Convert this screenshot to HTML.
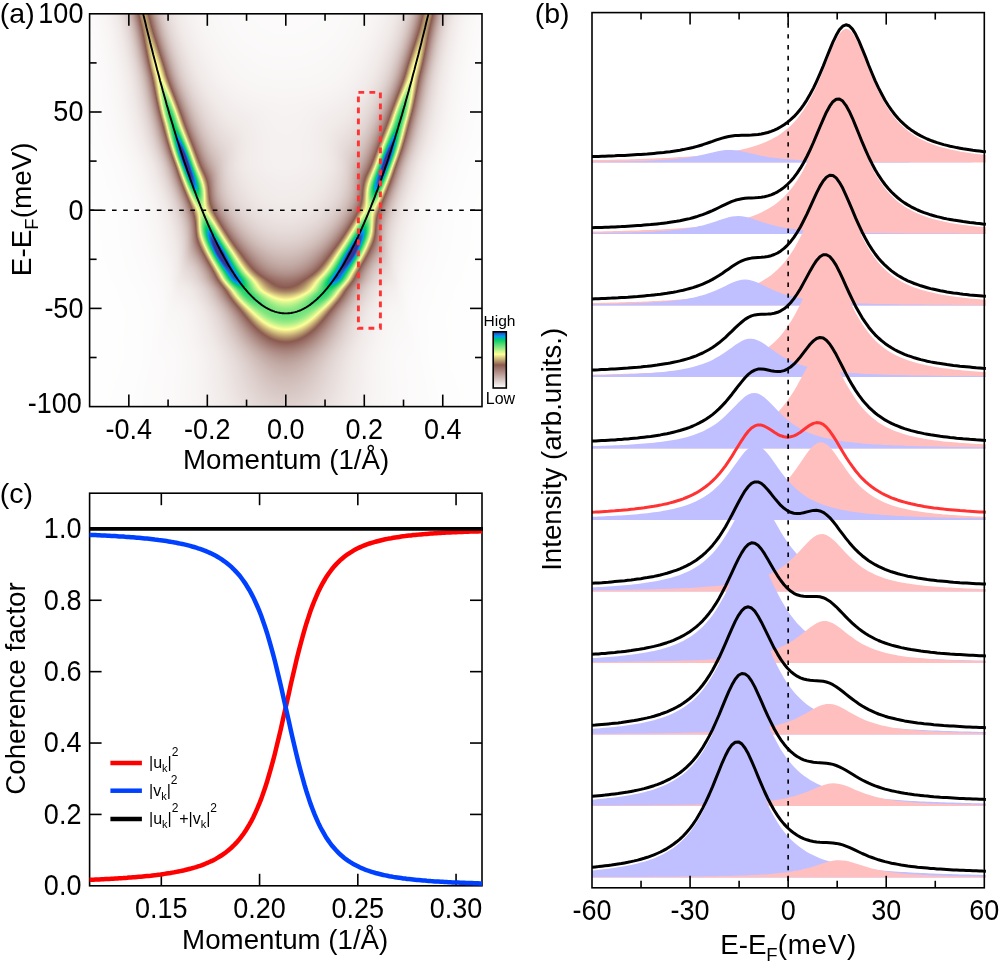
<!DOCTYPE html>
<html><head><meta charset="utf-8"><style>
html,body{margin:0;padding:0;background:#fff;width:1000px;height:966px;overflow:hidden}
#hs{position:absolute;left:90.5px;top:14px;width:195.30px;height:393px;-webkit-box-reflect:right}
#hs i{display:block;height:1px;background:linear-gradient(90deg,var(--g))}
#hm{position:absolute;left:90px;top:14px;width:392px;height:393px}
svg{position:absolute;left:0;top:0}
text{font-family:'Liberation Sans',sans-serif;fill:#000}
</style></head><body>
<div id="hs"><i style="--g:#fbfaf9,#f2edec 23px,#e4d9d7 33px,#d0bdb9 39px,#b89c95 43px,#8d5e55 48px,#966b58 49px,#b4966b 51px,#bda270 52px,#c1a772 53px,#bea471 54px,#b7996c 55px,#9b725b 57px,#8a5a50 58px,#b99c96 64px,#d1beba 69px,#e3d8d5 76px,#f1ebea 89px,#faf8f7 124px,#fcfbfa 195.3px"></i><i style="--g:#fbfaf9,#f3eeec 23px,#e5dad8 33px,#d1beba 39px,#ba9e98 43px,#8f6158 48px,#926555 49px,#b29269 51px,#bca06f 52px,#c0a772 53px,#bfa571 54px,#b99c6d 55px,#9f785d 57px,#8e6053 58px,#90635a 59px,#b79a93 64px,#d0bdb9 69px,#e3d7d5 76px,#f1ebea 89px,#faf7f7 123px,#fcfbfa 195.3px"></i><i style="--g:#fbfafa,#f2edeb 24px,#e3d7d5 34px,#cdb9b5 40px,#b4968f 44px,#91645b 48px,#8e5f52 49px,#af8e67 51px,#ba9d6e 52px,#c0a672 53px,#c0a672 54px,#bb9f6f 55px,#a37d60 57px,#936655 58px,#8e6056 59px,#b59791 64px,#cfbbb7 69px,#e2d6d4 76px,#f1ebe9 89px,#f9f7f7 122px,#fcfbfa 195.3px"></i><i style="--g:#fbfafa,#f2edec 24px,#e3d8d6 34px,#cfbbb7 40px,#b69892 44px,#8a5b51 49px,#ab8965 51px,#b79a6c 52px,#bfa471 53px,#c1a772 54px,#bda170 55px,#a78362 57px,#976c58 58px,#8c5d53 59px,#ba9e98 65px,#d2bfbb 70px,#e5dbd8 78px,#f3edec 93px,#fbf9f8 136px,#fcfbfa 195.3px"></i><i style="--g:#fbfafa,#f2edec 24px,#e4d9d7 34px,#d0bcb8 40px,#b89b95 44px,#8d5e54 49px,#976d58 50px,#b5976b 52px,#bda370 53px,#c1a772 54px,#bea371 55px,#b6996c 56px,#9b725b 58px,#8a5a50 59px,#b99c96 65px,#d1beba 70px,#e3d8d5 77px,#f1ebea 90px,#faf7f7 125px,#fcfbfa 195.3px"></i><i style="--g:#fbfafa,#f3edec 24px,#e4dad7 34px,#d1beba 40px,#ba9d97 44px,#8f6157 49px,#936756 50px,#b29369 52px,#bca06f 53px,#c0a772 54px,#bfa571 55px,#b99c6d 56px,#9f785d 58px,#8e6053 59px,#90635a 60px,#b79993 65px,#d0bdb9 70px,#e3d7d4 77px,#f1ebea 90px,#faf7f7 124px,#fcfafa 195.3px"></i><i style="--g:#fbfafa,#f3eeed 24px,#e5dad8 34px,#d2bfbb 40px,#b4958f 45px,#91645a 49px,#8e6053 50px,#af8e67 52px,#ba9e6e 53px,#c0a672 54px,#c0a672 55px,#bb9f6e 56px,#a37d5f 58px,#926655 59px,#8e6057 60px,#b59791 65px,#cfbbb7 70px,#e2d6d4 77px,#f0eae9 90px,#f9f7f7 123px,#fcfafa 195.3px"></i><i style="--g:#fbfafa,#f3eeed 24px,#e6dbd9 34px,#d3c1bd 40px,#b69891 45px,#8a5a50 50px,#ac8a65 52px,#b89b6d 53px,#bfa571 54px,#c0a772 55px,#bca16f 56px,#a68262 58px,#976c58 59px,#8c5d54 60px,#ba9e98 66px,#d2bfbb 71px,#e5dad8 79px,#f3edec 94px,#faf9f8 137px,#fcfafa 195.3px"></i><i style="--g:#fcfafa,#f3eeed 24px,#e6dcda 34px,#d4c2bf 40px,#b79a94 45px,#8c5d53 50px,#986e59 51px,#b5976b 53px,#bea370 54px,#c1a772 55px,#bea370 56px,#b6986c 57px,#9b715a 59px,#8a5a50 60px,#b99c96 66px,#d1beba 71px,#e3d7d5 78px,#f1ebea 91px,#f9f7f7 125px,#fcfafa 195.3px"></i><i style="--g:#fcfafa,#f2edec 25px,#e4d9d7 35px,#d1beba 41px,#b99d97 45px,#8e6057 50px,#946756 51px,#b39369 53px,#bca16f 54px,#c0a772 55px,#bfa571 56px,#b89b6d 57px,#9f775d 59px,#8e5f52 60px,#91635a 61px,#b79993 66px,#d0bdb8 71px,#e2d7d4 78px,#f1ebe9 91px,#f9f7f7 125px,#fcfafa 195.3px"></i><i style="--g:#fcfafa,#f3eeed 25px,#e5dad8 35px,#d2bfbb 41px,#b4958e 46px,#91635a 50px,#8f6153 51px,#b08f67 53px,#ba9e6e 54px,#c0a672 55px,#c0a672 56px,#bb9e6e 57px,#a27c5f 59px,#926555 60px,#8f6057 61px,#b59791 66px,#cfbbb7 71px,#e2d6d4 78px,#f0eae9 91px,#f9f7f7 124px,#fcfafa 195.3px"></i><i style="--g:#fcfafa,#f3eeed 25px,#e5dbd9 35px,#d3c1bd 41px,#b59791 46px,#8b5b50 51px,#ad8b66 53px,#b89b6d 54px,#bfa571 55px,#c1a772 56px,#bda170 57px,#a68262 59px,#966b58 60px,#8c5d54 61px,#ba9e98 67px,#d2bfbb 72px,#e5dad8 80px,#f2edec 95px,#faf9f8 138px,#fcfafa 195.3px"></i><i style="--g:#fcfafa,#f3eeed 25px,#e6dcd9 35px,#d4c2be 41px,#b79a94 46px,#8c5c53 51px,#b6986c 54px,#bea471 55px,#c1a872 56px,#bea471 57px,#b7996c 58px,#9b725b 60px,#8a5a50 61px,#b89c96 67px,#d1beba 72px,#e5dad7 80px,#f2eceb 94px,#faf8f8 133px,#fcfafa 195.3px"></i><i style="--g:#fcfafa,#f3eeed 25px,#e6dcda 35px,#d5c3c0 41px,#b99c96 46px,#8e5f56 51px,#956957 52px,#b4956a 54px,#bea370 55px,#c2a973 56px,#c0a672 57px,#b99d6e 58px,#9f785d 60px,#8e6053 61px,#90635a 62px,#b79993 67px,#d0bcb8 72px,#e2d7d4 79px,#f0ebe9 92px,#f9f7f7 126px,#fcfafa 195.3px"></i><i style="--g:#fcfafa,#f3efee 25px,#e5dad8 36px,#d1bfbb 42px,#b3948d 47px,#906259 51px,#916454 52px,#b29269 54px,#bca16f 55px,#c2a973 56px,#c2a973 57px,#bca16f 58px,#a47e60 60px,#936756 61px,#8e6056 62px,#b59790 67px,#cfbbb7 72px,#e2d6d3 79px,#f0eae9 92px,#f9f7f6 125px,#fcfafa 195.3px"></i><i style="--g:#fcfafa,#f3eeed 26px,#e5dbd8 36px,#d2c0bc 42px,#b59690 47px,#92655c 51px,#8d5e52 52px,#af8e67 54px,#bb9f6f 55px,#c2a973 56px,#c3ab74 57px,#bfa571 58px,#a88563 60px,#8c5c52 62px,#b3948e 67px,#ceb9b5 72px,#e1d5d3 79px,#efe9e8 91px,#f9f6f6 121px,#fcfafa 195.3px"></i><i style="--g:#fcfafa,#f3eeed 26px,#e6dbd9 36px,#d3c1be 42px,#b69992 47px,#8a5b51 52px,#ac8b66 54px,#b99d6e 55px,#c2a973 56px,#c4ac74 57px,#c2a873 58px,#b99d6e 59px,#9d755c 61px,#8c5c51 62px,#b89b95 68px,#d0bdb9 73px,#e3d7d5 80px,#f1ebe9 93px,#f9f7f7 127px,#fcfafa 195.3px"></i><i style="--g:#fcfafa,#f3eeed 26px,#e6dcda 36px,#d4c3bf 42px,#b89b95 47px,#8c5d54 52px,#986e59 53px,#b89a6d 55px,#c1a872 56px,#c5ae75 57px,#c4ac74 58px,#bda270 59px,#a27c5f 61px,#916454 62px,#8f6158 63px,#b69892 68px,#cfbcb8 73px,#e2d6d4 80px,#f0eae9 93px,#f9f7f7 127px,#fcfafa 195.3px"></i><i style="--g:#fcfbfa,#f3eeed 26px,#e7dddb 36px,#d5c4c0 42px,#ba9d97 47px,#8e6056 52px,#956957 53px,#b6986b 55px,#c1a772 56px,#c6af76 57px,#c6af75 58px,#c0a772 59px,#a78362 61px,#966c58 62px,#8d5e54 63px,#b4968f 68px,#cebab6 73px,#e2d5d3 80px,#f0eae9 93px,#f9f7f6 126px,#fcfafa 195.3px"></i><i style="--g:#fcfbfa,#f3efee 26px,#e5dad8 37px,#d2bfbb 43px,#bb9f99 47px,#906359 52px,#916454 53px,#b4956a 55px,#c0a672 56px,#c7b076 57px,#c8b177 58px,#c4ab74 59px,#ac8b65 61px,#8a5a50 63px,#b2938c 68px,#cdb9b4 73px,#e1d5d2 80px,#efe9e7 92px,#f9f6f6 122px,#fcfafa 195.3px"></i><i style="--g:#fcfbfa,#f4efee 26px,#e5dbd9 37px,#d3c1bd 43px,#b59791 48px,#92655c 52px,#8d5e52 53px,#b19269 55px,#bfa471 56px,#c7b076 57px,#cab478 58px,#c7b076 59px,#bea471 60px,#a27b5f 62px,#906253 63px,#906359 64px,#b79993 69px,#d0bcb8 74px,#e2d6d4 81px,#f0eae9 94px,#f9f7f6 128px,#fcfafa 195.3px"></i><i style="--g:#fcfbfa,#f4efee 26px,#e6dcd9 37px,#d4c2be 43px,#b79993 48px,#8a5a51 53px,#af8e67 55px,#bda270 56px,#c7b076 57px,#cbb679 58px,#cab478 59px,#c2a973 60px,#a78362 62px,#956a57 63px,#8d5f55 64px,#b59790 69px,#cfbbb7 74px,#e2d6d3 81px,#f0eae9 94px,#f9f7f6 127px,#fbfafa 195.3px"></i><i style="--g:#fcfbfa,#f3eeed 27px,#e6dcda 37px,#d5c3bf 43px,#b89c95 48px,#8c5d53 53px,#9a705a 54px,#bca06f 56px,#c7b076 57px,#ccb879 58px,#ccb779 59px,#c6af76 60px,#ad8b66 62px,#8b5b51 64px,#b3948d 69px,#cdb9b5 74px,#e1d5d2 81px,#f0eae8 94px,#f9f6f6 126px,#fbfafa 195.3px"></i><i style="--g:#fcfbfa,#f3eeed 27px,#e5dad7 38px,#d1beba 44px,#ba9e98 48px,#8e6056 53px,#966b58 54px,#ba9d6e 56px,#c6af75 57px,#cdb97a 58px,#cfbb7b 59px,#cab478 60px,#b29369 62px,#8f6153 64px,#91635a 65px,#b89a94 70px,#d0bdb9 75px,#e2d7d4 82px,#f0eae9 95px,#f9f7f6 129px,#fbfafa 195.3px"></i><i style="--g:#fcfbfa,#f3efee 27px,#e5dad8 38px,#d2c0bc 44px,#bba09a 48px,#906259 53px,#926655 54px,#b89a6c 56px,#c5ad75 57px,#ceba7a 58px,#d1be7c 59px,#cdb97a 60px,#c5ad75 61px,#a78362 63px,#956957 64px,#8e6056 65px,#b69891 70px,#cfbbb7 75px,#e2d6d3 82px,#f0eae9 95px,#f9f7f6 128px,#fbfafa 195.3px"></i><i style="--g:#fcfbfa,#f4efee 27px,#e5dbd9 38px,#d3c1bd 44px,#bda29c 48px,#92655c 53px,#8f6053 54px,#b5976b 56px,#c4ac74 57px,#ceba7a 58px,#d2c07d 59px,#d1be7c 60px,#c9b378 61px,#ad8c66 63px,#8b5b52 65px,#b4958e 70px,#cebab5 75px,#e1d5d2 82px,#f0eae8 95px,#f9f7f6 128px,#fbfafa 195.3px"></i><i style="--g:#fcfbfb,#f4efee 27px,#e6dcd9 38px,#d4c2be 44px,#bea49e 48px,#9d756d 52px,#8b5b50 54px,#b39369 56px,#c3aa73 57px,#ceba7a 58px,#d4c27e 59px,#d4c27e 60px,#ceb97a 61px,#b3946a 63px,#8e6053 65px,#91645b 66px,#b89b95 71px,#d0bdb9 76px,#e4d9d7 84px,#f1eceb 98px,#faf8f7 137px,#fbfaf9 195.3px"></i><i style="--g:#fcfbfb,#f4efee 27px,#e6dcda 38px,#d5c3c0 44px,#b99c96 49px,#8c5c52 54px,#c1a772 57px,#ceb97a 58px,#d5c47f 59px,#d6c680 60px,#d2bf7d 61px,#c8b176 62px,#a88463 64px,#956957 65px,#8e6056 66px,#b69892 71px,#cfbcb7 76px,#e2d6d3 83px,#f0eae9 96px,#f9f7f6 129px,#fbfaf9 195.3px"></i><i style="--g:#fcfbfb,#f4efef 27px,#e7dddb 38px,#d5c4c1 44px,#ba9e98 49px,#8d5f55 54px,#986e59 55px,#bfa471 57px,#cdb87a 58px,#d6c57f 59px,#d9c981 60px,#d5c47f 61px,#cdb87a 62px,#ae8d66 64px,#8b5c52 66px,#b4958f 71px,#cebab6 76px,#e1d5d2 83px,#f0eae8 96px,#f9f6f6 129px,#fbfaf9 195.3px"></i><i style="--g:#fcfbfb,#f3efee 28px,#e5dad8 39px,#d2c0bc 45px,#bca09a 49px,#997067 53px,#8f6258 54px,#946956 55px,#bca16f 57px,#ccb779 58px,#d6c57f 59px,#dbcc82 60px,#d9c981 61px,#d1bf7d 62px,#b4966a 64px,#8e5f52 66px,#91655b 67px,#b99c96 72px,#d1bdba 77px,#e4d9d7 85px,#f2eceb 100px,#faf8f7 141px,#fbfaf9 195.3px"></i><i style="--g:#fcfbfb,#f4efee 28px,#e5dbd9 39px,#d3c1bd 45px,#bda29c 49px,#9b726a 53px,#91645b 54px,#906354 55px,#ba9d6e 57px,#cab578 58px,#d6c57f 59px,#dcce83 60px,#dcce83 61px,#d6c57f 62px,#bb9f6e 64px,#946957 66px,#8e6057 67px,#b79993 72px,#cfbcb8 77px,#e2d6d3 84px,#f0eae8 97px,#f9f7f6 131px,#fbfaf9 195.3px"></i><i style="--g:#fcfbfb,#f4efee 28px,#e6dcd9 39px,#d4c2bf 45px,#bea49e 49px,#9d756d 53px,#8c5d51 55px,#b7996c 57px,#c8b277 58px,#d6c57f 59px,#ddd084 60px,#dfd285 61px,#dacb82 62px,#d0bc7c 63px,#af8e67 65px,#8b5c52 67px,#b59690 72px,#cebab6 77px,#e1d5d2 84px,#f0e9e8 97px,#f9f6f6 130px,#fbfaf9 195.3px"></i><i style="--g:#fcfbfb,#f4efee 28px,#e6dcda 39px,#d5c3c0 45px,#c0a6a0 49px,#9f7870 53px,#8b5b51 55px,#c6af76 58px,#d5c47f 59px,#ded185 60px,#e1d587 61px,#ded185 62px,#d5c47f 63px,#b6976b 65px,#8e5f52 67px,#92655c 68px,#b99c96 73px,#d1beba 78px,#e4d9d7 86px,#f2eceb 101px,#faf8f7 142px,#fbf9f9 195.3px"></i><i style="--g:#fcfbfb,#f4efee 28px,#e7dddb 39px,#d6c5c1 45px,#ba9e98 50px,#976d64 54px,#8d5e54 55px,#9a715a 56px,#c4ac74 58px,#d4c27e 59px,#dfd185 60px,#e3d888 61px,#e2d687 62px,#dacb82 63px,#bca16f 65px,#946956 67px,#8f6157 68px,#b79993 73px,#d0bcb8 78px,#e2d6d3 85px,#f0eae8 98px,#f9f6f6 132px,#fbf9f9 195.3px"></i><i style="--g:#fcfbfb,#f4f0ef 28px,#e7dddb 39px,#d6c6c2 45px,#bca09a 50px,#996f67 54px,#8f6157 55px,#966b58 56px,#c1a872 58px,#d2c07d 59px,#dfd185 60px,#e5da89 61px,#e5da89 62px,#dfd185 63px,#d3c17d 64px,#b08f68 66px,#9b725b 67px,#8c5c52 68px,#b59690 73px,#cebab6 78px,#e1d5d2 85px,#f0e9e8 98px,#f9f6f6 131px,#fbf9f9 195.3px"></i><i style="--g:#fcfbfb,#f4f0ef 28px,#e8dedc 39px,#d7c7c3 45px,#bda29d 50px,#9b726a 54px,#91645a 55px,#926555 56px,#bea370 58px,#d0bd7c 59px,#ded184 60px,#e6dc8a 61px,#e8de8b 62px,#e3d888 63px,#d8c981 64px,#b7996c 66px,#8d5f52 68px,#92655c 69px,#b3938d 73px,#cdb9b4 78px,#e1d4d1 85px,#efe9e8 98px,#f9f6f5 130px,#fbf9f9 195.3px"></i><i style="--g:#fcfbfb,#f4efee 29px,#e6dcd9 40px,#d4c2bf 46px,#bfa49f 50px,#9d756d 54px,#93675d 55px,#8e5f52 56px,#ceba7a 59px,#ddcf84 60px,#e7dd8a 61px,#eae28c 62px,#e7dd8a 63px,#ded084 64px,#bda370 66px,#946856 68px,#8f6157 69px,#b1908a 73px,#ccb7b2 78px,#e0d3d0 85px,#eee8e6 97px,#f8f5f5 127px,#fbf9f9 195.3px"></i><i style="--g:#fcfbfb,#f4efee 29px,#e6dcda 40px,#d5c4c0 46px,#c0a6a1 50px,#9f7870 54px,#8a5b51 56px,#cbb679 59px,#dccd83 60px,#e7dd8a 61px,#ece58d 62px,#ebe28c 63px,#e3d787 64px,#c4ac74 66px,#9b725b 68px,#8c5d53 69px,#ae8d86 73px,#cab5b0 78px,#dfd2cf 85px,#eee7e6 97px,#f8f5f4 126px,#fbf9f9 195.3px"></i><i style="--g:#fcfbfb,#f4efee 29px,#e7dddb 40px,#d6c5c1 46px,#bb9e99 51px,#976c64 55px,#8d5e54 56px,#9c735b 57px,#c8b277 59px,#dacb82 60px,#e7dd8a 61px,#eee78e 62px,#eee78e 63px,#e8de8a 64px,#dbcd83 65px,#b79a6c 67px,#8d5e52 69px,#9c736a 71px,#b99d97 75px,#d1beba 80px,#e4d9d7 88px,#f2eceb 103px,#faf7f7 144px,#fbf9f9 195.3px"></i><i style="--g:#fcfbfb,#f4f0ef 29px,#e7dddb 40px,#d7c6c2 46px,#bca19b 51px,#996f67 55px,#8f6157 56px,#976d58 57px,#c5ad75 59px,#d8c880 60px,#e6dc89 61px,#efe88f 62px,#f1eb90 63px,#ece48d 64px,#e1d586 65px,#bea471 67px,#946856 69px,#8f6158 70px,#b1918a 74px,#ccb7b3 79px,#e0d3d0 86px,#eee7e6 98px,#f8f5f5 128px,#fbf9f9 195.3px"></i><i style="--g:#fcfbfb,#f4f0ef 29px,#e8dedc 40px,#d7c7c4 46px,#bda39d 51px,#9b726a 55px,#91645a 56px,#936655 57px,#d5c47f 60px,#e5da89 61px,#efe98f 62px,#f3ee91 63px,#f0ea90 64px,#e6dc8a 65px,#c5ae75 67px,#9b725b 69px,#8c5d53 70px,#af8e87 74px,#cbb5b1 79px,#dfd2cf 86px,#eee7e6 98px,#f8f5f4 127px,#fbf9f9 195.3px"></i><i style="--g:#fcfbfb,#f4f0ef 29px,#e8dedc 40px,#d4c3bf 47px,#bfa59f 51px,#9d756d 55px,#93675e 56px,#8e6053 57px,#d2c07d 60px,#e3d888 61px,#efe98f 62px,#f5f093 63px,#f3ef92 64px,#ebe38d 65px,#ccb779 67px,#8c5d51 70px,#b3948e 75px,#cdb9b5 80px,#e0d4d1 87px,#efe9e7 100px,#f8f6f5 132px,#fbf9f9 195.3px"></i><i style="--g:#fcfbfb,#f4f0ef 29px,#e6dcda 41px,#d5c4c0 47px,#c0a7a1 51px,#a07870 55px,#8a5b51 57px,#cfbb7b 60px,#e1d586 61px,#efe88f 62px,#f6f293 63px,#f6f394 64px,#f0ea90 65px,#e4d888 66px,#bfa571 68px,#936756 70px,#906258 71px,#b1918b 75px,#ccb7b3 80px,#e0d3d0 87px,#eee7e6 99px,#f8f5f4 129px,#fbf9f9 195.3px"></i><i style="--g:#fcfbfb,#f4efee 30px,#e7dddb 41px,#d6c5c2 47px,#bb9f99 52px,#976d64 56px,#8d5e54 57px,#9c745b 58px,#cbb678 60px,#dfd185 61px,#eee68e 62px,#f7f394 63px,#f9f695 64px,#f4f092 65px,#e9e08b 66px,#c6ae75 68px,#9a715a 70px,#8c5d54 71px,#af8e87 75px,#cbb5b1 80px,#dfd2cf 87px,#eee7e5 99px,#f8f5f4 128px,#fbf9f8 195.3px"></i><i style="--g:#fcfbfb,#f4efef 30px,#e7dddb 41px,#d7c6c3 47px,#bda19c 52px,#9a7067 56px,#8f6157 57px,#976d58 58px,#dbcd83 61px,#ece48d 62px,#f7f394 63px,#fbf996 64px,#f8f595 65px,#eee88f 66px,#cdb87a 68px,#8c5c51 71px,#b4958e 76px,#cdb9b5 81px,#e0d4d1 88px,#efe9e7 101px,#f8f5f5 133px,#fbf9f8 195.3px"></i><i style="--g:#fcfbfb,#f4f0ef 30px,#e8dedc 41px,#d4c2be 48px,#bea39e 52px,#9c736b 56px,#91645b 57px,#926655 58px,#d8c881 61px,#eae18c 62px,#f6f394 63px,#fcfb97 64px,#fbf997 65px,#f3ee92 66px,#e6db89 67px,#bfa571 69px,#926655 71px,#906359 72px,#b2928b 76px,#ccb7b3 81px,#e0d3d0 88px,#efe8e7 101px,#f8f5f5 133px,#fbf9f8 195.3px"></i><i style="--g:#fcfbfb,#f4f0ef 30px,#e8dfdd 41px,#d5c3bf 48px,#bfa5a0 52px,#9e766e 56px,#8d5e52 58px,#d4c37e 61px,#e7dd8a 62px,#f5f193 63px,#fdfc98 64px,#fefd98 65px,#f8f494 66px,#ebe38d 67px,#c6ae75 69px,#9a705a 71px,#8d5e54 72px,#af8f88 76px,#cbb5b1 81px,#dfd2cf 88px,#eee7e5 100px,#f8f5f4 129px,#faf9f8 195.3px"></i><i style="--g:#fcfbfb,#f4f0ef 30px,#e6dcda 42px,#d5c4c1 48px,#c1a7a2 52px,#a07a71 56px,#8b5b52 58px,#e4d988 62px,#f4ef92 63px,#fdfd98 64px,#feff99 65px,#fbfa97 66px,#f1eb90 67px,#cdb87a 69px,#8a5a50 72px,#ad8b84 76px,#c9b3af 81px,#ded1ce 88px,#eee6e5 100px,#f7f4f4 128px,#faf9f8 195.3px"></i><i style="--g:#fcfbfb,#f5f0ef 30px,#e7dddb 42px,#d6c6c2 48px,#bca09a 53px,#986e66 57px,#8e5f55 58px,#9b725b 59px,#e1d486 62px,#f2ec91 63px,#fdfc98 64px,#ff9 66px,#f5f193 67px,#d4c27e 69px,#916455 72px,#91635a 73px,#b2928c 77px,#ccb7b3 82px,#e0d3d0 89px,#efe8e7 102px,#f8f5f5 134px,#faf8f8 195.3px"></i><i style="--g:#fcfbfb,#f4efef 31px,#e7dedc 42px,#d7c7c3 48px,#bda29d 53px,#9b7269 57px,#906259 58px,#956a57 59px,#ddcf84 62px,#efe88f 63px,#fcfb97 64px,#fbfe98 66px,#faf896 67px,#ece58d 68px,#c5ad75 70px,#986e59 72px,#8e5f55 73px,#b08f89 77px,#cbb6b1 82px,#dfd2cf 89px,#eee7e5 101px,#f7f4f4 130px,#faf8f8 195.3px"></i><i style="--g:#fcfbfb,#f4f0ef 31px,#e8dedc 42px,#d4c2bf 49px,#bfa49f 53px,#9d756d 57px,#92665d 58px,#906254 59px,#d8c881 62px,#ece48d 63px,#faf896 64px,#f8fe98 66px,#fefd98 67px,#f2ec91 68px,#ccb779 70px,#8b5b51 73px,#ae8c85 77px,#cab4af 82px,#ded1ce 89px,#ede6e5 101px,#f7f4f4 130px,#faf8f8 195.3px"></i><i style="--g:#fcfbfb,#f4f0ef 31px,#e6dcda 43px,#d5c4c0 49px,#c0a7a1 53px,#9f7870 57px,#8a5a50 59px,#d4c27e 62px,#e8df8b 63px,#f8f595 64px,#fafe98 65px,#f5fd97 66px,#fcfe98 67px,#f6f394 68px,#d3c17d 70px,#906253 73px,#91645b 74px,#b2938c 78px,#ccb8b3 83px,#e0d3d0 90px,#efe8e6 103px,#f8f5f4 135px,#faf8f8 195.3px"></i><i style="--g:#fcfbfb,#f4f0ef 31px,#e7dddb 43px,#d6c5c1 49px,#bb9f99 54px,#976d64 58px,#8c5e54 59px,#9d755c 60px,#e4d988 63px,#f6f293 64px,#fbfe98 65px,#f4fd97 66px,#fbf996 68px,#d9ca81 70px,#966b58 73px,#8e6057 74px,#b09089 78px,#cbb6b1 83px,#dfd2cf 90px,#eee6e5 102px,#f7f4f4 131px,#faf8f8 195.3px"></i><i style="--g:#fcfbfb,#f5f0ef 31px,#e7dddb 43px,#d7c6c3 49px,#bda19c 54px,#9a7068 58px,#8f6158 59px,#986d58 60px,#e0d385 63px,#f2ed91 64px,#feff99 65px,#f3fd97 66px,#f4fd97 67px,#ff9 68px,#f1ec91 69px,#cab578 71px,#9d755c 73px,#8b5c52 74px,#ae8d86 78px,#cab4af 83px,#ded1ce 90px,#ede6e5 102px,#f7f4f3 131px,#faf8f8 195.3px"></i><i style="--g:#fcfbfb,#f5f0f0 31px,#e7dedc 43px,#d4c2be 50px,#bea49e 54px,#9c746b 58px,#92655c 59px,#926555 60px,#dbcc82 63px,#efe88f 64px,#fdfd98 65px,#f4fd97 66px,#f1fc96 67px,#fafe98 68px,#f6f394 69px,#d1be7c 71px,#8d5f52 74px,#92665c 75px,#b3948d 79px,#cdb8b4 84px,#e0d3d0 91px,#eee8e6 104px,#f8f5f4 136px,#faf8f8 195.3px"></i><i style="--g:#fcfbfb,#f5f1f0 31px,#e8dedc 43px,#d5c3c0 50px,#c0a6a0 54px,#9f776f 58px,#8c5c51 60px,#d5c47f 63px,#eae28c 64px,#fbf996 65px,#f0fc96 67px,#fbf996 69px,#d7c780 71px,#946856 74px,#8f6258 75px,#b1918a 79px,#cbb6b2 84px,#dfd2cf 91px,#eee7e6 104px,#f8f5f4 135px,#faf8f8 195.3px"></i><i style="--g:#fcfbfb,#f4f0ef 32px,#e6dcda 44px,#d5c4c1 50px,#bb9f99 55px,#976c63 59px,#8c5d53 60px,#9f775d 61px,#e6db89 64px,#f7f494 65px,#f8fe98 66px,#effc96 67px,#f2fc96 68px,#fefe99 69px,#f0ea90 70px,#c8b177 72px,#9b715a 74px,#8d5e54 75px,#af8e87 79px,#cab4b0 84px,#ded1ce 91px,#ede6e4 103px,#f7f4f3 132px,#faf8f7 195.3px"></i><i style="--g:#fdfbfb,#f4f0ef 32px,#e7dddb 44px,#d6c6c2 50px,#bca19b 55px,#9a7067 59px,#8f6157 60px,#986e59 61px,#e0d486 64px,#f3ef92 65px,#fcfe98 66px,#f0fc96 67px,#f0fc96 68px,#fbfe98 69px,#f5f093 70px,#ceba7b 72px,#8b5b51 75px,#b4958e 80px,#cdb8b4 85px,#e0d3d0 92px,#eee7e6 105px,#f8f5f4 137px,#faf8f7 195.3px"></i><i style="--g:#fdfcfb,#f5f0ef 32px,#e7dedb 44px,#d3c1be 51px,#bea39e 55px,#9c746b 59px,#92655b 60px,#926555 61px,#dbcc83 64px,#efe88f 65px,#fefe98 66px,#f2fc96 67px,#effc96 68px,#f7fd97 69px,#f9f695 70px,#d4c37e 72px,#916454 75px,#91635a 76px,#b2928b 80px,#ccb6b2 85px,#dfd2cf 92px,#eee7e6 105px,#f7f4f4 136px,#faf8f7 195.3px"></i><i style="--g:#fdfcfb,#f5f0f0 32px,#e8dedc 44px,#d4c3bf 51px,#c0a6a0 55px,#9f776f 59px,#8c5c51 61px,#d5c47f 64px,#eae28c 65px,#fbf996 66px,#eefc96 68px,#fdfc98 70px,#dacb82 72px,#986d58 75px,#8e5f56 76px,#af8f88 80px,#cab5b0 85px,#ded1ce 92px,#ede6e4 104px,#f7f4f3 133px,#faf8f7 195.3px"></i><i style="--g:#fdfcfb,#f5f1f0 32px,#e8dfdd 44px,#d5c4c0 51px,#ba9e98 56px,#976c63 60px,#8c5d53 61px,#9e775d 62px,#e5db89 65px,#f7f494 66px,#f7fd97 67px,#eefc96 68px,#f0fc96 69px,#fdff99 70px,#f2ed91 71px,#cbb679 73px,#9e765d 75px,#8b5b51 76px,#ad8c85 80px,#c9b3ae 85px,#ded0cd 92px,#ede5e4 104px,#f7f3f3 132px,#faf8f7 195.3px"></i><i style="--g:#fdfcfb,#f5f1f0 32px,#e8dfdd 44px,#d6c5c2 51px,#bca09b 56px,#997067 60px,#8f6057 61px,#996f59 62px,#e1d486 65px,#f4ef92 66px,#fbfe98 67px,#eefc96 68px,#edfb95 69px,#f7fd97 70px,#f8f494 71px,#d2c07d 73px,#8f6153 76px,#92655b 77px,#b2928c 81px,#ccb7b2 86px,#dfd2cf 93px,#eee7e5 106px,#f7f4f4 137px,#faf7f7 195.3px"></i><i style="--g:#fdfcfb,#f4f0ef 33px,#e7dddb 45px,#d3c1bd 52px,#bda39d 56px,#9c736b 60px,#91645b 61px,#936656 62px,#dcce83 65px,#f0ea90 66px,#feff99 67px,#effc96 68px,#ebfb95 69px,#fdfc97 71px,#d9c981 73px,#966b57 76px,#8f6057 77px,#b08f89 81px,#cab5b0 86px,#ded1ce 93px,#ede5e4 105px,#f7f3f3 134px,#faf7f7 195.3px"></i><i style="--g:#fdfcfb,#f5f0ef 33px,#e7dedc 45px,#d4c2be 52px,#bfa59f 56px,#9e766e 60px,#8d5f52 62px,#d7c780 65px,#ece58d 66px,#fdfd98 67px,#effc96 68px,#e8fa94 69px,#ecfb95 70px,#fbfe98 71px,#f3ee91 72px,#b4956a 75px,#9d755c 76px,#8b5c52 77px,#ad8c85 81px,#c9b3ae 86px,#ddd0cd 93px,#ede5e3 105px,#f7f3f2 133px,#faf7f7 195.3px"></i><i style="--g:#fdfcfb,#f5f0ef 33px,#e8dedc 45px,#d5c3c0 52px,#ba9d97 57px,#966b62 61px,#8b5b51 62px,#e9e08b 66px,#fbf997 67px,#e6fa94 69px,#e7fa94 70px,#f3fd97 71px,#f9f695 72px,#d2c07d 74px,#8e6053 77px,#92655c 78px,#b2928c 82px,#cbb6b2 87px,#dfd1cf 94px,#eee7e5 107px,#f7f4f3 138px,#f9f7f7 195.3px"></i><i style="--g:#fdfcfb,#f5f0f0 33px,#e8dfdd 45px,#d5c4c1 52px,#bb9f99 57px,#986e65 61px,#8d5f55 62px,#9c735b 63px,#e5da89 66px,#f8f695 67px,#f2fc96 68px,#e5fa94 69px,#e3f993 70px,#ecfb95 71px,#ff9 72px,#daca82 74px,#966b57 77px,#8f6057 78px,#b08f88 82px,#cab4b0 87px,#ded0cd 94px,#ede5e3 106px,#f7f3f2 135px,#f9f7f7 195.3px"></i><i style="--g:#fdfcfb,#f5f1f0 33px,#e8dfdd 45px,#d6c6c2 52px,#bda19c 57px,#9a7169 61px,#906258 62px,#966b58 63px,#e1d486 66px,#f6f293 67px,#f4fd97 68px,#e4fa94 69px,#dff993 70px,#e5fa94 71px,#f5fd97 72px,#f5f193 73px,#b5966b 76px,#9e765c 77px,#8b5c52 78px,#ad8c85 82px,#c9b2ae 87px,#ddcfcc 94px,#ece5e3 106px,#f6f3f2 134px,#f9f7f6 195.3px"></i><i style="--g:#fdfcfb,#f5f1f0 33px,#e9e0de 45px,#d7c7c3 52px,#bea39e 57px,#9d746c 61px,#92655c 62px,#916455 63px,#ddcf84 66px,#f3ee91 67px,#f6fd97 68px,#e3f993 69px,#dbf892 70px,#def892 71px,#fcfb97 73px,#d4c27e 75px,#8f6253 78px,#91645b 79px,#b2928b 83px,#cbb6b1 88px,#ded1ce 95px,#ede6e5 108px,#f7f4f3 139px,#f9f7f6 195.3px"></i><i style="--g:#fdfcfb,#f5f1f0 33px,#e7dedb 46px,#d4c2bf 53px,#b89b95 58px,#8c5d51 63px,#f0e98f 67px,#f9fe98 68px,#e3f993 69px,#d7f791 70px,#d7f791 71px,#e3f993 72px,#f8fe98 73px,#f2ec91 74px,#976d58 78px,#8e6056 79px,#af8e88 83px,#cab4af 88px,#ddd0cd 95px,#ece5e3 107px,#f6f3f2 135px,#f9f7f6 195.3px"></i><i style="--g:#fdfcfb,#f4f0ef 34px,#e8dedc 46px,#d5c3c0 53px,#ba9d98 58px,#966b62 62px,#8b5c52 63px,#a17a5e 64px,#ece58d 67px,#fcfe98 68px,#e3f993 69px,#d5f791 70px,#d1f690 71px,#daf892 72px,#ecfb95 73px,#faf896 74px,#8a5a50 79px,#ad8b84 83px,#c8b1ad 88px,#ddcecc 95px,#ece4e2 107px,#f6f2f2 135px,#f9f7f6 195.3px"></i><i style="--g:#fdfcfb,#f5f0ef 34px,#e8dedc 46px,#d5c4c1 53px,#bb9f9a 58px,#986e66 62px,#8d5f55 63px,#9c735b 64px,#e9e08b 67px,#fffe99 68px,#e4fa94 69px,#d3f690 70px,#ccf58f 71px,#d1f690 72px,#e1f993 73px,#fafe98 74px,#eee78e 75px,#916555 79px,#91635a 80px,#b1918a 84px,#cab5b0 89px,#ded0cd 96px,#ede6e4 109px,#f7f3f2 139px,#f9f6f6 195.3px"></i><i style="--g:#fdfcfb,#f5f0f0 34px,#e8dfdd 46px,#d6c5c2 53px,#bda19c 58px,#9a7169 62px,#906258 63px,#976c58 64px,#e5da89 67px,#fcfb97 68px,#d1f690 70px,#c7f48e 71px,#c9f48e 72px,#d7f791 73px,#eefc96 74px,#f7f494 75px,#9a705a 79px,#8d5e54 80px,#ae8d86 84px,#c9b3ae 89px,#ddcfcc 96px,#ece4e2 108px,#f6f2f1 136px,#f9f6f6 195.3px"></i><i style="--g:#fdfcfb,#f5f1f0 34px,#e9dfdd 46px,#d7c6c3 53px,#bea39e 58px,#9c746c 62px,#92655c 63px,#926555 64px,#f9f795 68px,#e8fa94 69px,#d0f690 70px,#c3f38d 71px,#c2f38d 72px,#ccf58f 73px,#e1f993 74px,#feff99 75px,#ba9e6e 78px,#8c5d51 80px,#b2938d 85px,#cbb6b2 90px,#e0d3d0 98px,#eee7e6 112px,#f7f4f3 147px,#f9f6f6 195.3px"></i><i style="--g:#fdfcfb,#f5f1f0 34px,#e7dddb 47px,#d4c2be 54px,#b89b95 59px,#8d5e52 64px,#f6f293 68px,#ebfb95 69px,#d0f690 70px,#c0f28c 71px,#bbf18b 72px,#c2f38d 73px,#d5f791 74px,#f0fc96 75px,#f4ef92 76px,#956957 80px,#8f6158 81px,#b09089 85px,#cab4af 90px,#ddcfcc 97px,#ede5e3 110px,#f6f3f2 140px,#f9f6f5 195.3px"></i><i style="--g:#fdfcfc,#f5f1f0 34px,#e7dedc 47px,#d4c3bf 54px,#ba9d97 59px,#966b62 63px,#8b5b51 64px,#bda270 66px,#f2ed91 68px,#eefc96 69px,#d1f690 70px,#bdf28c 71px,#b5f08a 72px,#b9f18b 73px,#c9f48e 74px,#fdfc98 76px,#9d755c 80px,#8b5c52 81px,#ad8c85 85px,#c8b2ad 90px,#dccecb 97px,#ebe3e2 109px,#f6f2f1 137px,#f9f6f5 195.3px"></i><i style="--g:#fdfcfc,#f5f1f0 34px,#e8dedc 47px,#d5c4c0 54px,#bb9f99 59px,#986e65 63px,#8d5e54 64px,#9d755c 65px,#efe88f 68px,#f2fc96 69px,#d2f690 70px,#bbf18b 71px,#b0ef89 72px,#b0ef89 73px,#bdf28c 74px,#d4f690 75px,#f3fd97 76px,#f0ea90 77px,#8f6253 81px,#92655b 82px,#b1928b 86px,#cab5b0 91px,#dfd2cf 99px,#eee7e5 113px,#f7f3f3 147px,#f8f6f5 195.3px"></i><i style="--g:#fdfcfc,#f5f1f0 34px,#e8dfdd 47px,#d6c5c2 54px,#bca19b 59px,#9a7168 63px,#8f6158 64px,#986e59 65px,#ebe28c 68px,#f7fd97 69px,#d4f690 70px,#baf18b 71px,#abee88 72px,#a8ee88 73px,#b2f08a 74px,#c6f48e 75px,#e3f993 76px,#faf896 77px,#986e59 81px,#8e5f56 82px,#af8e87 86px,#c9b3ae 91px,#ddcecb 98px,#ece4e3 111px,#f6f2f1 141px,#f8f6f5 195.3px"></i><i style="--g:#fdfcfc,#f5f0ef 35px,#e8dfdd 47px,#d7c6c3 54px,#bea39d 59px,#9c746b 63px,#91645b 64px,#946756 65px,#e6dc8a 68px,#fcfe98 69px,#d7f791 70px,#baf18b 71px,#a7ed87 72px,#a1ec86 73px,#a7ed87 74px,#b9f18b 75px,#d4f690 76px,#f7fd97 77px,#ece48d 78px,#8a5a50 82px,#ac8a83 86px,#c7b0ac 91px,#dccdca 98px,#ebe3e1 110px,#f5f1f0 137px,#f8f5f5 195.3px"></i><i style="--g:#fdfcfc,#f5f0f0 35px,#e7dddb 48px,#d3c2be 55px,#b89b95 60px,#94675e 64px,#8f6053 65px,#fdfd98 69px,#bbf18b 71px,#a5ed87 72px,#9beb85 73px,#9eec86 74px,#acee88 75px,#c6f48e 76px,#e7fa94 77px,#f7f394 78px,#936756 82px,#906259 83px,#b09089 87px,#cab4af 92px,#ddcfcc 99px,#ece4e3 112px,#f6f2f1 142px,#f8f5f5 195.3px"></i><i style="--g:#fdfcfc,#f5f1f0 35px,#e7dddb 48px,#d4c3bf 55px,#ba9d97 60px,#966a61 64px,#8a5a50 65px,#f9f795 69px,#dff993 70px,#bcf28c 71px,#a3ed87 72px,#95ea84 73px,#95ea84 74px,#a0ec86 75px,#b7f18b 76px,#fcfe98 78px,#e8de8a 79px,#9c745b 82px,#8c5d53 83px,#ae8c85 87px,#c8b1ad 92px,#dccdca 99px,#ebe3e1 111px,#f5f1f0 139px,#f8f5f5 195.3px"></i><i style="--g:#fdfcfc,#f5f1f0 35px,#e7dedc 48px,#d5c4c0 55px,#bb9f99 60px,#986d65 64px,#8c5e54 65px,#9f785d 66px,#f5f193 69px,#e4fa94 70px,#bff28c 71px,#a2ec86 72px,#91e983 73px,#8de882 74px,#95ea84 75px,#a9ee88 76px,#c7f48e 77px,#ebfb95 78px,#f2ed91 79px,#8e6053 83px,#92655c 84px,#b2928b 88px,#cab5b0 93px,#dfd1cf 101px,#ede6e4 115px,#f6f3f2 149px,#f8f5f4 195.3px"></i><i style="--g:#fdfcfc,#f5f1f0 35px,#e8dedc 48px,#d6c5c1 55px,#bca19b 60px,#9a7068 64px,#8f6157 65px,#9a705a 66px,#f0ea90 69px,#eafb95 70px,#c2f38d 71px,#a3ed87 72px,#8ee882 73px,#86e781 74px,#8ae882 75px,#9beb85 76px,#b7f18b 77px,#fdfd98 79px,#976c58 83px,#8e6056 84px,#af8e87 88px,#c9b2ae 93px,#dccecb 100px,#ece4e2 113px,#f5f1f0 142px,#f8f5f4 195.3px"></i><i style="--g:#fdfcfc,#f5f1f0 35px,#e8dfdd 48px,#d6c6c2 55px,#bea39d 60px,#9c736b 64px,#91645b 65px,#956957 66px,#ebe38d 69px,#f1fc96 70px,#c7f48e 71px,#a4ed87 72px,#8ce882 73px,#80e680 74px,#81e680 75px,#8fe983 76px,#a8ee88 77px,#f0fc96 79px,#eee78e 80px,#a0795e 83px,#8a5b51 84px,#ac8b84 88px,#c7b0ab 93px,#dbccc9 100px,#eae2e0 112px,#f5f0ef 139px,#f8f5f4 195.3px"></i><i style="--g:#fdfcfc,#f5f1f0 35px,#e8dfdd 48px,#d7c7c3 55px,#bfa59f 60px,#9e766e 64px,#93675e 65px,#8f6153 66px,#e6dc89 69px,#f8fe98 70px,#ccf58f 71px,#a7ed87 72px,#8be882 73px,#7be57f 74px,#78e47e 75px,#83e680 76px,#99eb85 77px,#b9f18b 78px,#dff993 79px,#f9f695 80px,#aa8764 83px,#926555 84px,#90635a 85px,#b0908a 89px,#c9b3af 94px,#ded1ce 102px,#ede5e4 116px,#f6f2f1 149px,#f8f5f4 195.3px"></i><i style="--g:#fdfcfc,#f5f1f0 35px,#e9e0de 48px,#d8c8c4 55px,#c0a7a1 60px,#a07971 64px,#8a5a50 66px,#ff9 70px,#ae8 72px,#8be882 73px,#77e47e 74px,#70e27c 75px,#77e47e 76px,#8be882 77px,#a8ee88 78px,#f7fd97 80px,#e9e08b 81px,#9b725b 84px,#8d5e54 85px,#ae8d86 89px,#c8b1ac 94px,#dbcdca 101px,#ebe3e1 114px,#f5f1f0 143px,#f7f4f4 195.3px"></i><i style="--g:#fdfcfc,#f5f0f0 36px,#e7dedc 49px,#d5c4c0 56px,#bb9f99 61px,#a27c74 64px,#8c5d54 66px,#a0785d 67px,#f9f795 70px,#d9f791 71px,#afef89 72px,#8ce882 73px,#75e37d 74px,#6ae17b 75px,#6de27c 76px,#7de57f 77px,#99eb85 78px,#e5fa94 80px,#f4ef92 81px,#a47f60 84px,#8d5e52 85px,#b2928c 90px,#cab4b0 95px,#ded1ce 103px,#ede5e4 117px,#f5f2f1 150px,#f7f4f4 195.3px"></i><i style="--g:#fdfcfc,#f5f1f0 36px,#e8dedc 49px,#d6c5c1 56px,#bca19c 61px,#9a7168 65px,#8f6157 66px,#9a705a 67px,#f4ef92 70px,#e1f993 71px,#b4f08a 72px,#8fe983 73px,#73e37d 74px,#65e07a 75px,#64e07a 76px,#71e37d 77px,#89e781 78px,#abee88 79px,#ff9 81px,#ae8d66 84px,#966a57 85px,#8f6157 86px,#af8f88 90px,#c8b2ad 95px,#ddd0cd 103px,#ece5e3 117px,#f5f1f0 150px,#f7f4f3 195.3px"></i><i style="--g:#fdfcfc,#f5f1f0 36px,#e8dedd 49px,#d6c6c2 56px,#bea39e 61px,#9c746c 65px,#91645b 66px,#946856 67px,#eee78e 70px,#e9fb95 71px,#bbf18b 72px,#92e983 73px,#74e37d 74px,#61df79 75px,#5cde78 76px,#65e07a 77px,#7be57f 78px,#9beb85 79px,#edfb95 81px,#eee78f 82px,#9f775d 85px,#8b5b52 86px,#ad8b84 90px,#c7b0ab 95px,#dbccc9 102px,#ebe2e1 115px,#f4f0ef 144px,#f7f4f3 195.3px"></i><i style="--g:#fdfcfc,#f5f1f0 36px,#e8dfdd 49px,#d7c7c3 56px,#bfa5a0 61px,#9f776f 65px,#94685f 66px,#8e6053 67px,#e8de8a 70px,#f2fc96 71px,#97ea84 73px,#75e37d 74px,#5edf79 75px,#5d7 76px,#5bde78 77px,#6de27c 78px,#8ae882 79px,#dbf892 81px,#faf796 82px,#a88563 85px,#906354 86px,#91645b 87px,#b1918a 91px,#c9b3ae 96px,#ded0cd 104px,#ece5e3 118px,#f5f1f0 151px,#f7f4f3 195.3px"></i><i style="--g:#fdfcfc,#f5f1f0 36px,#e9dfdd 49px,#d8c8c4 56px,#c1a7a2 61px,#a17a72 65px,#8b5b51 67px,#c2a973 69px,#fcfe98 71px,#9deb85 73px,#78e47e 74px,#5ddf79 75px,#50dc76 76px,#51dc76 77px,#60df79 78px,#7be57f 79px,#c9f48e 81px,#f6fd97 82px,#e8df8b 83px,#996f59 86px,#8d5f55 87px,#ae8d86 91px,#c7b1ac 96px,#ddcfcc 104px,#ece4e2 118px,#f5f1f0 150px,#f7f4f3 195.3px"></i><i style="--g:#fdfcfc,#f5f1f0 36px,#e9e0de 49px,#d9c9c6 56px,#c2a9a4 61px,#a37d75 65px,#8d5f55 67px,#9e765d 68px,#fbf996 71px,#d3f690 72px,#a4ed87 73px,#7ce57f 74px,#5edf79 75px,#4cdb75 76px,#49db75 77px,#54dd77 78px,#6ce27c 79px,#8ee882 80px,#e4fa94 82px,#f3ef92 83px,#a27c5f 86px,#8b5b51 87px,#ac8982 91px,#c6aeaa 96px,#dacbc8 103px,#e9e0df 115px,#f4efee 142px,#f7f4f3 195.3px"></i><i style="--g:#fdfcfc,#f5f1f0 36px,#e9e0de 49px,#d9cac7 56px,#c3aba6 61px,#a58079 65px,#906259 67px,#986e59 68px,#f4f092 71px,#ddf892 72px,#81e680 74px,#60df79 75px,#4adb75 76px,#43d973 77px,#4adb75 78px,#5edf79 79px,#7ee57f 80px,#d2f690 82px,#fffe99 83px,#ac8a65 86px,#946756 87px,#906259 88px,#b08f88 92px,#c8b2ad 97px,#ddcfcc 105px,#ece4e2 119px,#f5f0ef 152px,#f7f3f3 195.3px"></i><i style="--g:#fdfcfc,#f5f1f0 37px,#e8dedc 50px,#d7c6c3 57px,#bea49e 62px,#9d756d 66px,#92665d 67px,#926555 68px,#ede68e 71px,#e7fa94 72px,#88e781 74px,#63e07a 75px,#49db75 76px,#3dd872 77px,#40d973 78px,#51dc76 79px,#6ee27c 80px,#c0f28c 82px,#eefc96 83px,#ede58e 84px,#9c745b 87px,#8c5d53 88px,#ad8c85 92px,#c7b0ab 97px,#dacbc8 104px,#eae1e0 117px,#f4efee 145px,#f7f3f3 195.3px"></i><i style="--g:#fdfcfc,#f5f1f0 37px,#e8dfdd 50px,#d7c7c4 57px,#c0a6a1 62px,#a07971 66px,#8c5c51 68px,#e6dc89 71px,#f2fc96 72px,#90e983 74px,#67e17b 75px,#4adb75 76px,#3ad872 77px,#39d771 78px,#46da74 79px,#60df79 80px,#83e680 81px,#dcf892 83px,#f8f594 84px,#a58161 87px,#8e5f52 88px,#92665c 89px,#b1918a 93px,#c9b3ae 98px,#ddcfcc 106px,#ece4e2 120px,#f4f0ef 153px,#f7f3f2 195.3px"></i><i style="--g:#fdfcfc,#f5f1f0 37px,#e9dfde 50px,#d8c8c5 57px,#c1a8a3 62px,#a27c74 66px,#8c5d53 68px,#a17a5e 69px,#feff99 72px,#98ea84 74px,#6de27c 75px,#4cdb75 76px,#38d771 77px,#32d670 78px,#3bd872 79px,#52dc76 80px,#73e37d 81px,#caf48e 83px,#f9fe98 84px,#e5db89 85px,#966b58 88px,#8f6057 89px,#af8e87 93px,#c7b1ac 98px,#dccecb 106px,#ebe3e2 120px,#f4f0ef 152px,#f7f3f2 195.3px"></i><i style="--g:#fdfcfc,#f5f1f0 37px,#e9e0de 50px,#d9c9c6 57px,#c3aaa5 62px,#a47f77 66px,#8f6157 68px,#9a715a 69px,#f8f695 72px,#d5f791 73px,#75e37d 75px,#50dc76 76px,#38d771 77px,#2dd56f 78px,#32d670 79px,#45da74 80px,#64e07a 81px,#b8f18b 83px,#e7fa94 84px,#f0ea90 85px,#9f785d 88px,#8b5b51 89px,#ac8a83 93px,#c6aeaa 98px,#dacac7 105px,#eae1df 118px,#f3eeed 146px,#f6f3f2 195.3px"></i><i style="--g:#fdfcfc,#f5f1f0 37px,#e8dedc 51px,#d6c5c2 58px,#bea39e 63px,#9d746c 67px,#92655c 68px,#946856 69px,#f1eb90 72px,#e1f993 73px,#7de57f 75px,#5d7 76px,#39d771 77px,#2ad46e 78px,#2bd56f 79px,#3ad872 80px,#5d7 81px,#7be57f 82px,#d5f791 84px,#fbfa97 85px,#a88463 88px,#906354 89px,#91645b 90px,#b09089 94px,#c8b2ad 99px,#dccecb 107px,#ebe3e1 121px,#f4efee 154px,#f6f3f2 195.3px"></i><i style="--g:#fdfcfc,#f5f1f1 37px,#e8dfdd 51px,#d7c7c3 58px,#bfa5a0 63px,#9f7870 67px,#8d5e52 69px,#c8b277 71px,#e9e08b 72px,#edfb95 73px,#87e781 75px,#5cde78 76px,#3cd872 77px,#29d46e 78px,#25d36d 79px,#30d670 80px,#48da74 81px,#6be17b 82px,#c4f38d 84px,#f4fd97 85px,#e8df8b 86px,#996f59 89px,#8e5f55 90px,#ae8c85 94px,#c7afab 99px,#dccdca 107px,#ebe2e1 121px,#f4efee 153px,#f6f3f2 195.3px"></i><i style="--g:#fdfcfc,#f5f1f0 38px,#e8dfdd 51px,#d8c8c4 58px,#c1a7a2 63px,#a27b73 67px,#8c5c52 69px,#a27c5f 70px,#e1d486 72px,#fafe98 73px,#91e983 75px,#64e07a 76px,#41d973 77px,#29d46e 78px,#21d36d 79px,#27d46e 80px,#3cd872 81px,#5cde78 82px,#b2f08a 84px,#e2f993 85px,#f3ee91 86px,#a17b5f 89px,#8a5a50 90px,#ab8982 94px,#c5ada8 99px,#d9c9c6 106px,#e8dfdd 118px,#f2edec 144px,#f6f3f2 195.3px"></i><i style="--g:#fdfcfc,#f5f1f0 38px,#e9e0de 51px,#d9c9c6 58px,#c2aaa4 63px,#a47f77 67px,#8f6157 69px,#9b725b 70px,#faf896 73px,#d1f690 74px,#6ee27c 76px,#47da74 77px,#2bd56f 78px,#1ed26c 79px,#20d26c 80px,#31d670 81px,#4edc76 82px,#75e37d 83px,#fefd98 86px,#aa8764 89px,#926655 90px,#906359 91px,#af8f88 95px,#c7b1ac 100px,#dccdca 108px,#ebe2e1 122px,#f4efee 155px,#f6f3f2 195.3px"></i><i style="--g:#fdfcfc,#f5f1f0 38px,#e7dedc 52px,#d6c5c2 59px,#bea39d 64px,#9d746c 68px,#92655b 69px,#946856 70px,#d0bd7c 72px,#f1ec90 73px,#dff993 74px,#78e47e 76px,#4edc76 77px,#2fd56f 78px,#1ed26c 79px,#1bd16b 80px,#28d46e 81px,#41d973 82px,#65e07a 83px,#c0f28c 85px,#f0fc96 86px,#eae28c 87px,#9b715a 90px,#8d5e54 91px,#ad8b84 95px,#c6aeaa 100px,#dbccc9 108px,#eae2e0 122px,#f3efee 155px,#f6f3f2 195.3px"></i><i style="--g:#fdfcfc,#f5f1f0 38px,#e8dedc 52px,#d7c6c3 59px,#bfa5a0 64px,#9f7870 68px,#8d5e52 70px,#c8b177 72px,#e9df8b 73px,#edfb95 74px,#84e680 76px,#58de78 77px,#35d771 78px,#1fd26c 79px,#18d16b 80px,#20d26c 81px,#36d771 82px,#57dd77 83px,#afef89 85px,#dff993 86px,#f5f093 87px,#a37d60 90px,#8c5d51 91px,#b1918a 96px,#c8b2ad 101px,#dccecb 109px,#ebe2e0 123px,#f4efee 158px,#f6f3f2 195.3px"></i><i style="--g:#fdfcfc,#f5f1f1 38px,#e8dfdd 52px,#d8c8c4 59px,#c1a7a2 64px,#a27b74 68px,#8c5d53 70px,#a27b5f 71px,#fbfe98 74px,#91e983 76px,#62e07a 77px,#3cd872 78px,#22d36d 79px,#17d16b 80px,#1ad16b 81px,#2cd56f 82px,#4adb75 83px,#9fec86 85px,#ff9 87px,#ac8965 90px,#946856 91px,#8f6258 92px,#af8e87 96px,#c7b0ab 101px,#dbcdca 109px,#eae2e0 123px,#f3eeed 157px,#f6f2f2 195.3px"></i><i style="--g:#fdfcfc,#f5f1f1 38px,#e9dfdd 52px,#d8c9c5 59px,#c2a9a4 64px,#a47f77 68px,#8f6158 70px,#9a715a 71px,#f8f695 74px,#d3f690 75px,#6ee27c 77px,#45da74 78px,#27d46e 79px,#17d16b 80px,#16d06a 81px,#24d36d 82px,#3fd973 83px,#63e07a 84px,#effc96 87px,#ebe38d 88px,#9c735b 91px,#8c5d53 92px,#ac8a83 96px,#c5aea9 101px,#dacbc8 109px,#eae1df 123px,#f3eeed 157px,#f6f2f2 195.3px"></i><i style="--g:#fdfcfc,#f5f1f0 39px,#e7dedc 53px,#d6c5c2 60px,#bea39d 65px,#9d756c 69px,#92655c 70px,#926655 71px,#ceba7b 73px,#efe98f 74px,#e2f993 75px,#7be57f 77px,#4fdc76 78px,#2ed56f 79px,#19d16b 80px,#14d06a 81px,#1dd26c 82px,#34d670 83px,#56dd77 84px,#afef89 86px,#dff993 87px,#f5f193 88px,#a47f60 91px,#8d5e52 92px,#b09089 97px,#c7b1ac 102px,#dbcdca 110px,#eae1e0 124px,#f4efee 161px,#f6f2f2 195.3px"></i><i style="--g:#fdfcfc,#f5f1f0 39px,#e8dedc 53px,#d7c6c3 60px,#bfa5a0 65px,#a07970 69px,#8b5c51 71px,#c5ae75 73px,#e6db89 74px,#f2fc96 75px,#88e781 77px,#5bde78 78px,#36d771 79px,#1ed26c 80px,#14d06a 81px,#19d16b 82px,#2cd56f 83px,#4adb75 84px,#9fec86 86px,#ff9 88px,#ac8a65 91px,#956957 92px,#8f6158 93px,#ae8d86 97px,#c6afaa 102px,#dbccc9 110px,#eae1df 124px,#f3eeed 160px,#f6f2f2 195.3px"></i><i style="--g:#fdfcfc,#f5f1f0 39px,#e8dfdd 53px,#d8c7c4 60px,#c1a8a2 65px,#a27c74 69px,#8d5e54 71px,#9f785d 72px,#fefd98 75px,#67e17b 78px,#40d973 79px,#24d36d 80px,#15d06a 81px,#15d06a 82px,#24d36d 83px,#40d973 84px,#65e07a 85px,#f0fc96 88px,#ebe38d 89px,#9c745b 92px,#8c5c53 93px,#ac8982 97px,#c5ada8 102px,#dacbc7 110px,#e9e0de 124px,#f3eeed 160px,#f6f2f1 195.3px"></i><i style="--g:#fdfcfc,#f5f1f1 39px,#e9dfdd 53px,#d5c4c0 61px,#bca19b 66px,#9b726a 70px,#906359 71px,#976d58 72px,#f4f092 75px,#daf892 76px,#74e37d 78px,#4adb75 79px,#2ad46e 80px,#17d16b 81px,#13d06a 82px,#1ed26c 83px,#35d771 84px,#58de78 85px,#b0ef89 87px,#e0f993 88px,#f5f193 89px,#a57f61 92px,#8e5f52 93px,#92655c 94px,#b08f88 98px,#c7b0ab 103px,#dbccc9 111px,#e9e1df 125px,#f4efee 165px,#f6f2f1 195.3px"></i><i style="--g:#fdfcfc,#f5f2f1 39px,#e9e0de 53px,#d6c5c2 61px,#bea49e 66px,#9e766e 70px,#93675e 71px,#906254 72px,#cbb578 74px,#ebe38d 75px,#e9fb95 76px,#81e680 78px,#54dd77 79px,#31d670 80px,#1ad16b 81px,#11cf69 82px,#18d16b 83px,#2bd56f 84px,#4bdb75 85px,#a0ec86 87px,#ff9 89px,#ad8b66 92px,#966a57 93px,#8f6057 94px,#ad8c85 98px,#c5aea9 103px,#dacbc8 111px,#e9e0de 125px,#f4efee 165px,#f6f2f1 195.3px"></i><i style="--g:#fdfcfc,#f6f2f1 39px,#e9e0de 53px,#d7c6c3 61px,#c0a6a0 66px,#a07a72 70px,#8b5b51 72px,#a47f60 73px,#e2d687 75px,#f8fe98 76px,#8ee882 78px,#5fdf79 79px,#39d771 80px,#1ed26c 81px,#10cf69 82px,#12d06a 83px,#22d36d 84px,#3ed872 85px,#64e07a 86px,#eefc96 89px,#ece48d 90px,#9e765c 93px,#8b5c52 94px,#ab8881 98px,#c4aca7 103px,#d9cac6 111px,#e8dfdd 124px,#f3eeed 159px,#f6f2f1 195.3px"></i><i style="--g:#fdfcfc,#f5f1f0 40px,#e8dfdd 54px,#d8c8c4 61px,#c1a8a3 66px,#a37d75 70px,#8e5f56 72px,#9d745c 73px,#fbf996 76px,#d0f690 77px,#6ae17b 79px,#41d973 80px,#22d36d 81px,#10cf69 82px,#0dcf69 83px,#19d16b 84px,#32d670 85px,#5d7 86px,#adef89 88px,#ddf892 89px,#f6f394 90px,#a68262 93px,#8f6253 94px,#91645b 95px,#af8e87 99px,#c6afaa 104px,#dacbc8 112px,#e9e0de 126px,#f4f0ef 170px,#f6f2f1 195.3px"></i><i style="--g:#fdfcfc,#f5f1f0 40px,#e8dfdd 54px,#d5c4c0 62px,#bda29c 67px,#9c736b 71px,#91645a 72px,#956a57 73px,#d1be7c 75px,#f2ec91 76px,#def892 77px,#76e47e 79px,#49db75 80px,#27d46e 81px,#11cf69 82px,#09ce68 83px,#11cf69 84px,#26d46e 85px,#46da74 86px,#9ceb85 88px,#fbfe98 90px,#af8e67 93px,#986d58 94px,#8e5f55 95px,#ac8b84 99px,#c5ada8 104px,#d9cac7 112px,#e8dfdd 126px,#f4f0ef 169px,#f6f2f1 195.3px"></i><i style="--g:#fdfcfc,#f5f1f1 40px,#e9e0de 54px,#d6c5c2 62px,#bea49e 67px,#9e776f 71px,#94685f 72px,#8e6053 73px,#c9b277 75px,#e9e08b 76px,#ecfb95 77px,#81e680 79px,#53dd77 80px,#2dd56f 81px,#12d06a 82px,#06cd67 83px,#09ce68 84px,#1ad16b 85px,#37d771 86px,#5edf79 87px,#eafb95 90px,#efe88f 91px,#a0795e 94px,#8a5a50 95px,#aa8780 99px,#c3aaa5 104px,#d9c9c5 112px,#e7dedc 125px,#f3eeed 164px,#f6f2f1 195.3px"></i><i style="--g:#fdfcfc,#f6f2f1 40px,#e9e0de 54px,#d7c6c3 62px,#c0a6a1 67px,#a17a72 71px,#8b5c52 73px,#a37d5f 74px,#e1d486 76px,#fafe98 77px,#8ee882 79px,#5ddf79 80px,#33d670 81px,#15d06a 82px,#04cd67 83px,#02cc66 84px,#0fcf69 85px,#29d46e 86px,#4ddb75 87px,#a7ed87 89px,#d7f791 90px,#faf896 91px,#a98663 94px,#926555 95px,#906259 96px,#ae8c86 100px,#c5aea9 105px,#d9cac7 113px,#e8dfdd 127px,#f5f0ef 173px,#f6f2f1 195.3px"></i><i style="--g:#fdfcfc,#f6f2f1 40px,#eae1df 54px,#d8c8c4 62px,#c2a8a3 67px,#a47e76 71px,#8e6057 73px,#9b725b 74px,#d8c881 76px,#faf896 77px,#d0f690 78px,#67e17b 80px,#3bd872 81px,#18d16b 82px,#03cd67 83px,#00c96f 84px,#05cd67 85px,#1bd16b 86px,#3cd872 87px,#94ea84 89px,#f5fd97 91px,#e8de8a 92px,#9b715a 95px,#8c5d53 96px,#ab8982 100px,#c4aba6 105px,#d9c9c6 113px,#e8dedc 127px,#f4f0ef 173px,#f6f2f1 195.3px"></i><i style="--g:#fdfcfc,#f6f2f1 40px,#e8dfdd 55px,#d5c4c0 63px,#bda29c 68px,#9c746b 72px,#91645b 73px,#946856 74px,#d0bc7c 76px,#f1eb90 77px,#def892 78px,#72e37d 80px,#43d973 81px,#1dd26c 82px,#03cd67 83px,#00c57b 84px,#00c872 85px,#0dcf69 86px,#2cd56f 87px,#81e680 89px,#e2f993 91px,#f3ee91 92px,#a37e60 95px,#8d5e52 96px,#af8e87 101px,#c9b3ae 107px,#ddcfcc 116px,#eae1e0 132px,#f5f1f0 182px,#f6f2f1 195.3px"></i><i style="--g:#fdfcfc,#f5f1f1 41px,#e9e0de 55px,#d6c5c2 63px,#bfa49f 68px,#9f786f 72px,#8d5e52 74px,#c8b176 76px,#e8df8b 77px,#ecfb95 78px,#7ee57f 80px,#4cdb75 81px,#22d36d 82px,#04cd67 83px,#00c285 84px,#00c187 85px,#01cc66 86px,#1cd26c 87px,#41d973 88px,#cff58f 91px,#fffe99 92px,#ad8b66 95px,#956a57 96px,#8e6057 97px,#ad8b84 101px,#c4aca7 106px,#d9c9c6 114px,#e8dedc 128px,#f5f0ef 175px,#f6f2f1 195.3px"></i><i style="--g:#fdfcfc,#f6f2f1 41px,#e9e0de 55px,#d7c7c3 63px,#c0a7a1 68px,#a27b73 72px,#8c5d53 74px,#a17b5f 75px,#e0d386 77px,#fafe98 78px,#56dd77 81px,#29d46e 82px,#06cd67 83px,#00c08b 84px,#00bb9a 85px,#00c382 86px,#0cce68 87px,#2fd56f 88px,#8ae882 90px,#edfb95 92px,#ede58d 93px,#b6986c 95px,#9e765d 96px,#8b5b51 97px,#aa8780 101px,#c3aaa5 106px,#d8c8c4 114px,#e7dddb 128px,#f4f0ef 174px,#f6f2f1 195.3px"></i><i style="--g:#fdfcfc,#f6f2f1 41px,#eae1df 55px,#d8c8c5 63px,#c2a9a4 68px,#a47f77 72px,#8f6157 74px,#9a705a 75px,#d7c780 77px,#faf796 78px,#cff58f 79px,#60df79 81px,#30d670 82px,#0ace68 83px,#00bf8e 84px,#00b6a9 85px,#00ba9d 86px,#00ca6c 87px,#1dd26c 88px,#75e37d 90px,#d9f791 92px,#f8f595 93px,#c0a672 95px,#916354 97px,#90635a 98px,#ae8d86 102px,#c8b2ad 108px,#dccdca 117px,#e9e0df 133px,#f5f1f0 179px,#f6f2f1 195.3px"></i><i style="--g:#fdfcfc,#f6f2f1 41px,#e9dfdd 56px,#d5c4c1 64px,#bda39d 69px,#9d756c 73px,#92655c 74px,#936655 75px,#cfbb7b 77px,#f1eb90 78px,#ddf892 79px,#6ce27c 81px,#39d771 82px,#0fcf69 83px,#00bf8e 84px,#00b1b6 85px,#00b1b6 86px,#00be90 87px,#0cce68 88px,#33d670 89px,#c5f38d 92px,#f7fd97 93px,#e6dc8a 94px,#b19168 96px,#99705a 97px,#8d5e54 98px,#ab8982 102px,#c3aba6 107px,#d8c8c4 115px,#e7dddb 129px,#f4f0ef 173px,#f5f2f1 195.3px"></i><i style="--g:#fdfcfc,#f6f2f1 41px,#e9e0de 56px,#d6c6c2 64px,#bfa5a0 69px,#a07970 73px,#8b5c51 75px,#c6af76 77px,#e8de8b 78px,#ebfb95 79px,#43d973 82px,#15d06a 83px,#00c08a 84px,#00afbe 85px,#0ac 86px,#00b3b1 87px,#00c873 88px,#1fd26c 89px,#7de57f 91px,#e3f993 93px,#f2ed91 94px,#bb9f6e 96px,#8c5d51 98px,#af8e87 103px,#c9b2ae 109px,#dccdca 118px,#e9e0de 134px,#f5f0f0 177px,#f5f2f1 195.3px"></i><i style="--g:#fdfcfc,#f6f2f1 42px,#e9e1df 56px,#d7c7c4 64px,#c1a7a2 69px,#a27c74 73px,#8d5e54 75px,#a0795e 76px,#dfd285 78px,#fafe98 79px,#4edc76 82px,#1cd26c 83px,#00c382 84px,#00adc3 85px,#00a4de 86px,#00a9cf 87px,#00ba9b 88px,#0cce68 89px,#68e17b 91px,#fefe98 94px,#c5ad75 96px,#956957 98px,#8f6157 99px,#ad8b84 103px,#c4aca6 108px,#d8c8c5 116px,#e6dcda 130px,#f4f0ef 172px,#f5f1f1 195.3px"></i><i style="--g:#fdfcfc,#f6f2f1 42px,#e8dfdd 57px,#d5c4c0 65px,#bca19b 70px,#9b7269 74px,#906259 75px,#986e59 76px,#d6c57f 78px,#f9f795 79px,#cef58f 80px,#5ade78 82px,#25d36d 83px,#00c776 84px,#00adc4 85px,#009fec 86px,#00a0eb 87px,#00aec1 88px,#00c776 89px,#22d36d 90px,#ecfb95 94px,#ece48d 95px,#b5976b 97px,#9d755c 98px,#8b5b52 99px,#aa8780 103px,#c2a9a4 108px,#d7c7c3 116px,#e6dcda 130px,#f4efee 171px,#f5f1f1 195.3px"></i><i style="--g:#fdfcfc,#f6f2f1 42px,#e9e0de 57px,#d6c5c1 65px,#bea49e 70px,#9e766e 74px,#93675e 75px,#906354 76px,#cdb97a 78px,#f0e98f 79px,#ddf892 80px,#2fd56f 83px,#0c6 84px,#00aec1 85px,#009cf6 86px,#0197fd 87px,#00a2e5 88px,#00b8a3 89px,#0ecf69 90px,#6fe27c 92px,#d8f791 94px,#f8f595 95px,#bfa571 97px,#906254 99px,#91635a 100px,#ae8c85 104px,#c8b1ac 110px,#dbccc9 119px,#e9e0de 136px,#f4f0ef 175px,#f5f1f1 195.3px"></i><i style="--g:#fdfcfc,#f6f2f1 42px,#e9e0de 57px,#d7c6c3 65px,#c0a6a1 70px,#a17a72 74px,#8b5b51 76px,#a58061 77px,#e6dc8a 79px,#edfb95 80px,#3bd872 83px,#08ce68 84px,#00b0b9 85px,#009afc 86px,#068df3 87px,#0296fc 88px,#00a9ce 89px,#00c775 90px,#26d46e 91px,#f6fd97 95px,#e6dc89 96px,#b09068 98px,#996f59 99px,#8d5e55 100px,#ab8982 104px,#c3aaa5 109px,#d7c7c3 117px,#e6dbd9 131px,#f4efee 170px,#f5f1f1 195.3px"></i><i style="--g:#fdfcfc,#f6f2f1 43px,#eae1df 57px,#d8c8c4 65px,#c2a9a3 70px,#a47e76 74px,#8e6056 76px,#9d755c 77px,#fcfe98 80px,#47da74 83px,#11cf69 84px,#00b5ac 85px,#009afc 86px,#0a85eb 87px,#0986ec 88px,#009cf6 89px,#00b7a6 90px,#11cf69 91px,#e2f993 95px,#f2ed91 96px,#ba9e6e 98px,#8c5c51 100px,#af8e87 105px,#c8b2ad 111px,#dbccc9 120px,#e9e0de 138px,#f4f0ef 174px,#f5f1f1 195.3px"></i><i style="--g:#fdfcfc,#f6f2f1 43px,#e9dfdd 58px,#d5c4c1 66px,#bda39d 71px,#a6827a 74px,#91645b 76px,#956957 77px,#d3c17e 79px,#f7f494 80px,#d0f690 81px,#1cd26c 84px,#00ba9b 85px,#009bf8 86px,#0d80e6 87px,#1079df 88px,#078af0 89px,#00a7d5 90px,#00c871 91px,#2cd56f 92px,#cdf58f 95px,#fefe99 96px,#c4ac74 98px,#946856 100px,#8f6157 101px,#ac8b84 105px,#c3aba6 110px,#d7c7c3 118px,#e5dbd9 132px,#f3efee 168px,#f5f1f0 195.3px"></i><i style="--g:#fdfcfc,#f6f2f1 43px,#e9e0de 58px,#d7c6c3 66px,#bfa5a0 71px,#9f7870 75px,#8d5e52 77px,#cab478 79px,#ede58e 80px,#e0f993 81px,#28d46e 84px,#00c186 85px,#009ef0 86px,#0e7de3 87px,#156fd5 88px,#1078de 89px,#0198fe 90px,#00b7a5 91px,#15d06a 92px,#ecfb95 96px,#ece48d 97px,#b5966b 99px,#9d745c 100px,#8b5c52 101px,#aa8780 105px,#c2a9a4 110px,#d6c5c2 118px,#e5dad8 132px,#f3eeed 167px,#f5f1f0 195.3px"></i><i style="--g:#fdfdfc,#f6f2f2 43px,#eae1df 58px,#d8c7c4 66px,#c1a8a3 71px,#a27c74 75px,#8c5d54 77px,#a17b5e 78px,#e3d787 80px,#f1fc96 81px,#36d771 84px,#00ca6c 85px,#00a3e1 86px,#0e7de3 87px,#1967cd 88px,#1869cf 89px,#0c82e8 90px,#00a6d8 91px,#00cb68 92px,#69e17b 94px,#d7f791 96px,#f8f595 97px,#bfa471 99px,#8f6153 101px,#91645a 102px,#ae8c85 106px,#c7b0ab 112px,#dacbc8 121px,#e9e0de 140px,#f4efee 172px,#f5f1f0 195.3px"></i><i style="--g:#fdfdfc,#f6f3f2 43px,#eae1e0 58px,#d9c9c6 66px,#c3aaa5 71px,#a58179 75px,#906259 77px,#986e59 78px,#d9c981 80px,#fdfd98 81px,#c4f38d 82px,#09ce68 85px,#00a9ce 86px,#0d80e6 87px,#1c62c8 88px,#1f5cc2 89px,#166ed4 90px,#0294fa 91px,#00b99f 92px,#1bd16b 93px,#f7fd97 97px,#e5db89 98px,#af8e67 100px,#986d59 101px,#8d5f55 102px,#ab8982 106px,#c2aaa4 111px,#d6c5c2 119px,#e5dbd8 134px,#f3eeed 166px,#f5f1f0 195.3px"></i><i style="--g:#fdfdfc,#f6f2f1 44px,#e9e0de 59px,#d6c6c2 67px,#bfa59f 72px,#9e776f 76px,#94675e 77px,#906254 78px,#cfbb7b 80px,#f3ed91 81px,#d5f791 82px,#17d16b 85px,#00b1b6 86px,#0a86ec 87px,#1d60c6 88px,#2452b8 89px,#1f5cc2 90px,#0e7de3 91px,#00a7d4 92px,#05cd67 93px,#e2f993 97px,#f1ec90 98px,#b99c6d 100px,#8b5b50 102px,#a9867e 106px,#c1a7a2 111px,#d5c4c1 119px,#e5dad8 134px,#f3eeec 164px,#f5f1f0 195.3px"></i><i style="--g:#fdfdfc,#f6f2f2 44px,#eae1df 59px,#d8c7c4 67px,#c1a7a2 72px,#a27b73 76px,#8b5c52 78px,#a47f60 79px,#e8de8a 81px,#e7fa94 82px,#26d46e 85px,#0b9 86px,#058ef4 87px,#1c61c7 88px,#274ab0 89px,#264db3 90px,#1966cc 91px,#0295fb 92px,#00bd93 93px,#23d36d 94px,#cdf58f 97px,#fdfd98 98px,#c3aa74 100px,#936655 102px,#8f6258 103px,#ad8b84 107px,#c6afaa 113px,#d9cac6 122px,#ece4e2 146px,#f4f0ef 177px,#f5f1f0 195.3px"></i><i style="--g:#fdfdfc,#f6f3f2 44px,#eae1e0 59px,#d9c9c6 67px,#c3aaa5 72px,#a58078 76px,#8f6157 78px,#9b725b 79px,#fafe98 82px,#36d771 85px,#00c678 86px,#009afd 87px,#1a65cb 88px,#2946ac 89px,#2c40a6 90px,#2353b9 91px,#0f7be1 92px,#00aacb 93px,#0cce68 94px,#edfb95 98px,#eae28c 99px,#b3946a 101px,#9b725b 102px,#8c5d53 103px,#aa8780 107px,#c1a8a3 112px,#d5c4c1 120px,#e5dbd8 136px,#f2edec 163px,#f5f1f0 195.3px"></i><i style="--g:#fdfdfd,#f6f2f2 45px,#e9e0de 60px,#d6c6c2 68px,#bfa49f 73px,#a8847c 76px,#93665d 78px,#926555 79px,#d2bf7d 81px,#f7f494 82px,#cdf58f 83px,#08ce68 86px,#00a3e1 87px,#166dd3 88px,#2a45ab 89px,#31379d 90px,#2c41a7 91px,#1b63c9 92px,#0098fe 93px,#00c382 94px,#2dd56f 95px,#d9f791 98px,#f6f394 99px,#bda270 101px,#8e5f52 103px,#91655b 104px,#ae8c85 108px,#c7afab 114px,#d9c9c6 123px,#eee7e5 150px,#f5f1f0 187px,#f5f1f0 195.3px"></i><i style="--g:#fdfdfd,#f6f3f2 45px,#eae1df 60px,#d8c7c4 68px,#c1a7a2 73px,#a17b73 77px,#8a5b51 79px,#a68262 80px,#ebe38d 82px,#e0f993 83px,#19d16b 86px,#00aec0 87px,#1178de 88px,#2848ae 89px,#339 90px,#339 91px,#264eb4 92px,#0e7de3 93px,#00b0bb 94px,#15d06a 95px,#c3f38d 98px,#f9fe98 99px,#e4d888 100px,#ad8c66 102px,#966b58 103px,#8e6056 104px,#ab8982 108px,#c2a9a4 113px,#d5c4c0 121px,#e8dedc 140px,#f3eeed 165px,#f5f1f0 195.3px"></i><i style="--g:#fdfdfd,#f6f3f2 45px,#eae2e0 60px,#d9c9c6 68px,#c3aaa5 73px,#a47f78 77px,#8e6057 79px,#9d745c 80px,#e0d385 82px,#f4fd97 83px,#2bd56f 86px,#00bb9a 87px,#0a86ec 88px,#254eb4 89px,#339 90px,#339 91px,#2f3aa0 92px,#1a64ca 93px,#009df3 94px,#00ca6c 95px,#38d771 96px,#e5fa94 99px,#efe98f 100px,#b7996c 102px,#8a5b51 104px,#a9867e 108px,#c0a7a1 113px,#d4c3bf 121px,#e7dedc 140px,#f3eeed 164px,#f5f1f0 195.3px"></i><i style="--g:#fdfdfd,#f7f3f2 45px,#ebe2e1 60px,#dacbc7 68px,#c5ada8 73px,#a8847c 77px,#92665d 79px,#936756 80px,#d4c27e 82px,#faf896 83px,#c7f48e 84px,#3ed872 86px,#00c96f 87px,#0197fd 88px,#2058be 89px,#339 90px,#339 92px,#264db3 93px,#0b84ea 94px,#00b7a6 95px,#20d26c 96px,#d0f690 99px,#fbf997 100px,#c1a772 102px,#916454 104px,#906359 105px,#ad8b84 109px,#c6aea9 115px,#d8c8c5 124px,#eee8e6 151px,#f5f1f0 189px,#f5f1f0 195.3px"></i><i style="--g:#fdfdfd,#f6f3f2 46px,#eae1df 61px,#d8c8c4 69px,#c1a7a2 74px,#ab8881 77px,#8a5a50 80px,#c9b277 82px,#ede68e 83px,#dcf892 84px,#0fcf69 87px,#00a4dd 88px,#1a65cb 89px,#32349a 90px,#339 92px,#30389e 93px,#1869cf 94px,#00a4de 95px,#09ce68 96px,#bbf18b 99px,#f2fc96 100px,#e8de8a 101px,#b19068 103px,#996f59 104px,#8d5e54 105px,#aa8880 109px,#c1a8a2 114px,#d4c3bf 122px,#ebe3e1 145px,#f4f0ef 173px,#f5f1f0 195.3px"></i><i style="--g:#fdfdfd,#f6f3f2 46px,#eae2e0 61px,#d9c9c6 69px,#c3aaa5 74px,#a57f78 78px,#8e6057 80px,#9d755c 81px,#e1d586 83px,#f1fc96 84px,#23d36d 87px,#00b3b2 88px,#1176dc 89px,#2e3da3 90px,#339 91px,#339 93px,#2451b7 94px,#068ef4 95px,#00c08b 96px,#2dd56f 97px,#ddf892 100px,#f3ef92 101px,#ba9e6e 103px,#8c5d51 105px,#ae8c85 110px,#c6aeaa 116px,#d8c8c4 125px,#eee7e6 150px,#f5f1f0 187px,#f5f1f0 195.3px"></i><i style="--g:#fdfdfd,#f7f3f2 46px,#ebe3e1 61px,#dacbc8 69px,#c5ada8 74px,#a8847d 78px,#93665d 80px,#936756 81px,#d5c37f 83px,#fbf996 84px,#c4f38d 85px,#38d771 87px,#00c382 88px,#078af0 89px,#2849af 90px,#339 91px,#339 93px,#2f3ba1 94px,#1373d9 95px,#00adc4 96px,#15d06a 97px,#c9f48e 100px,#ff9 101px,#c4ac74 103px,#946856 105px,#8f6157 106px,#ac8982 110px,#c5ada8 116px,#d7c6c3 125px,#eee6e5 149px,#f5f1f0 184px,#f5f1f0 195.3px"></i><i style="--g:#fdfdfd,#f7f3f3 46px,#ebe3e2 61px,#dbccc9 69px,#c7b0ab 74px,#ab8981 78px,#8a5b51 81px,#a78362 82px,#eee78e 84px,#daf892 85px,#09ce68 88px,#009ef0 89px,#2059bf 90px,#339 91px,#339 94px,#2059bf 95px,#009bfa 96px,#00cb6a 97px,#b3f08a 100px,#ebfb95 101px,#ebe38d 102px,#b4956a 104px,#9c735b 105px,#8b5c52 106px,#a9867f 110px,#c0a6a1 115px,#d3c1bd 123px,#ece4e2 146px,#f4f0ef 175px,#f5f1f0 195.3px"></i><i style="--g:#fefdfd,#f7f3f2 47px,#ebe2e0 62px,#d9cac7 70px,#c3aba6 75px,#a58078 79px,#8f6157 81px,#9c745b 82px,#e1d486 84px,#f0fc96 85px,#20d26c 88px,#00aebf 89px,#166dd3 90px,#339 91px,#339 94px,#2b43a9 95px,#0d80e6 96px,#00b8a3 97px,#24d36d 98px,#d7f791 101px,#f7f494 102px,#bda270 104px,#8f6053 106px,#91645a 107px,#ad8b84 111px,#c5ada8 117px,#d8c8c5 127px,#ede6e4 148px,#f5f1f0 181px,#f5f1f0 195.3px"></i><i style="--g:#fefdfd,#f7f3f3 47px,#ebe3e1 62px,#dacbc8 70px,#c5aea9 75px,#a8857d 79px,#93675e 81px,#926555 82px,#d4c27e 84px,#faf896 85px,#c4f38d 86px,#37d771 88px,#00c08a 89px,#0a84ea 90px,#2c41a7 91px,#339 92px,#339 95px,#1966cc 96px,#00a5da 97px,#0dcf69 98px,#c2f38d 101px,#f9fe98 102px,#e4d888 103px,#ae8c66 105px,#976c58 106px,#8e5f55 107px,#aa8880 111px,#c3aba6 117px,#d7c7c4 127px,#ede5e3 147px,#f5f0ef 178px,#f5f1f0 195.3px"></i><i style="--g:#fefdfd,#f7f4f3 47px,#eae2e0 63px,#d8c9c5 71px,#c2a9a3 76px,#ac8a82 79px,#8b5c52 82px,#a68161 83px,#ece58d 85px,#dcf892 86px,#09ce68 89px,#009cf5 90px,#25b 91px,#339 92px,#339 95px,#254fb5 96px,#0491f7 97px,#00c47d 98px,#34d670 99px,#adef89 101px,#e5fa94 102px,#efe88f 103px,#b7996c 105px,#8a5a50 107px,#a8847d 111px,#bfa49f 116px,#d2bfbc 124px,#ebe3e1 145px,#f4efef 172px,#f5f1f0 195.3px"></i><i style="--g:#fefdfd,#f7f3f3 48px,#ebe2e1 63px,#dacac7 71px,#c4aca7 76px,#a6817a 80px,#906259 82px,#9a715a 83px,#dfd185 85px,#f3fd97 86px,#21d36d 89px,#00aebf 90px,#176cd2 91px,#339 92px,#339 95px,#2f3aa0 96px,#17d 97px,#00b2b3 98px,#1ed26c 99px,#d2f690 102px,#faf896 103px,#c0a672 105px,#916455 107px,#906259 108px,#ab8982 112px,#c4aba6 118px,#d9c9c6 129px,#ede5e4 147px,#f5f0f0 179px,#f5f1f0 195.3px"></i><i style="--g:#fefdfd,#f7f3f3 48px,#ebe3e2 63px,#dbccc9 71px,#c6afaa 76px,#a9867f 80px,#94685f 82px,#906253 83px,#d1bf7c 85px,#f8f594 86px,#c8f48e 87px,#3ad872 89px,#00c284 90px,#0986ec 91px,#2c41a7 92px,#339 93px,#339 96px,#1d60c6 97px,#00a1e7 98px,#08ce68 99px,#bdf28c 102px,#f4fd97 103px,#e6dc8a 104px,#b09068 106px,#99705a 107px,#8c5d54 108px,#a9867f 112px,#c2a9a4 118px,#d8c8c5 129px,#ece4e3 146px,#f4f0ef 176px,#f5f1f0 195.3px"></i><i style="--g:#fefdfd,#f7f4f3 48px,#ebe2e0 64px,#d9c9c6 72px,#c3aaa5 77px,#ad8b84 80px,#8c5d53 83px,#a37d5f 84px,#e9e08b 86px,#e1f993 87px,#0dcf69 90px,#009fec 91px,#2058be 92px,#339 93px,#339 96px,#274bb1 97px,#068cf2 98px,#00c187 99px,#30d670 100px,#a9ee88 102px,#e1f993 103px,#f1ec91 104px,#b99d6e 106px,#8c5d51 108px,#ac8b83 113px,#c4aba6 119px,#dccecb 132px,#ede5e4 147px,#f5f0f0 179px,#f5f1f0 195.3px"></i><i style="--g:#fefdfd,#f7f3f3 49px,#ebe3e1 64px,#dacbc8 72px,#c5ada8 77px,#a7837b 81px,#91645a 83px,#976d58 84px,#dbcc83 86px,#f9fe98 87px,#27d46e 90px,#00b3b0 91px,#1373d9 92px,#32349a 93px,#339 96px,#30399f 97px,#1275db 98px,#00b0b9 99px,#1bd16b 100px,#cef58f 103px,#fdfc98 104px,#c3aa73 106px,#946856 108px,#8f6057 109px,#aa8780 113px,#c2a9a4 119px,#dccecb 132px,#ede5e4 147px,#f5f0f0 180px,#f5f1f0 195.3px"></i><i style="--g:#fefdfd,#f7f4f3 49px,#ece4e2 64px,#dbcdca 72px,#c7b0ab 77px,#aa8880 81px,#8c5d52 84px,#ceb97a 86px,#f4ef92 87px,#cff58f 88px,#42d973 90px,#00c871 91px,#0590f6 92px,#274ab0 93px,#339 94px,#339 97px,#1d60c6 98px,#00a0ea 99px,#06cd67 100px,#baf18b 103px,#f0fc96 104px,#e9e08b 105px,#b3946a 107px,#9c745b 108px,#8b5c52 109px,#a8847d 113px,#c1a7a2 119px,#dacbc8 131px,#ece4e2 145px,#f4f0ef 174px,#f5f1f0 195.3px"></i><i style="--g:#fefdfd,#f7f4f3 49px,#ebe2e1 65px,#d9cac7 73px,#c3aba6 78px,#a47f77 82px,#8e5f55 84px,#a0785d 85px,#e5db89 87px,#e8fa94 88px,#15d06a 91px,#00a6d7 92px,#1b63c9 93px,#339 94px,#339 97px,#264cb2 98px,#078cf2 99px,#00c08b 100px,#2dd56f 101px,#ddf892 104px,#f4f092 105px,#bda170 107px,#8f6253 109px,#906359 110px,#ab8881 114px,#c2a9a4 120px,#dfd2cf 134px,#ede6e5 148px,#f5f1f0 184px,#f5f1f0 195.3px"></i><i style="--g:#fefdfd,#f7f4f3 50px,#ebe3e1 65px,#dbccc8 73px,#c5aea9 78px,#a8847d 82px,#92665c 84px,#946957 85px,#d8c780 87px,#fefe99 88px,#77e47e 90px,#2fd56f 91px,#00bb9a 92px,#0d7ee4 93px,#2d3fa5 94px,#339 95px,#339 97px,#2f3ca2 98px,#1275db 99px,#00afbd 100px,#18d16b 101px,#c9f48e 104px,#fdff99 105px,#c6af76 107px,#986d59 109px,#8d5e54 110px,#a8857d 114px,#c1a7a2 120px,#dfd2cf 134px,#ede6e5 148px,#f5f1f0 184px,#f5f1f0 195.3px"></i><i style="--g:#fefdfd,#f7f4f3 50px,#eae2e0 66px,#d8c9c5 74px,#c2a8a3 79px,#ab8981 82px,#8a5a50 85px,#cab578 87px,#f0ea90 88px,#d6f791 89px,#04cd67 92px,#009afb 93px,#25b 94px,#339 95px,#339 98px,#1c60c6 99px,#009fed 100px,#03cd67 101px,#b4f08a 104px,#eafb95 105px,#ede68e 106px,#b79a6c 108px,#8c5d51 110px,#ab8982 115px,#c2a9a4 121px,#e1d4d2 135px,#eee7e5 149px,#f5f1f0 187px,#f5f1f0 195.3px"></i><i style="--g:#fefdfd,#f7f4f3 50px,#ebe3e1 66px,#dacac7 74px,#c4aba6 79px,#a58078 83px,#8f6057 85px,#9d755c 86px,#e2d687 88px,#eefc96 89px,#1ed26c 92px,#00aec1 93px,#156fd5 94px,#32369c 95px,#339 98px,#264eb4 99px,#078bf1 100px,#00bd92 101px,#29d46e 102px,#d6f791 105px,#f9f795 106px,#c1a873 108px,#946957 110px,#8e6056 111px,#a9857e 115px,#c1a7a2 121px,#dfd2cf 134px,#ede5e4 147px,#f5f0ef 181px,#f5f1f0 195.3px"></i><i style="--g:#fefdfd,#f7f4f3 50px,#ebe3e2 66px,#dbccc9 74px,#c6aea9 79px,#a8857d 83px,#93675d 85px,#936655 86px,#d5c47f 88px,#fbfa97 89px,#c3f38d 90px,#37d771 92px,#00c284 93px,#078af0 94px,#274ab0 95px,#339 96px,#339 98px,#2d3ea4 99px,#1275db 100px,#00adc4 101px,#14d06a 102px,#c1f38d 105px,#f5fd97 106px,#e7de8a 107px,#b3946a 109px,#8a5a50 111px,#a6827a 115px,#bfa5a0 121px,#ddcfcc 133px,#ebe3e2 145px,#f4f0ef 175px,#f5f1f0 195.3px"></i><i style="--g:#fefdfd,#f7f4f3 51px,#eae2e0 67px,#d8c9c5 75px,#c2a8a3 80px,#ab8982 83px,#8b5b51 86px,#a78262 87px,#ede68e 89px,#dbf892 90px,#0dcf69 93px,#00a2e4 94px,#1c62c8 95px,#339 96px,#339 99px,#1c61c7 100px,#009df2 101px,#00cb69 102px,#acee88 105px,#e1f993 106px,#f3ee92 107px,#bea370 109px,#926655 111px,#8f6157 112px,#a9857e 116px,#c4aca7 123px,#e0d4d1 135px,#eee7e5 149px,#f5f1f0 188px,#f5f1f0 195.3px"></i><i style="--g:#fefdfd,#f7f4f3 51px,#ebe2e1 67px,#d9cac7 75px,#c4aba6 80px,#a58079 84px,#8f6157 86px,#9c735b 87px,#e0d386 89px,#f2fc96 90px,#26d46e 93px,#00b5aa 94px,#0f7be1 95px,#2b42a8 96px,#339 97px,#339 99px,#2550b6 100px,#0889ef 101px,#00ba9b 102px,#23d36d 103px,#ccf58f 106px,#feff99 107px,#c8b277 109px,#9b725b 111px,#8b5b51 112px,#a6817a 116px,#c3aaa5 123px,#dfd1ce 134px,#ece5e3 147px,#f4f0ef 181px,#f5f1f0 195.3px"></i><i style="--g:#fefdfd,#f7f4f3 51px,#ebe3e1 67px,#dacbc8 75px,#c5aea9 80px,#a8857d 84px,#93675d 86px,#926555 87px,#d3c17e 89px,#f9f795 90px,#c8f48e 91px,#3fd973 93px,#00c96e 94px,#0197fd 95px,#2157bd 96px,#339 97px,#339 99px,#2c42a8 100px,#1274da 101px,#00aacb 102px,#0ecf69 103px,#b7f18b 106px,#eafb95 107px,#eee88f 108px,#bb9f6e 110px,#916454 112px,#8f6158 113px,#ae8c85 118px,#cebab6 127px,#e3d8d5 137px,#efe9e7 153px,#f5f0f0 195.3px"></i><i style="--g:#fefdfd,#f7f4f4 51px,#ece4e2 67px,#dbcdca 75px,#c7b0ab 80px,#ab8981 84px,#8b5b51 87px,#a68262 88px,#ece48d 90px,#dff993 91px,#15d06a 94px,#0ac 95px,#156fd5 96px,#2e3da3 97px,#339 98px,#31379d 100px,#1b62c8 101px,#009cf7 102px,#00c775 103px,#32d670 104px,#d5f791 107px,#fbf996 108px,#c5ae75 110px,#9a705a 112px,#8b5c52 113px,#ab8982 118px,#cab4b0 126px,#e0d3d1 135px,#ede6e4 149px,#f4f0ef 187px,#f5f0ef 195.3px"></i><i style="--g:#fefdfd,#f7f4f4 51px,#ece4e2 67px,#dccecb 75px,#c9b2ae 80px,#ae8d86 84px,#8f6157 87px,#9c735b 88px,#dfd285 90px,#f5fd97 91px,#2ed56f 94px,#00bd92 95px,#0889ef 96px,#2450b6 97px,#339 98px,#339 100px,#2353b9 101px,#0988ee 102px,#00b7a5 103px,#1dd26c 104px,#c1f38d 107px,#f2fc96 108px,#eae28c 109px,#b99c6d 111px,#906254 113px,#8f6258 114px,#ae8c85 119px,#d0bcb8 128px,#e3d7d5 137px,#efe8e7 153px,#f4f0ef 195.3px"></i><i style="--g:#fefdfd,#f7f4f3 52px,#ebe3e1 68px,#dacbc8 76px,#c5ada8 81px,#a8847d 85px,#93665d 87px,#926555 88px,#d2c07d 90px,#f7f494 91px,#ccf58f 92px,#06cd67 95px,#00a1e8 96px,#1966cc 97px,#2f3ba1 98px,#339 99px,#339 100px,#2947ad 101px,#1276dc 102px,#00a8d1 103px,#09ce68 104px,#def892 108px,#f6f393 109px,#c3aa73 111px,#986e59 113px,#8c5c53 114px,#ac8982 119px,#ccb7b3 127px,#e1d5d2 136px,#eee7e5 151px,#f4f0ef 193px,#f4f0ef 195.3px"></i><i style="--g:#fefdfd,#f7f4f3 52px,#ebe3e2 68px,#dbccc9 76px,#c7b0ab 81px,#ab8881 85px,#8b5b51 88px,#a68161 89px,#eae18c 91px,#e3f993 92px,#1fd26c 95px,#00b3b0 96px,#0d7fe5 97px,#264db3 98px,#339 99px,#339 100px,#2d3fa5 101px,#1a66cc 102px,#009bf8 103px,#00c47e 104px,#2cd56f 105px,#cbf58f 108px,#fafe98 109px,#b6986b 112px,#8e6053 114px,#906259 115px,#af8e87 120px,#cfbbb7 128px,#e2d7d4 137px,#eee8e6 153px,#f4f0ef 195.3px"></i><i style="--g:#fefdfd,#f7f4f4 52px,#ece4e2 68px,#dccecb 76px,#c8b2ad 81px,#ae8c85 85px,#8f6157 88px,#9b725b 89px,#fafe98 92px,#38d771 95px,#00c775 96px,#0099fe 97px,#1c61c7 98px,#2e3da3 99px,#339 100px,#2f3aa0 101px,#205ac0 102px,#088af0 103px,#00b6a9 104px,#19d16b 105px,#b7f18b 108px,#e8fa94 109px,#f1ec90 110px,#bfa571 112px,#966b58 114px,#8d5e54 115px,#ad8b84 120px,#cbb6b1 127px,#dfd2cf 135px,#ece5e3 149px,#f4efee 187px,#f4f0ef 195.3px"></i><i style="--g:#fefdfd,#f7f4f4 52px,#ece4e3 68px,#ddcfcc 76px,#cab4b0 81px,#b0908a 85px,#93675e 88px,#916454 89px,#d0bd7c 91px,#f4f092 92px,#d3f690 93px,#12d06a 96px,#00acc7 97px,#1078de 98px,#264db3 99px,#31379d 100px,#30399f 101px,#2450b6 102px,#0f7ae0 103px,#00a9d0 104px,#07cd67 105px,#d5f791 109px,#fcfb97 110px,#c9b377 112px,#8c5c51 115px,#b09089 121px,#cebab6 128px,#e1d4d1 136px,#ede6e4 151px,#f4efee 192px,#f4efef 195.3px"></i><i style="--g:#fefdfd,#f7f4f3 53px,#ebe3e1 69px,#dbccc9 77px,#c7afab 82px,#ab8881 86px,#8b5c52 89px,#a47e60 90px,#e6dc8a 92px,#eafb95 93px,#2bd56f 96px,#00bf8e 97px,#0392f8 98px,#1d60c6 99px,#2b42a8 100px,#2f3ba1 101px,#274bb1 102px,#166dd3 103px,#009df2 104px,#00c47f 105px,#28d46e 106px,#c2f38d 109px,#f2fc96 110px,#ece48d 111px,#a68262 114px,#936655 115px,#8e6056 116px,#b4968f 122px,#d1beba 129px,#e2d6d3 137px,#eee7e5 153px,#f4efee 195.3px"></i><i style="--g:#fefdfd,#f7f4f3 53px,#ece4e2 69px,#dccdca 77px,#c8b2ad 82px,#ae8d86 86px,#906258 89px,#996f59 90px,#d9ca81 92px,#fefd98 93px,#84e680 95px,#08ce68 97px,#00a6d8 98px,#1276dc 99px,#2451b7 100px,#2c42a8 101px,#2849af 102px,#1b64ca 103px,#0490f6 104px,#00b7a5 105px,#17d16b 106px,#e0f993 110px,#f6f393 111px,#ae8d66 114px,#9a705a 115px,#8b5c52 116px,#ae8c85 121px,#cab4b0 127px,#ddcfcc 134px,#ebe2e1 147px,#f3eeed 180px,#f4efee 195.3px"></i><i style="--g:#fefdfd,#f7f4f4 53px,#ece4e3 69px,#ddcfcc 77px,#cab4b0 82px,#b1918a 86px,#94685f 89px,#8f6153 90px,#ccb879 92px,#f0e98f 93px,#dbf892 94px,#20d26c 97px,#00b9a0 98px,#058ef4 99px,#1b62c8 100px,#274bb1 101px,#284ab0 102px,#1e5ec4 103px,#0b83e9 104px,#00acc6 105px,#08ce68 106px,#cff58f 110px,#fdff99 111px,#b6986b 114px,#8e5f52 116px,#91635a 117px,#b89a94 123px,#d0bdb9 129px,#e1d5d3 137px,#eee7e5 154px,#f4efee 195.3px"></i><i style="--g:#fefdfd,#f8f4f4 53px,#ebe3e1 70px,#dbccc9 78px,#c7b0ab 83px,#ab8982 87px,#8c5d53 90px,#a17a5e 91px,#e2d687 93px,#f3fd97 94px,#39d771 97px,#0c6 98px,#00a3e1 99px,#17d 100px,#2058be 101px,#254fb5 102px,#1f5bc1 103px,#107ae0 104px,#00a2e3 105px,#00c677 106px,#29d46e 107px,#edfb95 111px,#efe88f 112px,#a88463 115px,#946756 116px,#8e6056 117px,#b1918b 122px,#cdb8b4 128px,#e0d3d0 136px,#ece5e3 151px,#f3efee 190px,#f4efee 195.3px"></i><i style="--g:#fefdfd,#f7f4f3 54px,#ece4e2 70px,#dccdca 78px,#c8b2ad 83px,#ae8d86 87px,#91635a 90px,#966b58 91px,#d5c37f 93px,#f8f595 94px,#cef58f 95px,#18d16b 98px,#00b5ab 99px,#058ef4 100px,#1869cf 101px,#2158be 102px,#1f5cc2 103px,#1374da 104px,#009bfa 105px,#00bc96 106px,#1bd16b 107px,#def892 111px,#f8f594 112px,#ae8d67 115px,#99705a 116px,#8c5d53 117px,#b09089 122px,#cdb8b4 128px,#dfd2d0 136px,#ece5e3 151px,#f3efee 190px,#f3efee 195.3px"></i><i style="--g:#fefdfd,#f7f4f4 54px,#ece4e3 70px,#ddcfcc 78px,#c5ada8 84px,#a9867e 88px,#8c5d51 91px,#c8b177 93px,#eae18c 94px,#e6fa94 95px,#31d670 98px,#00c872 99px,#00a2e3 100px,#0e7ce2 101px,#1b64ca 102px,#1c60c6 103px,#1471d7 104px,#0393f9 105px,#00b3b1 106px,#0dcf69 107px,#fdff99 112px,#b5966b 115px,#8b5b50 117px,#b08f88 122px,#c9b2ae 127px,#dccdca 134px,#eae1df 147px,#f3eeec 179px,#f3efee 195.3px"></i><i style="--g:#fefdfd,#f8f4f4 54px,#ebe3e1 71px,#dbccc9 79px,#c7b0ab 84px,#ac8a83 88px,#8e5f55 91px,#9d755c 92px,#dcce83 94px,#feff99 95px,#4adb75 98px,#13d06a 99px,#00b4ae 100px,#0392f8 101px,#1373d9 102px,#1868ce 103px,#1471d7 104px,#068df3 105px,#00acc6 106px,#02cc66 107px,#effc96 112px,#ede68e 113px,#a47f60 116px,#8f6253 117px,#91635a 118px,#b59690 123px,#ccb7b3 128px,#dfd2cf 136px,#ece4e2 151px,#f3eeed 189px,#f3eeed 195.3px"></i><i style="--g:#fefdfd,#f8f5f4 54px,#ece4e2 71px,#dccecb 79px,#c9b3ae 84px,#af8e88 88px,#92655c 91px,#936655 92px,#cfbc7b 94px,#f1ec91 95px,#dbf892 96px,#2cd56f 99px,#00c677 100px,#00a4dd 101px,#0a86ec 102px,#1374da 103px,#1276dc 104px,#078af0 105px,#00a7d5 106px,#00c678 107px,#24d36d 108px,#e3f993 112px,#f5f092 113px,#a98664 116px,#946856 117px,#8f6157 118px,#b4968f 123px,#ccb7b2 128px,#ded1ce 136px,#ece4e2 151px,#f3eeed 189px,#f3eeed 195.3px"></i><i style="--g:#fefdfd,#f7f4f4 55px,#ece4e3 71px,#dacbc8 80px,#c5aea9 85px,#aa8780 89px,#8b5b51 92px,#a47f60 93px,#e3d888 95px,#f3fd97 96px,#45da74 99px,#11cf69 100px,#00b5aa 101px,#009afb 102px,#0b83e9 103px,#0e7de3 104px,#078bf1 105px,#00a4df 106px,#00c08b 107px,#1ad16b 108px,#d7f791 112px,#fbfa97 113px,#ae8d67 116px,#986d59 117px,#8d5f55 118px,#b4958e 123px,#cbb6b2 128px,#ded1ce 136px,#ebe3e2 151px,#f3eeed 189px,#f3eeed 195.3px"></i><i style="--g:#fefdfd,#f8f4f4 55px,#ebe3e1 72px,#dbccc9 80px,#c7b1ac 85px,#ad8b84 89px,#8f6258 92px,#996f59 93px,#d6c57f 95px,#f8f595 96px,#d1f690 97px,#29d46e 100px,#00c873 101px,#00aacd 102px,#0294fa 103px,#0888ee 104px,#058ff5 105px,#00a3e2 106px,#00bb98 107px,#12d06a 108px,#fbfe98 113px,#cbb679 115px,#9b725b 117px,#8c5d53 118px,#ad8b84 122px,#c7b0ab 127px,#dacbc8 134px,#e9e0de 147px,#f2edec 178px,#f3eeed 195.3px"></i><i style="--g:#fefdfd,#f8f5f4 55px,#ece4e2 72px,#dccecb 80px,#c9b3af 85px,#b09089 89px,#94685f 92px,#8e6053 93px,#c9b377 95px,#eae18c 96px,#e9fb95 97px,#42d973 100px,#12d06a 101px,#00ba9c 102px,#00a3e1 103px,#0197fd 104px,#0197fd 105px,#00a3e0 106px,#00b99f 107px,#0cce68 108px,#63e07a 110px,#f1fc96 113px,#ebe38d 114px,#9f775d 117px,#8b5b51 118px,#ac8a83 122px,#c7b0ab 127px,#dacbc8 134px,#e9dfde 147px,#f2edeb 178px,#f3eeed 195.3px"></i><i style="--g:#fefefd,#f8f5f4 55px,#ece4e3 72px,#dacbc8 81px,#c6afaa 86px,#ab8881 90px,#8d5e54 93px,#9f775d 94px,#dccd83 96px,#fefd98 97px,#5bde78 100px,#29d46e 101px,#00cc67 102px,#00b2b5 103px,#00a2e3 104px,#009fee 105px,#00a6d7 106px,#00b8a1 107px,#08ce68 108px,#5bde78 110px,#e9fb95 113px,#f0ea90 114px,#a27c5f 117px,#8b5c51 118px,#b2938c 123px,#cab4b0 128px,#ddcfcc 136px,#ebe2e1 151px,#f2edec 187px,#f3eeed 195.3px"></i><i style="--g:#fefefd,#f8f4f4 56px,#ebe3e2 73px,#dbcdca 81px,#c8b1ad 86px,#ae8d86 90px,#91645b 93px,#946856 94px,#cfbb7b 96px,#efe98f 97px,#e2f993 98px,#42d973 101px,#16d06a 102px,#00c285 103px,#00afbd 104px,#00a8d3 105px,#00abc8 106px,#00ba9c 107px,#07cd67 108px,#5d7 110px,#e2f993 113px,#f4f092 114px,#a58061 117px,#8d5f52 118px,#9b726a 120px,#b89a94 124px,#cdb8b4 129px,#ded1ce 137px,#ebe3e2 153px,#f3edec 192px,#f3edec 195.3px"></i><i style="--g:#fefefd,#f8f5f4 56px,#ece4e2 73px,#dccecb 81px,#c5ada8 87px,#a9867e 91px,#8a5a50 94px,#c2a873 96px,#e1d586 97px,#fafe98 98px,#5ade78 101px,#2dd56f 102px,#08ce68 103px,#00bd93 104px,#00b2b4 105px,#00b2b3 106px,#00bd92 107px,#07cd67 108px,#29d46e 109px,#7ee57f 111px,#dcf892 113px,#f8f594 114px,#a78362 117px,#906254 118px,#91645b 119px,#b1918a 123px,#c9b3ae 128px,#dccecb 136px,#eae2e0 151px,#f2edec 186px,#f2edec 195.3px"></i><i style="--g:#fefefd,#f8f5f4 56px,#ece5e3 73px,#dbccc8 82px,#c7b0ab 87px,#ac8a83 91px,#8f6157 94px,#996f59 95px,#f4ef92 98px,#dcf892 99px,#73e37d 101px,#45da74 102px,#1ed26c 103px,#01cc66 104px,#00be8f 105px,#00bb98 106px,#00c382 107px,#0ace68 108px,#28d46e 109px,#7ae47e 111px,#d7f791 113px,#fbf996 114px,#a98664 117px,#926555 118px,#91635a 119px,#b09089 123px,#c8b2ad 128px,#dccdca 136px,#eae1e0 151px,#f2edec 186px,#f2edec 195.3px"></i><i style="--g:#fefefd,#f8f5f4 57px,#ebe3e2 74px,#dccdca 82px,#c3aba6 88px,#a7837b 92px,#93675e 94px,#8e6053 95px,#e6db89 98px,#f4fd97 99px,#5ddf79 102px,#34d670 103px,#15d06a 104px,#0c6 105px,#00c679 106px,#00ca6c 107px,#0fcf69 108px,#2ad46e 109px,#77e47e 111px,#fdfd98 114px,#ac8965 117px,#946756 118px,#906259 119px,#b08f88 123px,#c8b1ac 128px,#dbcdc9 136px,#eae1df 151px,#f2eceb 185px,#f2edec 195.3px"></i><i style="--g:#fefefd,#f8f5f4 57px,#ece4e2 74px,#dacac7 83px,#c5aea9 88px,#aa8880 92px,#8d5e54 95px,#9e765c 96px,#f7f494 99px,#d8f791 100px,#76e47e 102px,#4cdb75 103px,#2ad46e 104px,#12d06a 105px,#07cd67 106px,#08ce68 107px,#15d06a 108px,#2dd56f 109px,#4fdc76 110px,#a2ec86 112px,#feff99 114px,#ad8c66 117px,#956a57 118px,#8f6157 119px,#af8e87 123px,#c7b0ab 128px,#dbccc9 136px,#e9e1df 151px,#f2eceb 185px,#f2edec 195.3px"></i><i style="--g:#fefefe,#f8f5f4 57px,#ece5e3 74px,#dbccc9 83px,#c7b0ac 88px,#ae8c85 92px,#91645b 95px,#936756 96px,#e9e08b 99px,#f0fc96 100px,#8ee882 102px,#63e07a 103px,#40d973 104px,#25d36d 105px,#17d16b 106px,#14d06a 107px,#1ed26c 108px,#33d670 109px,#51dc76 110px,#a1ec86 112px,#fcfe98 114px,#976d58 118px,#8e6056 119px,#ae8d86 123px,#c6afaa 128px,#dacbc8 136px,#e9e0de 151px,#f2eceb 184px,#f2edeb 195.3px"></i><i style="--g:#fefefe,#f8f5f4 57px,#ede5e4 74px,#dccdca 83px,#c4aca7 89px,#a9857e 93px,#8b5b51 96px,#bea370 98px,#faf896 100px,#d6f791 101px,#7be57f 103px,#56dd77 104px,#39d771 105px,#28d46e 106px,#22d36d 107px,#28d46e 108px,#3ad872 109px,#5d7 110px,#a1ec86 112px,#fafe98 114px,#e6dc8a 115px,#996f59 118px,#8d5f55 119px,#ad8c85 123px,#c5aea9 128px,#dacac7 136px,#e8dfdd 150px,#f1ecea 182px,#f2eceb 195.3px"></i><i style="--g:#fefefe,#f8f5f4 58px,#ece4e3 75px,#dacbc8 84px,#c6afaa 89px,#ac8a83 93px,#8f6158 96px,#976d58 97px,#ece48d 100px,#eefc96 101px,#93e983 103px,#6de27c 104px,#4edc76 105px,#3ad872 106px,#31d670 107px,#34d670 108px,#42d973 109px,#5bde78 110px,#a2ec86 112px,#f8fe98 114px,#e7de8a 115px,#9b725b 118px,#8c5d53 119px,#ac8a83 123px,#c5ada8 128px,#d9c9c6 136px,#e8dedc 150px,#f1ebea 181px,#f2eceb 195.3px"></i><i style="--g:#fefefe,#f8f5f4 58px,#ece5e3 75px,#dbccc9 84px,#c3aaa5 90px,#a7837b 94px,#8d5e52 97px,#ded185 100px,#fcfa97 101px,#d6f791 102px,#84e680 104px,#64e07a 105px,#4ddb75 106px,#41d973 107px,#41d973 108px,#4cdb75 109px,#61df79 110px,#7fe57f 111px,#ccf58f 113px,#f7fd97 114px,#e9e08b 115px,#9d755c 118px,#8b5c52 119px,#ab8981 123px,#c4aba6 128px,#d8c8c5 136px,#e8dedc 150px,#f1ebea 181px,#f2eceb 195.3px"></i><i style="--g:#fefefe,#f8f5f4 58px,#ede5e4 75px,#dccecb 84px,#c5ada8 90px,#aa8780 94px,#8d5f55 97px,#9b725b 98px,#eee68e 101px,#edfb95 102px,#9aeb85 104px,#79e47e 105px,#60df79 106px,#52dc76 107px,#4fdc76 108px,#56dd77 109px,#69e17b 110px,#84e680 111px,#cdf58f 113px,#f7fd97 114px,#eae18c 115px,#9f785d 118px,#8a5a50 119px,#aa8780 123px,#c3aaa5 128px,#d8c7c4 136px,#e7dddb 150px,#f1ebe9 180px,#f1eceb 195.3px"></i><i style="--g:#fefefe,#f8f5f4 59px,#ece4e3 76px,#dacbc8 85px,#c7b0ab 90px,#ad8c85 94px,#92655c 97px,#916354 98px,#fcfb97 102px,#8fe983 105px,#74e37d 106px,#63e07a 107px,#5ddf79 108px,#62e07a 109px,#71e37d 110px,#8ae882 111px,#cef58f 113px,#f6fd97 114px,#ebe38d 115px,#a27c5f 118px,#8d5e52 119px,#af8e87 124px,#c8b2ad 130px,#dccdca 139px,#eae2e0 156px,#f1ecea 193px,#f1ecea 195.3px"></i><i style="--g:#fefefe,#f8f5f4 59px,#ece5e3 76px,#dbcdca 85px,#c3aba6 91px,#a8857d 95px,#8c5c52 98px,#9f775d 99px,#eee88f 102px,#effc96 103px,#a4ed87 105px,#88e781 106px,#75e37d 107px,#6ce27c 108px,#6ee27c 109px,#7ae47e 110px,#90e983 111px,#cff58f 113px,#f5fd97 114px,#ece58d 115px,#a58061 118px,#906254 119px,#90635a 120px,#ad8b84 124px,#c7b0ac 130px,#dbccc9 139px,#e9e1df 155px,#f1ebea 190px,#f1ebea 195.3px"></i><i style="--g:#fefefe,#f8f5f4 59px,#ede5e4 76px,#dccecb 85px,#c5aea9 91px,#ac8982 95px,#906359 98px,#946856 99px,#fcfa97 103px,#9ceb85 106px,#87e781 107px,#7ce57f 108px,#7ae47e 109px,#84e680 110px,#96ea84 111px,#d0f690 113px,#f4fd97 114px,#eee78e 115px,#936756 119px,#8f6157 120px,#ab8982 124px,#c6afaa 130px,#dacbc8 139px,#e9e0de 155px,#f1ebea 190px,#f1ebea 195.3px"></i><i style="--g:#fefefe,#f8f5f5 59px,#ece4e3 77px,#dbccc8 86px,#c2a9a4 92px,#a7827b 96px,#8a5a50 99px,#efe88f 103px,#f2fc96 104px,#b0ef89 106px,#99eb85 107px,#8be882 108px,#87e781 109px,#8de882 110px,#9deb85 111px,#b4f08a 112px,#f3fd97 114px,#f0e98f 115px,#976c58 119px,#8d5e54 120px,#af8f88 125px,#c8b1ad 131px,#dbccc9 140px,#eae1df 157px,#f1ebea 193px,#f1ebea 195.3px"></i><i style="--g:#fefefe,#f8f5f4 60px,#ede5e3 77px,#dccdca 86px,#c4aca7 92px,#aa8780 96px,#8e6056 99px,#986d59 100px,#fbf996 104px,#e2f993 105px,#c3f38d 106px,#ae8 107px,#9aeb85 108px,#94ea84 109px,#97ea84 110px,#a3ed87 111px,#b7f18b 112px,#f2fc96 114px,#f2ec91 115px,#9b735b 119px,#8b5b51 120px,#ae8c85 125px,#c7b0ab 131px,#dacbc8 140px,#e9e0de 156px,#f0eae9 191px,#f0ebe9 195.3px"></i><i style="--g:#fefefe,#f8f5f4 60px,#ede5e4 77px,#ddcecb 86px,#c6afaa 92px,#ad8b84 96px,#92665d 99px,#8e6052 100px,#eee88f 104px,#f5fd97 105px,#d5f791 106px,#bbf18b 107px,#a9ee88 108px,#a0ec86 109px,#a0ec86 110px,#a9ee88 111px,#baf18b 112px,#f0fc96 114px,#f4f092 115px,#8d5f52 120px,#986e65 122px,#b69891 127px,#cebab5 134px,#e0d3d1 145px,#ede5e3 166px,#f0eae9 195.3px"></i><i style="--g:#fefefe,#f8f5f5 60px,#ece4e3 78px,#dbccc9 87px,#c3aaa5 93px,#a8847d 97px,#8c5d54 100px,#9b725b 101px,#faf796 105px,#e7fa94 106px,#ccf58f 107px,#b7f18b 108px,#acee88 109px,#a9ee88 110px,#afef89 111px,#bdf28c 112px,#edfb95 114px,#f7f494 115px,#936655 120px,#8e6056 121px,#af8e87 126px,#c7b0ab 132px,#dacbc8 141px,#e9dfde 157px,#f0eae9 192px,#f0eae9 195.3px"></i><i style="--g:#fefefe,#f8f5f5 60px,#ece5e3 78px,#dccdca 87px,#c5ada8 93px,#a37d75 98px,#91635a 100px,#926555 101px,#efe88f 105px,#f8fe98 106px,#dbf892 107px,#c5f38d 108px,#b7f18b 109px,#b1ef89 110px,#b4f08a 111px,#bff28c 112px,#e9fb95 114px,#fbf996 115px,#996f59 120px,#8b5c52 121px,#ad8b84 126px,#c6aea9 132px,#d9cac7 141px,#e8dfdd 157px,#f0eae8 191px,#f0eae8 195.3px"></i><i style="--g:#fefefe,#f8f5f4 61px,#ede5e4 78px,#ddcecc 87px,#c6afaa 93px,#a6817a 98px,#8b5b51 101px,#f9f796 106px,#eafb95 107px,#d2f690 108px,#c1f38d 109px,#b8f18b 110px,#b8f18b 111px,#c0f28c 112px,#cff58f 113px,#ff9 115px,#8d5f52 121px,#906359 122px,#b08f88 127px,#cab4b0 134px,#ddcfcc 144px,#eae2e0 162px,#f0e9e8 195.3px"></i><i style="--g:#fefefe,#f8f5f5 61px,#ece4e3 79px,#dbccc9 88px,#c3aaa5 94px,#a17a72 99px,#8e6057 101px,#966b58 102px,#f0ea90 106px,#f8fe98 107px,#def892 108px,#cbf58f 109px,#bff28c 110px,#bcf28c 111px,#c1f38d 112px,#cdf58f 113px,#f7fd97 115px,#f3ed91 116px,#946957 121px,#8d5e55 122px,#ad8c85 127px,#c5aea9 133px,#d9cac6 142px,#e8dedc 158px,#efe9e8 192px,#efe9e8 195.3px"></i><i style="--g:#fefefe,#f8f5f5 61px,#ece5e3 79px,#dccdca 88px,#c5ada8 94px,#a47e77 99px,#92655c 101px,#8e5f52 102px,#fbfa97 107px,#d4f690 109px,#c5f38d 110px,#bff28c 111px,#c0f28c 112px,#c9f48e 113px,#effc96 115px,#f9f795 116px,#8b5b50 122px,#b08f89 128px,#cab4af 135px,#dccecb 145px,#eae2e0 164px,#efe9e7 195.3px"></i><i style="--g:#fefefe,#f8f5f5 61px,#ede5e4 79px,#dccecb 88px,#c6afaa 94px,#a7827b 99px,#8c5d53 102px,#9c735b 103px,#f4ef92 107px,#f4fd97 108px,#dcf892 109px,#caf48e 110px,#c1f38d 111px,#bff28c 112px,#c5f38d 113px,#d2f690 114px,#fdff99 116px,#cab478 119px,#936655 122px,#8e5f56 123px,#ad8c85 128px,#c8b2ad 135px,#dccdca 145px,#e9e0df 163px,#efe8e7 195.3px"></i><i style="--g:#fefefe,#f8f5f4 62px,#ece4e2 80px,#dbccc9 89px,#c3aaa5 95px,#a17b73 100px,#8f6158 102px,#946856 103px,#ede58e 107px,#fdff99 108px,#e3f993 109px,#cff58f 110px,#c2f38d 111px,#bdf28c 112px,#c0f28c 113px,#caf48e 114px,#f1fc96 116px,#f7f494 117px,#8a5a50 123px,#ab8881 128px,#c3aba6 134px,#d8c8c4 143px,#e7dddb 159px,#eee8e6 192px,#eee8e6 195.3px"></i><i style="--g:#fefefe,#f8f5f5 62px,#ece4e3 80px,#dbcdca 89px,#c5ada8 95px,#a47f77 100px,#92665d 102px,#8d5e52 103px,#fbf996 108px,#d2f690 110px,#c2f38d 111px,#baf18b 112px,#baf18b 113px,#c1f38d 114px,#e4fa94 116px,#fdff99 117px,#dcce83 119px,#926655 123px,#8e5f56 124px,#ad8b84 129px,#c8b1ac 136px,#dbccc9 146px,#e9e0de 164px,#eee7e6 195.3px"></i><i style="--g:#fefefe,#f8f5f5 62px,#ede5e3 80px,#dccecb 89px,#c6afaa 95px,#a7827b 100px,#8c5c53 103px,#9c745b 104px,#f6f393 108px,#eefc96 109px,#d5f791 110px,#c2f38d 111px,#b6f08a 112px,#b3f08a 113px,#b8f18b 114px,#c4f38d 115px,#eefc96 117px,#f9f695 118px,#8a5a50 124px,#aa8780 129px,#c3aaa5 135px,#d7c7c3 144px,#e6dcda 160px,#eee7e5 192px,#eee7e5 195.3px"></i><i style="--g:#fefefe,#f8f5f5 62px,#ede5e4 80px,#ddcfcc 89px,#c8b1ac 95px,#a9867e 100px,#8f6057 103px,#966b57 104px,#f2ed91 108px,#f3fd97 109px,#d7f791 110px,#c1f38d 111px,#b2f08a 112px,#abee88 113px,#adef89 114px,#b7f18b 115px,#def892 117px,#f8fe98 118px,#f1ec90 119px,#936756 124px,#8d5f55 125px,#ac8b84 130px,#c7b0ab 137px,#dacbc8 147px,#e8dfdd 165px,#eee6e5 195.3px"></i><i style="--g:#fefefe,#f8f5f5 62px,#ede6e4 80px,#ded0cd 89px,#c9b3af 95px,#ab8982 100px,#91645b 103px,#906354 104px,#eee78f 108px,#f7fd97 109px,#bff28c 111px,#adef89 112px,#a3ed87 113px,#a2ec86 114px,#ae8 115px,#b8f18b 116px,#fdfc97 119px,#9d755c 124px,#8c5c51 125px,#af8e87 131px,#c8b2ad 138px,#dbccc9 148px,#e8dfdd 166px,#ede6e4 195.3px"></i><i style="--g:#fefefe,#f8f5f5 63px,#ece5e3 81px,#dccecb 90px,#c6aea9 96px,#a68179 101px,#8b5b50 104px,#ebe38d 108px,#fafe98 109px,#bdf28c 111px,#a8ee88 112px,#9beb85 113px,#97ea84 114px,#9ceb85 115px,#a8ee88 116px,#d4f690 118px,#f0fc96 119px,#f5f193 120px,#956a57 125px,#8d5e54 126px,#ac8a82 131px,#c6afaa 138px,#dacac7 148px,#e8dedc 166px,#ede5e4 195.3px"></i><i style="--g:#fefefe,#f8f5f5 63px,#ede5e4 81px,#ddcfcc 90px,#c7b0ac 96px,#a8847c 101px,#8c5d53 104px,#9d755c 105px,#e8df8b 108px,#fcfe98 109px,#baf18b 111px,#a2ec86 112px,#92e983 113px,#8be882 114px,#8de882 115px,#98ea84 116px,#c1f38d 118px,#fbfe98 120px,#ede68e 121px,#9f785d 125px,#8e5f52 126px,#906259 127px,#ae8c86 132px,#c7b1ac 139px,#dacbc8 149px,#e8dedc 167px,#ece5e3 195.3px"></i><i style="--g:#fefefe,#f8f5f5 63px,#ede6e4 81px,#ddd0cd 90px,#c9b2ae 96px,#aa877f 101px,#8e6056 104px,#996f59 105px,#feff99 109px,#b7f18b 111px,#9ceb85 112px,#89e781 113px,#7fe57f 114px,#7fe57f 115px,#87e781 116px,#97ea84 117px,#c8f48e 119px,#e6fa94 120px,#faf896 121px,#aa8764 125px,#986d59 126px,#8c5c52 127px,#ab8881 132px,#c6aea9 139px,#d9c9c6 149px,#e7dddb 167px,#ece4e3 195.3px"></i><i style="--g:#fefefe,#f8f5f5 63px,#ede6e4 81px,#dccdca 91px,#c5ada8 97px,#ab8982 101px,#906259 104px,#956a57 105px,#fefe99 109px,#b4f08a 111px,#96ea84 112px,#81e680 113px,#74e37d 114px,#70e27c 115px,#76e47e 116px,#84e680 117px,#b3f08a 119px,#f2fc96 121px,#f2ed91 122px,#a27c5f 126px,#906354 127px,#8f6157 128px,#ad8b84 133px,#c6afaa 140px,#d9cac7 150px,#e7dddb 168px,#ece4e2 195.3px"></i><i style="--g:#fefefe,#f8f5f5 63px,#ece5e3 82px,#dccecb 91px,#c6afaa 97px,#ad8b84 101px,#92655b 104px,#926555 105px,#fefd98 109px,#b1ef89 111px,#91e983 112px,#78e47e 113px,#68e17b 114px,#62e07a 115px,#65e07a 116px,#71e37d 117px,#84e680 118px,#bbf18b 120px,#feff99 122px,#ad8b66 126px,#8a5a50 128px,#aa8780 133px,#c5ada8 140px,#d8c8c5 150px,#e6dcda 168px,#ebe3e1 195.3px"></i><i style="--g:#fefefe,#f8f5f5 64px,#ede5e4 82px,#ddcfcc 91px,#c7b1ac 97px,#af8e87 101px,#93675e 104px,#8e6053 105px,#fdfc98 109px,#8be882 112px,#70e27c 113px,#5ddf79 114px,#54dd77 115px,#54dd77 116px,#5edf79 117px,#6fe27c 118px,#a5ed87 120px,#e8fa94 122px,#f8f594 123px,#a58061 127px,#936756 128px,#8d5f55 129px,#ac8a82 134px,#c6aea9 141px,#d8c9c5 151px,#e6dcda 169px,#ebe3e1 195.3px"></i><i style="--g:#fefefe,#f8f5f5 64px,#ede6e4 82px,#ded0cd 91px,#c9b2ae 97px,#b09089 101px,#8c5c51 105px,#fcfb97 109px,#87e781 112px,#68e17b 113px,#52dc76 114px,#46da74 115px,#44da74 116px,#4bdb75 117px,#5bde78 118px,#8ee882 120px,#f5fd97 123px,#efe98f 124px,#b19068 127px,#8d5e52 129px,#b2928c 136px,#c9b3ae 143px,#dbccc9 154px,#e7dedc 174px,#eae2e0 195.3px"></i><i style="--g:#fefefe,#f8f5f5 64px,#ece4e3 83px,#dccdca 92px,#c5ada8 98px,#a9867f 102px,#8a5b51 105px,#c0a672 107px,#fbfa97 109px,#d6f791 110px,#82e680 112px,#62e07a 113px,#49db75 114px,#3ad872 115px,#34d670 116px,#39d771 117px,#46da74 118px,#5bde78 119px,#97ea84 121px,#fdfc98 124px,#a98663 128px,#976c58 129px,#8c5d53 130px,#aa8881 135px,#c4aca7 142px,#d8c7c4 152px,#e5dbd9 170px,#eae1df 195.3px"></i><i style="--g:#fefefe,#f8f5f5 64px,#ece5e3 83px,#dccecb 92px,#c6aea9 98px,#aa8880 102px,#8c5c52 105px,#a17b5f 106px,#faf896 109px,#d7f791 110px,#7fe57f 112px,#5cde78 113px,#40d973 114px,#2ed56f 115px,#25d36d 116px,#27d46e 117px,#32d670 118px,#45da74 119px,#7fe57f 121px,#ebfb95 124px,#f4f092 125px,#b4966a 128px,#906254 130px,#8f6157 131px,#ac8a83 136px,#c5aea9 143px,#d9c9c6 154px,#e6dcd9 173px,#e9e1df 195.3px"></i><i style="--g:#fefefe,#f8f6f5 64px,#ede5e4 83px,#ddcfcc 92px,#c7b0ab 98px,#ab8982 102px,#8d5e54 105px,#9f785d 106px,#f9f795 109px,#d8f791 110px,#7de57f 112px,#57dd77 113px,#39d771 114px,#24d36d 115px,#18d16b 116px,#17d16b 117px,#1fd26c 118px,#30d670 119px,#67e17b 121px,#f9fe98 125px,#ece48d 126px,#ad8b66 129px,#8a5a50 131px,#a9867f 136px,#c3aba6 143px,#d7c6c3 153px,#e4dad7 171px,#e9e0de 195.3px"></i><i style="--g:#fefefe,#f8f5f5 65px,#ede6e4 83px,#ded0cd 92px,#c8b1ac 98px,#ac8a83 102px,#8d5f55 105px,#9d755c 106px,#f8f494 109px,#d9f791 110px,#7ce57f 112px,#5d7 113px,#34d670 114px,#1bd16b 115px,#0cce68 116px,#07cd67 117px,#0dcf69 118px,#1bd16b 119px,#32d670 120px,#70e27c 122px,#e2f993 125px,#faf896 126px,#b99c6d 129px,#946856 131px,#8d5e55 132px,#ab8881 137px,#c4aca7 144px,#d8c8c5 155px,#e5dad8 174px,#e8dfdd 195.3px"></i><i style="--g:#fefefe,#f8f5f5 65px,#ece4e3 84px,#dccdca 93px,#c8b2ad 98px,#ad8c85 102px,#8e6056 105px,#9b735b 106px,#f6f293 109px,#dcf892 110px,#7de57f 112px,#53dd77 113px,#30d670 114px,#14d06a 115px,#02cc66 116px,#00c776 117px,#00c871 118px,#07cd67 119px,#1cd26c 120px,#58de78 122px,#f0fc96 126px,#f1eb90 127px,#b19168 130px,#8d5f52 132px,#906259 133px,#ac8b83 138px,#c5ada8 145px,#d8c8c5 156px,#e5dad8 175px,#e8dedc 195.3px"></i><i style="--g:#fefefe,#f8f5f5 65px,#ece5e3 84px,#dccecb 93px,#c9b3ae 98px,#ae8d86 102px,#8f6158 105px,#99705a 106px,#f3ee92 109px,#e0f993 110px,#7fe57f 112px,#2ed56f 114px,#0fcf69 115px,#00c677 116px,#00bd94 117px,#00bb98 118px,#00c283 119px,#06cd67 120px,#20d26c 121px,#63e07a 123px,#ff9 127px,#bda270 130px,#986d59 132px,#8b5c52 133px,#a9867f 138px,#c3aaa5 145px,#d7c6c3 156px,#e4d9d7 175px,#e7dedc 195.3px"></i><i style="--g:#fefefe,#f8f5f5 65px,#ede5e4 84px,#ddcfcc 93px,#cab4af 98px,#af8e87 102px,#906359 105px,#976d58 106px,#f0ea90 109px,#e4fa94 110px,#5d7 113px,#2dd56f 114px,#0cce68 115px,#00c186 116px,#00b4ad 117px,#00b0ba 118px,#00b4ae 119px,#00c089 120px,#09ce68 121px,#4adb75 123px,#e7fa94 127px,#f6f293 128px,#b5976b 131px,#916455 133px,#8e6056 134px,#ab8881 139px,#c3aba6 146px,#d7c6c3 157px,#e4d9d6 176px,#e7dddb 195.3px"></i><i style="--g:#fefefe,#f8f6f5 65px,#ede6e4 84px,#ddcfcd 93px,#cab5b0 98px,#af8f88 102px,#91645a 105px,#956a57 106px,#ede58e 109px,#eafb95 110px,#59de78 113px,#0bce68 115px,#00be90 116px,#00aec1 117px,#00a6d8 118px,#00a7d4 119px,#00b1b8 120px,#00c285 121px,#0fcf69 122px,#56dd77 124px,#f6fd97 128px,#ede68e 129px,#ae8d67 132px,#8b5c51 134px,#ac8a83 140px,#c4aca7 147px,#d7c6c3 158px,#e3d8d6 177px,#e6dcda 195.3px"></i><i style="--g:#fefefe,#f8f5f5 66px,#ece4e3 85px,#dbccc9 94px,#c6aea9 99px,#a7837b 103px,#92655c 105px,#936655 106px,#e9e08b 109px,#f1fc96 110px,#5fdf79 113px,#0dcf69 115px,#00bc95 116px,#00a9ce 117px,#009eef 118px,#009cf6 119px,#00a2e3 120px,#00b0b9 121px,#00c679 122px,#18d16b 123px,#8ce882 126px,#def892 128px,#fcfa97 129px,#ba9e6e 132px,#966b57 134px,#8c5d53 135px,#a9867f 140px,#c2a9a4 147px,#d6c5c1 158px,#e3d7d5 177px,#e6dbd9 195.3px"></i><i style="--g:#fefefe,#f8f5f5 66px,#ece5e3 85px,#dbcdca 94px,#c6afaa 99px,#a8847c 103px,#93675d 105px,#906254 106px,#e4d988 109px,#f9fe98 110px,#39d771 114px,#11cf69 115px,#00bd93 116px,#00a7d5 117px,#0098fe 118px,#058ff5 119px,#0394fa 120px,#00a1e8 121px,#00b3b0 122px,#0c6 123px,#4adb75 125px,#edfb95 129px,#f3ed91 130px,#b3946a 133px,#906254 135px,#8e6057 136px,#ab8881 141px,#c2aaa4 148px,#d6c5c1 159px,#e2d7d4 178px,#e5dad8 195.3px"></i><i style="--g:#fefefe,#f8f5f5 66px,#ede5e3 85px,#dccdca 94px,#c7afab 99px,#a8857d 103px,#8d5e52 106px,#dfd285 109px,#fdfc98 110px,#a0ec86 112px,#41d973 114px,#17d16b 115px,#00c08a 116px,#00a7d6 117px,#0392f8 118px,#0b83e9 119px,#0b82e8 120px,#058ff5 121px,#00a2e3 122px,#00b9a0 123px,#0ace68 124px,#fbfe98 130px,#ac8a65 134px,#8a5a50 136px,#a7837c 141px,#c0a7a1 148px,#d4c3bf 159px,#e2d5d3 178px,#e4d9d7 195.3px"></i><i style="--g:#fefefe,#f8f5f5 66px,#ede5e4 85px,#dccecb 94px,#c7b0ab 99px,#a9867f 103px,#8a5a50 106px,#daca82 109px,#f7f494 110px,#dcf892 111px,#1fd26c 115px,#00c57c 116px,#00a9d0 117px,#0490f6 118px,#0f7be1 119px,#1274da 120px,#0f7be1 121px,#058ff5 122px,#00a7d6 123px,#00c089 124px,#16d06a 125px,#e3f993 130px,#f8f595 131px,#b89b6d 134px,#956957 136px,#8c5d54 137px,#a9857e 142px,#c1a7a2 149px,#d4c3bf 160px,#e1d5d2 179px,#e4d8d6 195.3px"></i><i style="--g:#fefefe,#f8f6f5 66px,#ede6e4 85px,#dfd2d0 93px,#cdb8b4 98px,#b2938d 102px,#8c5d53 106px,#9f775d 107px,#f0ea90 110px,#e8fa94 111px,#29d46e 115px,#00cb68 116px,#00adc4 117px,#0492f8 118px,#17d 119px,#186ad0 120px,#176bd1 121px,#1079df 122px,#0394fa 123px,#00adc3 124px,#00ca6d 125px,#24d36d 126px,#f2fc96 131px,#efe98f 132px,#b19168 135px,#8f6153 137px,#8f6157 138px,#ae8d86 144px,#c6afaa 152px,#d7c7c4 164px,#e2d6d4 185px,#e3d7d5 195.3px"></i><i style="--g:#fefefe,#f8f5f5 67px,#ece4e3 86px,#ddcfcc 94px,#c8b1ad 99px,#ab8881 103px,#8e5f55 106px,#9a705a 107px,#e9df8b 110px,#f5fd97 111px,#35d771 115px,#09ce68 116px,#00b3b1 117px,#0197fd 118px,#1176dc 119px,#1b63c9 120px,#1e5dc3 121px,#1a66cc 122px,#0f7be1 123px,#009bf9 124px,#00b6a9 125px,#0ace68 126px,#daf892 131px,#fefd98 132px,#bda270 135px,#8a5a50 138px,#a7837b 143px,#bfa5a0 150px,#d3c1bd 161px,#e0d3d0 180px,#e2d6d4 195.3px"></i><i style="--g:#fefefe,#f8f5f5 67px,#ece5e3 86px,#ddd0cd 94px,#c8b2ad 99px,#ac8982 103px,#906258 106px,#956957 107px,#e1d486 110px,#fdfc98 111px,#d4f690 112px,#16d06a 116px,#0b9 117px,#009df3 118px,#1079df 119px,#1d60c6 120px,#2354ba 121px,#2156bc 122px,#1a66cc 123px,#0c82e8 124px,#00a3e2 125px,#00c08b 126px,#18d16b 127px,#e9fb95 132px,#f5f193 133px,#b7996c 136px,#946856 138px,#8c5d54 139px,#ac8a83 145px,#c4aca7 153px,#d6c5c2 165px,#e1d4d2 186px,#e2d5d3 195.3px"></i><i style="--g:#fefefe,#f8f5f5 67px,#ede5e4 86px,#ded0cd 94px,#c9b2ae 99px,#a47f77 104px,#92655b 106px,#8f6153 107px,#d9c981 110px,#f4f092 111px,#e3f993 112px,#24d36d 116px,#00c57b 117px,#00a4dd 118px,#0c80e6 119px,#1c61c7 120px,#254eb4 121px,#284ab0 122px,#2353b9 123px,#186ad0 124px,#078cf2 125px,#00acc7 126px,#00cb69 127px,#f7fd97 133px,#ede58e 134px,#b09068 137px,#8f6153 139px,#8f6057 140px,#ad8c85 146px,#c5ada8 154px,#d7c6c3 167px,#e0d4d1 189px,#e1d4d2 195.3px"></i><i style="--g:#fefefe,#f8f5f5 67px,#ede5e4 86px,#ded0ce 94px,#c9b3ae 99px,#a58179 104px,#8a5a50 107px,#d0bd7c 110px,#ebe28c 111px,#f3fd97 112px,#06cd67 117px,#00aec0 118px,#078bf1 119px,#1a65cb 120px,#264cb2 121px,#2c41a7 122px,#2a44aa 123px,#25b 124px,#1472d8 125px,#09f 126px,#00b6a7 127px,#0dcf69 128px,#dff993 133px,#fbfa97 134px,#bca16f 137px,#8a5a50 140px,#aa8780 146px,#c3aaa5 154px,#d5c3c0 166px,#dfd2cf 187px,#e0d3d1 195.3px"></i><i style="--g:#fefefe,#f8f6f5 67px,#ede6e4 86px,#ded1ce 94px,#c9b3af 99px,#a7837b 104px,#8d5e54 107px,#996f59 108px,#e1d586 111px,#fcfb97 112px,#d5f791 113px,#16d06a 117px,#00b99e 118px,#0098fe 119px,#166ed4 120px,#254fb5 121px,#2e3da3 122px,#30399f 123px,#2b43a9 124px,#1f5ac0 125px,#0e7ce2 126px,#00a2e3 127px,#00c284 128px,#1dd26c 129px,#c6f48e 133px,#edfb95 134px,#f3ee91 135px,#b6986b 138px,#946956 140px,#8c5d53 141px,#ab8981 147px,#c3aaa5 155px,#d4c3bf 167px,#dfd1ce 188px,#dfd2cf 195.3px"></i><i style="--g:#fefefe,#f8f5f5 68px,#ede6e5 86px,#ded1ce 94px,#cab4af 99px,#a17a72 105px,#906258 107px,#926555 108px,#d8c780 111px,#f2ed91 112px,#e7fa94 113px,#27d46e 117px,#00c678 118px,#00a3e0 119px,#107ae0 120px,#25b 121px,#2e3ca2 122px,#339 123px,#32359b 124px,#2a46ac 125px,#1b63c9 126px,#088af0 127px,#00adc2 128px,#03cd67 129px,#d5f791 134px,#fbfe98 135px,#b08f68 139px,#906254 141px,#8e6056 142px,#ac8a83 148px,#c3aaa5 156px,#d5c4c0 169px,#ded0ce 190px,#ded1ce 195.3px"></i><i style="--g:#fefefe,#f8f5f5 68px,#eee6e5 86px,#dfd1cf 94px,#cab4b0 99px,#a37d75 105px,#8b5b51 108px,#ceb97a 111px,#e7de8a 112px,#f9fe98 113px,#0ace68 118px,#00b0bb 119px,#0889ef 120px,#1d5fc5 121px,#2d40a6 122px,#339 123px,#32359b 125px,#274cb2 126px,#156ed4 127px,#0099fe 128px,#00b99f 129px,#12d06a 130px,#e3f993 135px,#f9f795 136px,#bca06f 139px,#8b5c51 142px,#ad8b84 149px,#c3aaa5 157px,#d4c3bf 170px,#ddcfcc 191px,#ddd0cd 195.3px"></i><i style="--g:#fefefe,#f8f5f5 68px,#eee7e5 86px,#dfd2cf 94px,#cab5b0 99px,#9d756d 106px,#8d5e54 108px,#976d58 109px,#ddcf84 112px,#f7f494 113px,#def892 114px,#1dd26c 118px,#00be91 119px,#009bfa 120px,#176cd2 121px,#2947ad 122px,#339 123px,#339 125px,#30389e 126px,#25b 127px,#0e7ce2 128px,#00a5dc 129px,#00c679 130px,#22d36d 131px,#caf48e 135px,#f1fc96 136px,#f1ec90 137px,#b6986b 140px,#966a57 142px,#8b5c52 143px,#aa877f 149px,#c1a8a2 157px,#d3c1bd 170px,#dccecb 191px,#ddcecb 195.3px"></i><i style="--g:#fefefe,#f8f5f5 68px,#eee7e5 86px,#dfd2cf 94px,#c5aea9 100px,#986e65 107px,#906359 108px,#8f6253 109px,#d2c07d 112px,#ece48d 113px,#f2fc96 114px,#01cc66 119px,#00a8d2 120px,#0e7de3 121px,#2352b8 122px,#339 123px,#339 126px,#2d3fa5 127px,#1c61c7 128px,#068cf2 129px,#00b0b9 130px,#08ce68 131px,#d8f791 136px,#feff99 137px,#c2a973 140px,#916454 143px,#8d5e55 144px,#aa8880 150px,#c1a8a2 158px,#d3c1bd 171px,#dbcdca 192px,#dccdca 195.3px"></i><i style="--g:#fefefe,#f8f6f5 68px,#eee7e6 86px,#dfd2cf 94px,#c6afaa 100px,#9b726a 107px,#8b5c52 109px,#9b725b 110px,#e0d486 113px,#fbfa97 114px,#d8f791 115px,#15d06a 119px,#00b7a6 120px,#0490f6 121px,#1c61c7 122px,#2f3ca2 123px,#339 124px,#339 127px,#2849af 128px,#156fd5 129px,#009cf6 130px,#00bd93 131px,#18d16b 132px,#bff28c 136px,#e6fa94 137px,#f8f595 138px,#bda170 141px,#8d5e52 144px,#946960 146px,#af8e87 152px,#c5ada8 161px,#d5c3bf 175px,#dbccc9 195.3px"></i><i style="--g:#fefefe,#f8f5f5 69px,#ede6e4 87px,#dfd2d0 94px,#c2a8a3 101px,#9e776e 107px,#8f6157 109px,#926655 110px,#d5c47f 113px,#efe98f 114px,#ecfb95 115px,#2ad46e 119px,#00c775 120px,#00a2e5 121px,#1373d9 122px,#2948ae 123px,#339 124px,#339 128px,#25b 129px,#0d7fe5 130px,#00a8d2 131px,#00ca6d 132px,#27d46e 133px,#cdf58f 137px,#f2fc96 138px,#f1eb90 139px,#b79a6c 142px,#8a5a50 145px,#a8847d 151px,#bfa59f 159px,#d1beba 172px,#d9cac7 192px,#dacac7 195.3px"></i><i style="--g:#fefefe,#f8f5f5 69px,#ede6e4 87px,#e0d3d0 94px,#c3aaa5 101px,#a17b73 107px,#8a5a50 110px,#b39369 112px,#fefe98 115px,#a3ed87 117px,#0fcf69 120px,#00b1b6 121px,#0988ee 122px,#2158be 123px,#339 124px,#339 128px,#2e3da3 129px,#1b63c9 130px,#0491f7 131px,#00b4ad 132px,#0dcf69 133px,#b4f08a 137px,#ff9 139px,#c3ab74 142px,#946756 145px,#8c5d53 146px,#a9857e 152px,#bfa59f 160px,#d0bdb9 173px,#d9c9c5 193px,#d9c9c6 195.3px"></i><i style="--g:#fefefe,#f8f5f5 69px,#ede6e5 87px,#e0d3d0 94px,#ba9e98 103px,#9d756d 108px,#8e6056 110px,#946856 111px,#d7c780 114px,#f2ec91 115px,#e8fa94 116px,#24d36d 120px,#00c283 121px,#009df3 122px,#176bd1 123px,#2d40a6 124px,#339 125px,#339 129px,#2849af 130px,#1373d9 131px,#00a0eb 132px,#00c187 133px,#1dd26c 134px,#c1f38d 138px,#e7fa94 139px,#f8f595 140px,#bea370 143px,#906254 146px,#8d5f55 147px,#a9867e 153px,#c1a7a2 162px,#d1bfbb 176px,#d8c7c4 195.3px"></i><i style="--g:#fefefe,#f8f5f5 69px,#eee6e5 87px,#e0d3d0 94px,#b79a93 104px,#9a7067 109px,#8b5b51 111px,#ccb779 114px,#fdff99 116px,#0ace68 121px,#00adc2 122px,#0c81e7 123px,#2451b7 124px,#339 125px,#339 130px,#2157bd 131px,#0a84ea 132px,#00acc7 133px,#02cc66 134px,#a8ee88 138px,#f3fd97 140px,#f1ec90 141px,#b99c6d 144px,#8d5e52 147px,#996f67 150px,#b3948d 157px,#c7b0ab 167px,#d4c2bf 183px,#d6c6c2 195.3px"></i><i style="--g:#fefefe,#f8f6f5 69px,#eee7e5 87px,#e0d3d0 94px,#b4968f 105px,#966a61 110px,#8e5f55 111px,#956a57 112px,#d9c981 115px,#f3ef92 116px,#e5fa94 117px,#21d36d 121px,#00bf8d 122px,#009afd 123px,#1a65cb 124px,#2f3aa0 125px,#339 126px,#339 130px,#2d3ea4 131px,#1967cd 132px,#0197fd 133px,#00b8a1 134px,#12d06a 135px,#b6f08a 139px,#feff99 141px,#c5ad75 144px,#976c58 147px,#8a5a50 148px,#a6827b 154px,#bea49e 163px,#cfbbb7 176px,#d5c4c1 195.3px"></i><i style="--g:#fefefe,#f8f5f5 70px,#eee7e5 87px,#e0d3d1 94px,#b79993 105px,#997067 110px,#8b5c51 112px,#cdb87a 115px,#fbfe98 117px,#08ce68 122px,#00abc8 123px,#0e7ee4 124px,#264db3 125px,#339 126px,#339 131px,#264db3 132px,#1079df 133px,#00a4dd 134px,#00c679 135px,#22d36d 136px,#c3f38d 140px,#e7fa94 141px,#f8f695 142px,#c0a672 145px,#936756 148px,#8c5c53 149px,#a7837b 155px,#bea49e 164px,#cfbbb7 178px,#d4c3bf 195.3px"></i><i style="--g:#fefefe,#f8f5f5 70px,#eee7e6 87px,#e0d4d1 94px,#b4968f 106px,#966b62 111px,#8e5f56 112px,#956a57 113px,#d9ca81 116px,#f4ef92 117px,#e4fa94 118px,#20d26c 122px,#00bf8e 123px,#09f 124px,#1a65cb 125px,#30399f 126px,#339 127px,#339 131px,#31379d 132px,#1d5fc5 133px,#068df3 134px,#00b2b5 135px,#09ce68 136px,#abee88 140px,#f4fd97 142px,#f1ec91 143px,#bb9f6f 146px,#906254 149px,#8d5e55 150px,#ab8881 157px,#c0a6a1 166px,#cfbbb7 180px,#d3c1bd 195.3px"></i><i style="--g:#fefefe,#f8f5f5 70px,#eee7e6 87px,#ddd0cd 95px,#b79993 106px,#9a7067 111px,#8b5b51 113px,#ccb879 116px,#fbfe98 118px,#09ce68 123px,#00acc5 124px,#0d7fe5 125px,#254fb5 126px,#339 127px,#339 132px,#2948ae 133px,#1472d8 134px,#009fee 135px,#00bf8c 136px,#1ad16b 137px,#b9f18b 141px,#ff9 143px,#c6af76 146px,#99705a 149px,#8c5d51 150px,#ab8982 158px,#c1a8a3 168px,#cfbbb7 183px,#d2bfbc 195.3px"></i><i style="--g:#fefefe,#f8f6f5 70px,#eee8e6 87px,#ded0cd 95px,#b99d97 106px,#9e766d 111px,#8e6056 113px,#946856 114px,#d8c981 117px,#f3ee91 118px,#e6fa94 119px,#22d36d 123px,#00c188 124px,#009bf8 125px,#1868ce 126px,#2e3da3 127px,#339 128px,#32349a 133px,#205ac0 134px,#0987ed 135px,#00adc4 136px,#02cc66 137px,#a2ec86 141px,#eafb95 143px,#f8f594 144px,#c1a872 147px,#966a57 150px,#8a5b51 151px,#a8857d 158px,#bea39d 167px,#cdb8b4 181px,#d1beba 195.3px"></i><i style="--g:#fefefe,#f8f5f5 71px,#efe8e6 87px,#ded1ce 95px,#bca09a 106px,#a17b73 111px,#8a5a50 114px,#cbb679 117px,#feff99 119px,#0dcf69 124px,#00b0bb 125px,#0a85eb 126px,#25b 127px,#339 128px,#339 133px,#2a45ab 134px,#009bf9 136px,#00bb9a 137px,#13d06a 138px,#b0ef89 142px,#f6fd97 144px,#f1eb90 145px,#bca16f 148px,#926655 151px,#8c5c53 152px,#a9857e 159px,#bfa59f 169px,#cdb8b4 184px,#d0bcb8 195.3px"></i><i style="--g:#fefefe,#f8f5f5 71px,#efe8e7 87px,#dccdca 96px,#bea49e 106px,#a58078 111px,#8f6157 114px,#936655 115px,#d7c680 118px,#f1eb90 119px,#e9fb95 120px,#27d46e 124px,#00c57a 125px,#00a0e9 126px,#1470d6 127px,#2a44aa 128px,#339 129px,#32349a 134px,#2158be 135px,#0b83e9 136px,#00a9cf 137px,#00c96e 138px,#24d36d 139px,#bef28c 143px,#e1f993 144px,#fdfd98 145px,#c7b076 148px,#8f6153 152px,#8d5e55 153px,#a9867f 160px,#bfa49f 170px,#ccb7b3 185px,#cebab6 195.3px"></i><i style="--g:#fefefe,#f8f6f5 71px,#efe8e7 87px,#dacbc7 97px,#c1a7a2 106px,#a9857e 111px,#8b5b51 115px,#9c735b 116px,#e2d687 119px,#fdfd98 120px,#d4f690 121px,#13d06a 125px,#00b5aa 126px,#058ef4 127px,#1d5ec4 128px,#31379d 129px,#339 132px,#339 134px,#2a45ab 135px,#176cd2 136px,#0098fe 137px,#00b7a4 138px,#0ecf69 139px,#a8ee88 143px,#edfb95 145px,#f6f394 146px,#c2a973 149px,#8c5d51 153px,#a9867f 161px,#bea49e 171px,#cbb6b2 186px,#cdb9b4 195.3px"></i><i style="--g:#fefefe,#f8f6f5 71px,#efe9e7 87px,#d4c2be 100px,#bb9f99 108px,#9f7870 113px,#906259 115px,#906354 116px,#d4c27e 119px,#eee78e 120px,#eefc96 121px,#00cc67 126px,#00a7d5 127px,#0f7be1 128px,#254fb5 129px,#339 130px,#31369c 135px,#2058be 136px,#0c81e7 137px,#00a7d6 138px,#00c679 139px,#1fd26c 140px,#b6f08a 144px,#f9fe98 146px,#f0e98f 147px,#bda270 150px,#946957 153px,#8b5b51 154px,#a7837b 161px,#bda19c 171px,#cab4b0 186px,#ccb7b3 195.3px"></i><i style="--g:#fefefe,#f8f5f5 72px,#efe9e7 87px,#cebab6 103px,#b99d97 109px,#9c746b 114px,#8c5d53 116px,#99705a 117px,#dfd285 120px,#faf896 121px,#daf892 122px,#1bd16b 126px,#00bd93 127px,#009afc 128px,#176ad0 129px,#2b43a9 130px,#339 131px,#339 135px,#2948ae 136px,#176cd2 137px,#0196fc 138px,#00b5ab 139px,#0ace68 140px,#c3f38d 145px,#e5fa94 146px,#fcfa97 147px,#c8b176 150px,#916455 154px,#8c5d53 155px,#a7837c 162px,#bca19b 172px,#c9b3ae 187px,#cbb5b1 195.3px"></i><i style="--g:#fefefe,#f8f6f5 72px,#efe9e8 87px,#cab5b0 105px,#b2938c 111px,#91645a 116px,#8e6052 117px,#d1be7c 120px,#ebe28c 121px,#f4fd97 122px,#09ce68 127px,#00afbc 128px,#0888ee 129px,#1e5cc2 130px,#2f3aa0 131px,#339 132px,#339 135px,#2f3ba1 136px,#205ac0 137px,#0c80e6 138px,#00a5da 139px,#00c381 140px,#1ad16b 141px,#aeef89 145px,#f0fc96 147px,#f5f193 148px,#c3aa73 151px,#8e6053 155px,#8d5e54 156px,#a7837c 163px,#bca09b 173px,#c8b2ad 188px,#c9b3af 195.3px"></i><i style="--g:#fefefe,#f8f6f5 72px,#f0e9e8 87px,#ccb7b3 105px,#b59791 111px,#966a61 116px,#8d5f55 117px,#976c58 118px,#dccd83 121px,#f6f293 122px,#e1f993 123px,#25d36d 127px,#00c679 128px,#00a3e1 129px,#1079df 130px,#2451b7 131px,#33349a 132px,#339 136px,#274bb1 137px,#166dd3 138px,#0296fc 139px,#00b3b1 140px,#06cd67 141px,#bbf18b 146px,#fbfe98 148px,#bea471 152px,#8c5c51 156px,#aa8780 165px,#bea39e 176px,#c8b1ac 192px,#c8b1ad 195.3px"></i><i style="--g:#fefefe,#f9f6f5 72px,#f0e9e8 87px,#cebab6 105px,#b89b95 111px,#9a7168 116px,#8b5c51 118px,#cdb97a 121px,#fbfe98 123px,#14d06a 128px,#00b9a0 129px,#0198fe 130px,#176cd2 131px,#2849af 132px,#339 133px,#339 136px,#2c40a6 137px,#1e5dc3 138px,#0c81e7 139px,#00a4de 140px,#00c188 141px,#16d06a 142px,#c8f48e 147px,#e7fa94 148px,#fbf996 149px,#c9b277 152px,#946956 156px,#8a5a50 157px,#a58078 164px,#ba9d97 174px,#c6aea9 189px,#c7afab 195.3px"></i><i style="--g:#fefefe,#f8f6f5 73px,#eee8e6 88px,#cdb9b4 106px,#b69992 112px,#976c63 117px,#8e6057 118px,#946856 119px,#d8c881 122px,#f2ec91 123px,#e9fb95 124px,#04cd67 129px,#00adc3 130px,#0889ef 131px,#1c61c7 132px,#2b43a9 133px,#339 134px,#339 136px,#30399f 137px,#2450b6 138px,#156fd5 139px,#0295fb 140px,#00b1b6 141px,#02cc66 142px,#b3f08a 147px,#f2fc96 149px,#f5f193 150px,#b6996c 154px,#926555 157px,#8b5c52 158px,#a58078 165px,#b99c96 175px,#c4aca7 190px,#c5ada8 195.3px"></i><i style="--g:#fefefe,#f8f6f5 73px,#efe8e6 88px,#cfbbb7 106px,#b99d97 112px,#9b7269 117px,#8b5b51 119px,#b29369 121px,#fdfc98 124px,#d6f791 125px,#1fd26c 129px,#00c382 130px,#00a2e3 131px,#0f7ce2 132px,#2059bf 133px,#2d3fa5 134px,#339 135px,#32359b 137px,#2947ad 138px,#1c61c7 139px,#0b82e8 140px,#00a3e0 141px,#00be8f 142px,#12d06a 143px,#bff28c 148px,#fcfe98 150px,#b3946a 155px,#906254 158px,#8c5d53 159px,#a8847c 167px,#bb9f99 178px,#c3aba6 193px,#c4aba6 195.3px"></i><i style="--g:#fefefe,#f9f6f5 73px,#f0eae9 87px,#d1beba 106px,#bca09b 112px,#9f7870 117px,#906258 119px,#916454 120px,#d4c37e 123px,#eee68e 124px,#f0fc96 125px,#10cf69 130px,#00b7a4 131px,#0099fe 132px,#1471d7 133px,#2353b9 134px,#2e3ea4 135px,#32349a 136px,#32359b 137px,#2c41a7 138px,#25b 139px,#1472d8 140px,#0295fb 141px,#00b0bb 142px,#00cb69 143px,#caf48e 149px,#e8fa94 150px,#fbfa97 151px,#bda270 155px,#8e6053 159px,#8d5e54 160px,#a7837c 168px,#ba9d98 179px,#c2a9a4 194px,#c2a9a4 195.3px"></i><i style="--g:#fefefe,#f9f6f5 73px,#f0eae9 87px,#d2c0bc 106px,#ba9e98 113px,#9c736b 118px,#8c5c53 120px,#9a705a 121px,#dfd185 124px,#f8f695 125px,#def892 126px,#01cc66 131px,#00adc3 132px,#068df3 133px,#1869cf 134px,#254fb5 135px,#2d3fa5 136px,#30399f 137px,#2d3ea4 138px,#264db3 139px,#1a65cb 140px,#0b83e9 141px,#00a2e3 142px,#00bc97 143px,#0dcf69 144px,#b5f08a 149px,#f1fc96 151px,#f6f394 152px,#ba9e6e 156px,#8d5e52 160px,#91645b 162px,#a9867f 170px,#bb9f99 182px,#c0a6a1 195.3px"></i><i style="--g:#fefefe,#f8f6f5 74px,#efe8e7 88px,#d4c2be 106px,#bda19c 113px,#a07971 118px,#91635a 120px,#8f6153 121px,#d0bd7c 124px,#e9e08b 125px,#f8fe98 126px,#1cd26c 131px,#00c285 132px,#00a4de 133px,#0b82e8 134px,#1b62c8 135px,#264cb2 136px,#2c41a7 137px,#2d40a6 138px,#2848ae 139px,#1f5ac0 140px,#1274da 141px,#0294fa 142px,#00aec1 143px,#00c774 144px,#1bd16b 145px,#bff28c 150px,#f9fe98 152px,#f2ec91 153px,#b89a6c 157px,#8c5c51 161px,#a7827b 170px,#b89b95 181px,#bea49e 195.3px"></i><i style="--g:#fefefe,#f9f6f5 74px,#efe8e7 88px,#d5c4c0 106px,#bfa59f 113px,#a47e77 118px,#8d5e54 121px,#976d58 122px,#dbcc82 125px,#f4f092 126px,#e6fa94 127px,#0dcf69 132px,#00b8a3 133px,#009cf6 134px,#1079df 135px,#1e5ec4 136px,#264cb2 137px,#2a45ab 138px,#2947ad 139px,#2353b9 140px,#1968ce 141px,#0b84ea 142px,#00a1e8 143px,#00b9a0 144px,#08ce68 145px,#c8f48e 151px,#fefd98 153px,#c2a973 157px,#946956 161px,#8b5b51 162px,#a6817a 171px,#b79993 182px,#bda19c 195.3px"></i><i style="--g:#fefefe,#f9f6f5 74px,#efe8e7 88px,#d7c6c2 106px,#c1a8a3 113px,#a7847c 118px,#8c5d51 122px,#cdb87a 125px,#ff9 127px,#27d46e 132px,#0c6 133px,#00aebf 134px,#0392f8 135px,#1472d8 136px,#1f5bc1 137px,#264db3 138px,#2849af 139px,#2550b6 140px,#1d5fc5 141px,#1275db 142px,#0393f9 143px,#00abc9 144px,#00c380 145px,#14d06a 146px,#d1f690 152px,#edfb95 153px,#faf896 154px,#c0a672 158px,#946856 162px,#8a5b50 163px,#a58079 172px,#b59791 183px,#bb9f99 195.3px"></i><i style="--g:#fefefe,#f9f6f6 74px,#efe9e7 88px,#d8c8c4 106px,#c3aba6 113px,#ab8881 118px,#8e5f56 122px,#956a57 123px,#d7c780 126px,#f0ea90 127px,#eefc96 128px,#19d16b 133px,#00c285 134px,#00a6d8 135px,#0889ef 136px,#166cd2 137px,#2059bf 138px,#254fb5 139px,#254fb5 140px,#2059bf 141px,#176ad0 142px,#0b83e9 143px,#009eef 144px,#01cc66 146px,#d8f791 153px,#f3fd97 154px,#f6f394 155px,#bea471 159px,#936756 163px,#8a5b50 164px,#a47f78 173px,#b59690 185px,#b89c96 195.3px"></i><i style="--g:#fefefe,#f9f6f6 74px,#efe9e7 88px,#d9c9c6 106px,#c6aea9 113px,#a8847d 119px,#8a5a50 123px,#cab478 126px,#fbf996 128px,#dcf892 129px,#32d670 133px,#0cce68 134px,#00b8a2 135px,#009eef 136px,#0c80e6 137px,#1968ce 138px,#2058be 139px,#2352b8 140px,#2256bc 141px,#1c62c8 142px,#1276dc 143px,#0490f6 144px,#00a7d4 145px,#00be90 146px,#0cce68 147px,#c2f38d 153px,#f9fe98 155px,#f3ef92 156px,#bda270 160px,#8b5b51 165px,#a37e76 174px,#b3948d 186px,#b69892 195.3px"></i><i style="--g:#fefefe,#f9f6f6 74px,#efe9e7 88px,#dacbc8 106px,#c4aba6 114px,#a58078 120px,#8f6057 123px,#936756 124px,#d4c27e 127px,#ece58d 128px,#f4fd97 129px,#24d36d 134px,#00cb69 135px,#00afbd 136px,#0197fd 137px,#1079df 138px,#1a64ca 139px,#2058be 140px,#2256bc 141px,#1e5cc2 142px,#176bd1 143px,#009bf8 145px,#00b0bb 146px,#00c677 147px,#16d06a 148px,#c9f48e 154px,#fdff99 156px,#bda170 161px,#8c5c51 166px,#a47f77 176px,#b2928c 188px,#b4958f 195.3px"></i><i style="--g:#fefefe,#f9f6f5 75px,#eee7e6 89px,#dbcdca 106px,#c6aea9 114px,#a8857d 120px,#8b5b51 124px,#b19168 126px,#f7f494 129px,#e3f993 130px,#16d06a 135px,#00c188 136px,#00a7d5 137px,#068df3 138px,#1373d9 139px,#1c62c8 140px,#2059bf 141px,#205ac0 142px,#1b63c9 143px,#1374da 144px,#078bf1 145px,#00a3e2 146px,#03cd67 148px,#cef58f 155px,#fefe98 157px,#c8b177 161px,#956a57 166px,#8d5e52 167px,#8f6258 169px,#a47f78 178px,#b09089 190px,#b1918b 195.3px"></i><i style="--g:#fefefe,#f9f6f5 75px,#eee7e6 89px,#dccecb 106px,#c8b1ac 114px,#ab8982 120px,#8f6157 124px,#926555 125px,#d1bf7d 128px,#e9e08b 129px,#fafe98 130px,#2dd56f 135px,#08ce68 136px,#00b7a5 137px,#009fec 138px,#0a84ea 139px,#166dd3 140px,#1d60c6 141px,#1f5bc1 142px,#1d5ec4 143px,#186ad0 144px,#0e7ce2 145px,#0295fb 146px,#00a9ce 147px,#00be8f 148px,#0bce68 149px,#d2f690 156px,#ebfb95 157px,#fdfb97 158px,#c8b177 162px,#976c58 167px,#8f6153 168px,#8b5c52 169px,#a17b73 178px,#ad8c85 190px,#af8e87 195.3px"></i><i style="--g:#fefefe,#f9f6f5 75px,#ede6e5 90px,#ddcfcc 106px,#c9b3af 114px,#ae8d86 120px,#8b5b51 125px,#9b725b 126px,#dcce83 129px,#f4f092 130px,#e8fa94 131px,#1fd26c 136px,#00c872 137px,#00aec0 138px,#0197fd 139px,#0f7ce2 140px,#1869cf 141px,#1d5ec4 142px,#1f5cc2 143px,#1b62c8 144px,#1570d6 145px,#0b84ea 146px,#009cf6 147px,#00afbc 148px,#00c47d 149px,#12d06a 150px,#bbf18b 156px,#edfb95 158px,#fcfa97 159px,#c9b277 163px,#996f59 168px,#8a5a50 170px,#9f7870 179px,#ab8881 191px,#ac8a82 195.3px"></i><i style="--g:#fefefe,#f9f6f6 75px,#e5dad8 101px,#d4c2be 111px,#bb9f9a 118px,#9e776f 123px,#8f6158 125px,#916454 126px,#d0bc7b 129px,#feff99 131px,#35d771 136px,#10cf69 137px,#00be91 138px,#00a5da 139px,#068df3 140px,#1274da 141px,#1a64ca 142px,#1e5dc3 143px,#1e5dc3 144px,#1a66cc 145px,#1275db 146px,#078bf1 147px,#00a1e7 148px,#00ca6d 150px,#18d16b 151px,#bdf28c 157px,#eefc96 159px,#fbfa97 160px,#cab478 164px,#9b735b 169px,#8d5e52 171px,#8f6057 173px,#a27b73 183px,#a9857e 195.3px"></i><i style="--g:#fefefe,#f9f6f6 75px,#e3d8d5 103px,#d2c0bc 112px,#b99c96 119px,#9b7269 124px,#8b5c52 126px,#9a715a 127px,#dacb82 130px,#f2ed91 131px,#edfb95 132px,#26d46e 137px,#03cd67 138px,#009df2 140px,#0b83e9 141px,#166ed4 142px,#1c61c7 143px,#1f5cc2 144px,#1d5fc5 145px,#1869cf 146px,#0491f7 148px,#00a5da 149px,#03cd67 151px,#bff28c 158px,#eefc96 160px,#fcfa97 161px,#ccb679 165px,#9e775d 170px,#8a5a50 173px,#9e766e 183px,#a58179 195.3px"></i><i style="--g:#fefefe,#f9f6f6 75px,#e3d7d5 104px,#d1beba 113px,#b69992 120px,#976d64 125px,#906259 126px,#906253 127px,#cdb97a 130px,#fcfa97 132px,#ddf892 133px,#3fd973 137px,#1ad16b 138px,#00c678 139px,#00adc2 140px,#09f 141px,#0d7fe5 142px,#166cd2 143px,#1b62c8 144px,#1d60c6 145px,#1a65cb 146px,#1471d7 147px,#009bfa 149px,#00acc6 150px,#00c08b 151px,#0ace68 152px,#c2f38d 159px,#f0fc96 161px,#fbfa97 162px,#c3aa73 167px,#9a705a 172px,#8d5e52 174px,#8e5f56 176px,#9e766e 186px,#a27c74 195.3px"></i><i style="--g:#fefefe,#f9f6f6 75px,#e2d6d4 105px,#d0bcb8 114px,#b4958f 121px,#946960 126px,#8d5e54 127px,#976c58 128px,#d5c47f 131px,#ece48d 132px,#f7fd97 133px,#35d771 138px,#13d06a 139px,#00c186 140px,#00aacb 141px,#0196fc 142px,#0d80e6 143px,#1470d6 144px,#1869cf 145px,#1869cf 146px,#1570d6 147px,#0491f7 149px,#00a3e1 150px,#00c871 152px,#14d06a 153px,#c6f48e 160px,#f2fc96 162px,#faf896 163px,#c3ab74 168px,#9c735b 173px,#8a5a50 176px,#9b7269 186px,#9f7870 195.3px"></i><i style="--g:#fefefe,#f9f6f6 75px,#e3d8d5 105px,#d1bfbb 114px,#b79a94 121px,#996f67 126px,#8b5b51 128px,#c6af76 131px,#f3ef92 133px,#ecfb95 134px,#2fd56f 139px,#0ecf69 140px,#00bf8c 141px,#0ac 142px,#09f 143px,#0a85eb 144px,#1079df 145px,#1373d9 146px,#1275db 147px,#0d7ee4 148px,#068df3 149px,#009ef0 150px,#00adc2 151px,#00bf8d 152px,#07cd67 153px,#cbf58f 161px,#f6fd97 163px,#f8f595 164px,#c3ab74 169px,#9d755c 174px,#8c5d51 177px,#8f6158 180px,#9c736a 191px,#9c746c 195.3px"></i><i style="--g:#fefefe,#f9f7f6 75px,#e4d9d7 105px,#d0bdb9 115px,#b69791 122px,#976c63 127px,#8f6158 128px,#916354 129px,#ccb879 132px,#f9f795 134px,#e3f993 135px,#4ddb75 139px,#0dcf69 141px,#00c08b 142px,#00acc5 143px,#009df2 144px,#058ff5 145px,#0a84ea 146px,#0c82e8 147px,#0a85eb 148px,#0590f6 149px,#009df3 150px,#00aacd 151px,#00cb6a 153px,#2cd56f 155px,#d2f690 162px,#fbfe98 164px,#f6f293 165px,#c3ab74 170px,#9f775d 175px,#8a5a50 179px,#986d64 189px,#9a7068 195.3px"></i><i style="--g:#fefefe,#f9f7f6 75px,#e5dad8 105px,#d2c0bc 115px,#b99c96 122px,#9c736b 127px,#8d5e54 129px,#966a57 130px,#e8de8a 134px,#fefe99 135px,#4bdb75 140px,#0ecf69 142px,#00c382 143px,#00b1b7 144px,#00a4df 145px,#009afb 146px,#0392f8 148px,#0198fe 149px,#009fec 150px,#00a9ce 151px,#00b6a7 152px,#00c679 153px,#0dcf69 154px,#d9f791 163px,#fefe99 165px,#cbb679 170px,#a68161 175px,#8c5c51 180px,#976c63 193px,#976d64 195.3px"></i><i style="--g:#fefefe,#f9f6f6 76px,#e6dcda 105px,#d4c3bf 115px,#bca19b 122px,#9a7068 128px,#8b5b51 130px,#ad8c66 132px,#ece48d 135px,#fafe98 136px,#4bdb75 141px,#11cf69 143px,#00c775 144px,#00b7a4 145px,#00abc8 146px,#00a4df 147px,#00a0ea 148px,#00a1e8 149px,#00a5dc 150px,#00acc5 151px,#00b7a6 152px,#00c47f 153px,#08ce68 154px,#dff993 164px,#f3fd97 165px,#fbfa97 166px,#cab578 171px,#a78262 176px,#8a5a50 182px,#946960 193px,#956960 195.3px"></i><i style="--g:#fefefe,#f9f7f6 76px,#e7dddb 105px,#d6c5c2 115px,#bfa5a0 122px,#9f786f 128px,#8c5d51 131px,#dacb82 135px,#f0e98f 136px,#f5fd97 137px,#6be17b 141px,#30d670 143px,#01cc66 145px,#00bf8d 146px,#00b5ac 147px,#00aebf 148px,#00acc7 149px,#00adc3 150px,#00b2b5 151px,#00ba9d 152px,#00c47d 153px,#06cd67 154px,#5d7 158px,#e6fa94 165px,#f9fe98 166px,#f8f595 167px,#c9b378 172px,#a27c5f 178px,#8c5d51 183px,#8c5d53 185px,#92665c 195.3px"></i><i style="--g:#fefefe,#f9f7f6 76px,#e7dddb 106px,#d5c4c1 116px,#bea39e 123px,#9d756d 129px,#8f6157 131px,#906354 132px,#ddd084 136px,#f3ed91 137px,#f1fc96 138px,#6ce27c 142px,#34d670 144px,#0ace68 146px,#00c774 147px,#00be8f 148px,#00b99f 149px,#00b8a3 150px,#00ba9d 151px,#00bf8d 152px,#00c775 153px,#07cd67 154px,#3ad872 157px,#edfb95 166px,#feff99 167px,#c9b277 173px,#a37d60 179px,#8c5d51 185px,#906259 195.3px"></i><i style="--g:#fefefe,#f9f7f6 76px,#e8dedc 106px,#d5c3c0 117px,#bda29c 124px,#9c736b 130px,#8d5f55 132px,#946856 133px,#e0d486 137px,#f5f193 138px,#edfb95 139px,#6ee27c 143px,#39d771 145px,#12d06a 147px,#05cd67 148px,#00c47d 150px,#00c47f 151px,#00c677 152px,#0c6 153px,#25d36d 156px,#96ea84 162px,#f3fd97 167px,#fcfb97 168px,#d0bc7b 173px,#aa8664 179px,#8f6153 186px,#8b5b51 189px,#8d5f55 195.3px"></i><i style="--g:#fefefe,#f9f7f6 76px,#e9dfdd 106px,#d6c6c2 117px,#c0a6a1 124px,#a17a72 130px,#8c5c52 133px,#976d58 134px,#f8f594 139px,#eafb95 140px,#70e27c 144px,#3fd973 146px,#1bd16b 148px,#07cd67 150px,#04cd67 152px,#0ecf69 154px,#33d670 157px,#f8fe98 168px,#faf896 169px,#cfbc7b 174px,#ab8965 180px,#936655 187px,#8a5a50 193px,#8b5b51 195.3px"></i><i style="--g:#fefefe,#f9f7f7 76px,#e9e0df 106px,#d8c8c5 117px,#bfa49f 125px,#9f7870 131px,#8a5a50 134px,#e6dc8a 139px,#faf896 140px,#e7fa94 141px,#72e37d 145px,#44da74 147px,#23d36d 149px,#12d06a 151px,#10cf69 153px,#25d36d 156px,#60df79 160px,#fbfe98 169px,#efe98f 171px,#c3aa73 177px,#a58161 183px,#936756 190px,#8f6153 195.3px"></i><i style="--g:#fefefe,#f9f7f7 76px,#eae1e0 106px,#d9cac7 117px,#c2a8a3 125px,#a47e76 131px,#906258 134px,#8e6053 135px,#e9e18c 140px,#fdfc98 141px,#c6f48e 143px,#73e37d 146px,#48da74 148px,#2bd56f 150px,#1bd16b 152px,#1bd16b 154px,#30d670 157px,#69e17b 161px,#fdff99 170px,#cbb578 177px,#ad8b66 183px,#9a715a 190px,#966b58 195.3px"></i><i style="--g:#fefefe,#faf7f7 76px,#ebe2e1 106px,#d9c9c6 118px,#c0a6a1 126px,#a27b73 132px,#8d5f55 135px,#936655 136px,#fdff99 142px,#8ce882 146px,#4bdb75 149px,#30d670 151px,#23d36d 153px,#23d36d 155px,#39d771 158px,#70e27c 162px,#fdff99 171px,#cdb97a 178px,#b19269 184px,#a17a5e 191px,#9e765c 195.3px"></i><i style="--g:#fefefe,#faf7f7 76px,#ebe3e1 106px,#dacbc8 118px,#c2aaa4 126px,#a68179 132px,#8b5c52 136px,#a98563 138px,#f1ec91 142px,#f7fd97 143px,#89e781 147px,#4ddb75 150px,#33d670 152px,#28d46e 154px,#2ed56f 157px,#4adb75 160px,#b1ef89 167px,#fafe98 172px,#faf896 173px,#d2bf7d 179px,#b79a6c 185px,#a88563 192px,#a78362 195.3px"></i><i style="--g:#fefefe,#faf7f7 76px,#ebe2e1 107px,#d9c9c6 119px,#c1a7a2 127px,#a37d76 133px,#906258 136px,#8e5f52 137px,#f7f494 143px,#effc96 144px,#85e781 148px,#4bdb75 151px,#34d670 153px,#29d46e 155px,#30d670 158px,#4cdb75 161px,#f5fd97 173px,#fefd98 174px,#d7c780 180px,#bfa471 186px,#b29269 193px,#b19168 195.3px"></i><i style="--g:#fefefe,#faf7f7 76px,#ebe3e1 107px,#dacbc7 119px,#c3aaa5 127px,#a07a72 134px,#8d5e54 137px,#946856 138px,#fdfc98 144px,#7fe57f 149px,#48da74 152px,#33d670 154px,#29d46e 156px,#31d670 159px,#4cdb75 162px,#f9fe98 175px,#fcfa97 176px,#daca82 182px,#c5ad75 188px,#bca16f 194px,#bca16f 195.3px"></i><i style="--g:#fefefe,#faf7f7 76px,#ece4e2 107px,#dbccc9 119px,#c5ada8 127px,#a47f77 134px,#8a5a50 138px,#f0ea90 144px,#fafe98 145px,#91e983 149px,#5d7 152px,#3bd872 154px,#2ad46e 157px,#32d670 160px,#58de78 164px,#e6fa94 175px,#fcfe98 177px,#f5f193 179px,#d9ca81 185px,#c9b377 192px,#c7b076 195.3px"></i><i style="--g:#fefefe,#faf7f7 76px,#ece4e3 107px,#dccdca 119px,#c3aaa5 128px,#a27b73 135px,#8e6057 138px,#906253 139px,#f5f193 145px,#f3fd97 146px,#8de882 150px,#5d7 153px,#34d670 156px,#2dd56f 159px,#3bd872 162px,#64e07a 166px,#dff993 176px,#fdff99 179px,#e1d586 186px,#d3c17e 193px,#d2c07d 195.3px"></i><i style="--g:#fefefe,#faf7f7 76px,#ece5e3 107px,#dbccc9 120px,#c1a8a3 129px,#9f7870 136px,#8c5d53 139px,#956957 140px,#f9f795 146px,#edfb95 147px,#8be882 151px,#5d7 154px,#36d771 157px,#30d670 160px,#3ed872 163px,#70e27c 168px,#d8f791 177px,#fdff99 181px,#e4d888 189px,#ddcf84 195.3px"></i><i style="--g:#fefefe,#faf7f7 76px,#ede5e4 107px,#dccecb 120px,#c4aba6 129px,#a37e76 136px,#8a5a50 140px,#fcfb97 147px,#e9fb95 148px,#8ae882 152px,#56dd77 155px,#3ad872 158px,#34d670 161px,#41d973 164px,#70e27c 169px,#d2f690 178px,#fbfe98 183px,#fefd98 184px,#eae28c 191px,#e7de8a 195.3px"></i><i style="--g:#fefefe,#faf7f7 76px,#ede6e5 107px,#ddcfcc 120px,#c6aea9 129px,#a7837b 136px,#8f6157 140px,#8e6053 141px,#ff9 148px,#9fec86 152px,#67e17b 155px,#44da74 158px,#38d771 161px,#3fd973 164px,#5cde78 168px,#d4f690 180px,#fdff99 186px,#f2ec91 194px,#f1ec91 195.3px"></i><i style="--g:#fefefe,#faf7f7 76px,#eee7e5 107px,#dccecb 121px,#c4aca7 130px,#a58079 137px,#8d5e55 141px,#926555 142px,#f1eb90 148px,#fcfe98 149px,#9fec86 153px,#6ae17b 156px,#49db75 159px,#3dd872 162px,#43d973 165px,#67e17b 170px,#cdf58f 181px,#f2fc96 187px,#fffe99 191px,#fbfa97 195.3px"></i><i style="--g:#fefefe,#faf7f7 76px,#eee7e6 107px,#ddd0cd 121px,#c7afab 130px,#a9867e 137px,#8c5c52 142px,#956a57 143px,#f3ed91 149px,#fafe98 150px,#a0ec86 154px,#6de27c 157px,#4edc76 160px,#42d973 163px,#48da74 166px,#69e17b 171px,#c6f48e 182px,#e7fa94 188px,#f5fd97 194px,#f6fd97 195.3px"></i><i style="--g:#fefefe,#faf7f7 76px,#eee7e5 108px,#ddcfcc 122px,#c5aea9 131px,#a7847c 138px,#8a5a50 143px,#f4ef92 150px,#f9fe98 151px,#a2ec86 155px,#71e37d 158px,#53dd77 161px,#48da74 164px,#51dc76 168px,#7be57f 174px,#c0f28c 183px,#e0f993 190px,#e7fa94 195.3px"></i><i style="--g:#fefefe,#faf8f7 76px,#eee8e6 108px,#ded0cd 122px,#c8b1ac 131px,#a6827a 139px,#8f6158 143px,#8d5e52 144px,#f5f093 151px,#f8fe98 152px,#a5ed87 156px,#76e47e 159px,#59de78 162px,#4edc76 165px,#5d7 169px,#82e680 176px,#bef28c 185px,#d7f791 192px,#d9f791 195.3px"></i><i style="--g:#fefefe,#faf8f7 76px,#efe8e7 108px,#dfd2cf 122px,#c7afab 132px,#a58078 140px,#8e5f56 144px,#8f6153 145px,#f5f193 152px,#f8fe98 153px,#a8ee88 157px,#7be57f 160px,#5fdf79 163px,#54dd77 166px,#59de78 170px,#81e680 177px,#b7f18b 186px,#cbf58f 193px,#ccf58f 195.3px"></i><i style="--g:#fefefe,#faf8f7 76px,#efe9e7 108px,#ded1ce 123px,#c5aea9 133px,#a37e76 141px,#8d5e54 145px,#926555 146px,#f5f193 153px,#f9fe98 154px,#abee88 158px,#80e680 161px,#65e07a 164px,#59de78 167px,#5ddf79 171px,#87e781 179px,#b0ef89 187px,#bff28c 194px,#c0f28c 195.3px"></i><i style="--g:#fefefe,#faf8f7 76px,#f0e9e8 108px,#dfd2cf 123px,#c8b1ac 133px,#a7837c 141px,#8c5c52 146px,#946856 147px,#f5f193 154px,#fafe98 155px,#afef89 159px,#85e781 162px,#6be17b 165px,#5edf79 169px,#68e17b 174px,#a8ee88 188px,#b4f08a 195.3px"></i><i style="--g:#fefefe,#faf8f7 76px,#f0eae9 108px,#e0d4d1 123px,#cab4af 133px,#ab8981 141px,#8b5b51 147px,#ccb779 152px,#f5f093 155px,#fbfe98 156px,#b3f08a 160px,#8be882 163px,#71e37d 166px,#63e07a 170px,#6be17b 175px,#a1ec86 189px,#a9ee88 195.3px"></i><i style="--g:#fefefe,#faf8f7 76px,#f0eae9 108px,#e1d5d2 123px,#ccb7b2 133px,#ae8d87 141px,#8b5b50 148px,#f4f092 156px,#fcfe98 157px,#b7f18b 161px,#86e781 165px,#6de27c 169px,#68e17b 173px,#7ae47e 180px,#9aeb85 190px,#9fec86 195.3px"></i><i style="--g:#fefefe,#faf8f7 76px,#f0eae9 109px,#e1d4d1 124px,#cbb5b1 134px,#ad8c85 142px,#8f6057 148px,#8d5e52 149px,#feff99 158px,#bbf18b 162px,#8be882 166px,#72e37d 170px,#6ce27c 175px,#94ea84 192px,#96ea84 195.3px"></i><i style="--g:#fffefe,#faf8f7 76px,#f0ebe9 109px,#e0d3d0 125px,#cab4af 135px,#a7847c 144px,#8e5f55 149px,#8e6053 150px,#ff9 159px,#bef28c 163px,#90e983 167px,#77e47e 171px,#6fe27c 176px,#8de882 193px,#8ee882 195.3px"></i><i style="--g:#fffefe,#faf8f7 76px,#f1ebea 109px,#e1d4d2 125px,#c9b2ae 136px,#a6827a 145px,#8d5e54 150px,#906354 151px,#fefe98 160px,#b4f08a 165px,#8ce882 169px,#77e47e 173px,#71e37d 178px,#86e781 194px,#87e781 195.3px"></i><i style="--g:#fffefe,#faf8f7 76px,#f1ebea 109px,#e2d6d3 125px,#cab5b0 136px,#aa877f 145px,#8c5c52 151px,#926655 152px,#fdfd98 161px,#acee88 167px,#89e781 171px,#75e37d 176px,#75e37d 183px,#80e680 195.3px"></i><i style="--g:#fffefe,#faf8f7 76px,#f1eceb 109px,#e1d5d2 126px,#c9b3af 137px,#a8857d 146px,#8b5b51 152px,#fdfc98 162px,#afef89 168px,#8ce882 172px,#77e47e 177px,#74e37d 185px,#7ae47e 195.3px"></i><i style="--g:#fffefe,#faf8f7 76px,#f2eceb 109px,#e2d6d3 126px,#cbb6b1 137px,#ab8982 146px,#8b5c51 153px,#fcfb97 163px,#e4fa94 165px,#b2f08a 169px,#89e781 174px,#77e47e 179px,#73e37d 188px,#75e37d 195.3px"></i><i style="--g:#fffefe,#faf8f7 76px,#f2eceb 109px,#e2d7d4 126px,#cdb8b4 137px,#ae8d86 146px,#8e5f55 153px,#8d5f52 154px,#fcfb97 164px,#f5fd97 165px,#b5f08a 170px,#8de882 175px,#77e47e 181px,#72e37d 193px,#72e37d 195.3px"></i><i style="--g:#fffefe,#faf8f7 76px,#f2edec 109px,#e3d8d5 126px,#cbb6b2 138px,#ad8b84 147px,#8d5e54 154px,#8f6253 155px,#fbfa97 165px,#f6fd97 166px,#b8f18b 171px,#90e983 176px,#79e47e 182px,#71e37d 193px,#71e37d 195.3px"></i><i style="--g:#fffefe,#faf8f7 76px,#f2edec 109px,#e2d6d4 127px,#cab5b0 139px,#a7837c 149px,#8c5c52 155px,#916555 156px,#faf896 166px,#f8fe98 167px,#bcf28c 172px,#94ea84 177px,#7ce57f 183px,#72e37d 193px,#72e37d 195.3px"></i><i style="--g:#fffefe,#faf8f7 76px,#f2edeb 110px,#e1d5d3 128px,#c9b3ae 140px,#a6827a 150px,#8b5b51 156px,#f9f795 167px,#fafe98 168px,#c0f28c 173px,#99eb85 178px,#80e680 184px,#75e37d 194px,#75e37d 195.3px"></i><i style="--g:#fffefe,#faf8f7 76px,#f2edec 110px,#e2d6d4 128px,#cab5b0 140px,#a9867e 150px,#8b5b50 157px,#efe88f 167px,#fdff99 169px,#c4f38d 174px,#9eec86 179px,#85e781 185px,#79e47e 194px,#79e47e 195.3px"></i><i style="--g:#fffefe,#faf8f7 76px,#f2edec 110px,#e3d7d5 128px,#ccb7b2 140px,#ac8982 150px,#8e5f55 157px,#8c5d51 158px,#eee78e 168px,#fefe99 170px,#c0f28c 176px,#9aeb85 182px,#84e680 189px,#7fe57f 195.3px"></i><i style="--g:#fffefe,#faf8f7 76px,#f2edec 110px,#e3d8d5 128px,#cdb9b4 140px,#aa8880 151px,#8d5e54 158px,#8e6052 159px,#ece48d 169px,#fcfb97 171px,#f8fe98 172px,#c6f48e 177px,#a0ec86 183px,#8be882 190px,#87e781 195.3px"></i><i style="--g:#fffefe,#faf8f7 77px,#f3edec 110px,#e2d7d4 129px,#ccb7b3 141px,#a9867f 152px,#8c5d53 159px,#8f6153 160px,#eae28c 170px,#faf896 172px,#fcfe98 173px,#c5f38d 179px,#a3ed87 185px,#92e983 192px,#91e983 195.3px"></i><i style="--g:#fffefe,#f9f7f7 85px,#f0eae8 115px,#dfd1cf 132px,#c6aea9 144px,#a07971 155px,#8b5c52 160px,#906354 161px,#e8df8b 171px,#fefd98 174px,#c5f38d 181px,#a8ee88 187px,#9ceb85 194px,#9beb85 195.3px"></i><i style="--g:#fffefe,#f9f7f6 86px,#efe9e8 116px,#ded0cd 133px,#c4aca7 145px,#9b726a 157px,#8b5b51 161px,#b5976b 166px,#f4ef92 174px,#fcfe98 176px,#cdf58f 182px,#b2f08a 188px,#a7ed87 195.3px"></i><i style="--g:#fefefe,#f9f7f6 87px,#efe8e7 117px,#ddcfcc 134px,#c3aba5 146px,#9a7169 158px,#8a5b51 162px,#e3d888 173px,#fdfc98 177px,#f2fc96 179px,#ccf58f 185px,#b6f08a 192px,#b4f08a 195.3px"></i><i style="--g:#fefefe,#f9f7f6 88px,#eee8e6 118px,#dccecb 135px,#c2a9a4 147px,#966b62 160px,#8a5a50 163px,#d9ca81 173px,#fefd98 179px,#d2f690 187px,#c2f38d 194px,#c2f38d 195.3px"></i><i style="--g:#fefefe,#f9f7f6 89px,#efe8e7 118px,#ddcfcc 135px,#c1a7a2 148px,#92655b 162px,#8a5a50 164px,#d6c580 174px,#fdfc98 181px,#daf892 189px,#d1f690 195.3px"></i><i style="--g:#fefefe,#f9f7f6 89px,#eee7e6 119px,#dccdca 136px,#c0a6a1 149px,#8a5a50 165px,#d3c17d 175px,#f7f494 182px,#ff9 184px,#e6fa94 190px,#e0f993 195.3px"></i><i style="--g:#fefefe,#f9f7f6 90px,#eee7e5 120px,#dbccc9 137px,#bfa49f 150px,#8a5a50 166px,#cfbb7b 176px,#f1ec91 183px,#fefe99 187px,#f0fc96 194px,#effc96 195.3px"></i><i style="--g:#fefefe,#f9f7f6 90px,#eee7e5 120px,#dccdca 137px,#c1a7a2 150px,#8b5b51 167px,#cbb679 177px,#ebe38d 184px,#fcfb97 191px,#ff9 195.3px"></i><i style="--g:#fefefe,#f9f6f6 91px,#ede6e5 121px,#dbccc9 138px,#bda29c 152px,#8b5b51 168px,#ccb779 179px,#e7de8a 186px,#f4f092 193px,#f5f193 195.3px"></i><i style="--g:#fefefe,#f9f6f6 91px,#eee6e5 121px,#dbcdca 138px,#bfa49f 152px,#8b5c52 169px,#8e5f52 170px,#c2a973 179px,#ddd084 186px,#eae18c 193px,#ebe38c 195.3px"></i><i style="--g:#fefefe,#f9f6f6 91px,#eee7e5 121px,#dbccc9 139px,#bea39e 153px,#8c5d53 170px,#8c5d51 171px,#bea370 180px,#d6c680 187px,#e1d486 194px,#e1d586 195.3px"></i><i style="--g:#fefefe,#f9f6f6 92px,#ede6e5 122px,#dacbc7 140px,#bb9e99 155px,#8a5a50 172px,#b99c6d 181px,#cfbb7b 188px,#d7c780 195.3px"></i><i style="--g:#fefefe,#f9f6f6 92px,#eee6e5 122px,#dbccc8 140px,#bca19b 155px,#8b5b51 173px,#bb9f6e 184px,#cbb578 191px,#cdb97a 195.3px"></i><i style="--g:#fefefe,#f9f6f6 93px,#ede6e4 123px,#dacbc7 141px,#bca09a 156px,#8b5b51 175px,#ae8d67 183px,#c0a672 190px,#c4ac74 195.3px"></i><i style="--g:#fefefe,#f9f6f6 93px,#ede6e5 123px,#dbccc8 141px,#bb9f99 157px,#8b5b51 176px,#ae8d67 186px,#ba9e6e 193px,#bb9f6e 195.3px"></i><i style="--g:#fefefe,#f9f6f6 93px,#ede5e4 124px,#dacbc7 142px,#bb9f99 158px,#8a5a50 178px,#a88463 187px,#b19169 194px,#b29269 195.3px"></i><i style="--g:#fefefe,#f9f6f6 94px,#ede6e4 124px,#d9cac6 143px,#b89b95 160px,#8a5a50 180px,#a17b5f 188px,#a98563 195.3px"></i><i style="--g:#fefefe,#f9f6f6 94px,#ede5e4 125px,#d8c9c5 144px,#b59791 162px,#8c5d53 181px,#8c5d51 183px,#9d755c 191px,#a0795e 195.3px"></i><i style="--g:#fefefe,#f9f6f5 95px,#ece5e3 126px,#d8c8c4 145px,#b3948d 164px,#8e6056 182px,#8a5a50 185px,#976c58 193px,#976d58 195.3px"></i><i style="--g:#fefefe,#f9f6f5 95px,#ede5e3 126px,#d9c9c6 145px,#b3948d 165px,#906359 183px,#8a5a50 189px,#8f6153 195.3px"></i><i style="--g:#fefefe,#f9f6f6 95px,#ede5e4 126px,#d8c8c5 146px,#af8e87 168px,#92665d 184px,#8b5c52 195.3px"></i><i style="--g:#fefefe,#f9f6f5 96px,#ece5e3 127px,#d8c7c4 147px,#976c64 183px,#8f6158 195.3px"></i><i style="--g:#fefefe,#f9f6f5 96px,#ede5e4 127px,#d8c9c5 147px,#9a7169 183px,#93665d 195.3px"></i><i style="--g:#fefefe,#f8f6f5 97px,#ece5e3 128px,#d7c6c3 149px,#9e766d 183px,#966b62 195.3px"></i><i style="--g:#fefefe,#f9f6f5 97px,#ece4e3 129px,#d6c5c2 150px,#a17a72 183px,#997067 195.3px"></i><i style="--g:#fefefe,#f8f6f5 98px,#ece4e2 130px,#d6c5c1 151px,#a47e77 183px,#9d746c 195.3px"></i><i style="--g:#fefefe,#f9f6f5 98px,#ece4e3 130px,#d6c5c1 152px,#a7837b 183px,#a07971 195.3px"></i><i style="--g:#fefefe,#f8f6f5 99px,#ece4e2 131px,#d5c4c0 153px,#a9857e 184px,#a37d75 195.3px"></i><i style="--g:#fefefe,#f8f6f5 99px,#ece4e3 131px,#d5c4c0 154px,#ab8982 184px,#a6817a 195.3px"></i><i style="--g:#fefefe,#f9f6f5 99px,#ece4e2 132px,#d5c3c0 155px,#ae8c85 184px,#a9857e 195.3px"></i><i style="--g:#fefefe,#f8f6f5 100px,#ebe3e1 133px,#d3c1bd 157px,#b09089 184px,#ab8982 195.3px"></i><i style="--g:#fefefe,#f8f6f5 100px,#ece4e2 133px,#d4c2bf 157px,#b2938c 184px,#ae8c85 195.3px"></i><i style="--g:#fefefe,#f8f6f5 101px,#ebe3e1 134px,#d2c0bc 159px,#b4958f 185px,#b09089 195.3px"></i><i style="--g:#fefefe,#f8f6f5 101px,#ebe3e2 134px,#d3c1be 159px,#b69892 185px,#b2938c 195.3px"></i><i style="--g:#fefefe,#f8f6f5 101px,#ebe3e1 135px,#d2bfbb 161px,#b89b94 185px,#b4968f 195.3px"></i><i style="--g:#fefefe,#f8f5f5 102px,#ebe3e1 135px,#d2bfbb 162px,#b99c96 186px,#b69892 195.3px"></i><i style="--g:#fefefe,#f8f5f5 102px,#ebe3e1 136px,#cfbbb7 165px,#ba9e98 187px,#b89b95 195.3px"></i><i style="--g:#fefefe,#f8f5f5 102px,#ebe3e1 136px,#cfbbb7 166px,#bba09a 188px,#ba9d97 195.3px"></i><i style="--g:#fefefe,#f8f5f5 102px,#ebe3e1 136px,#cfbbb7 167px,#bda29c 188px,#bba09a 195.3px"></i><i style="--g:#fefefe,#f8f5f5 103px,#ebe3e1 137px,#cbb5b0 172px,#bea39d 191px,#bda29c 195.3px"></i><i style="--g:#fefefe,#f8f5f5 103px,#eae2e0 138px,#c0a7a1 187px,#bea49e 195.3px"></i><i style="--g:#fefefe,#f8f5f5 103px,#ebe2e0 138px,#c2a9a3 187px,#c0a6a1 195.3px"></i><i style="--g:#fefefe,#f8f5f5 103px,#ebe2e1 138px,#c3aaa5 187px,#c1a8a3 195.3px"></i><i style="--g:#fefefe,#f8f5f4 104px,#eae2e0 139px,#c4aca7 187px,#c2aaa4 195.3px"></i><i style="--g:#fefefe,#f8f5f4 104px,#eae1df 140px,#c5aea9 187px,#c4aba6 195.3px"></i><i style="--g:#fefefe,#f8f5f4 104px,#eae1e0 140px,#c6afaa 187px,#c5ada8 195.3px"></i><i style="--g:#fefefe,#f8f5f4 104px,#eae2e0 140px,#c7b1ac 187px,#c6aeaa 195.3px"></i><i style="--g:#fefefe,#f8f5f4 105px,#eae1df 141px,#c8b2ad 187px,#c7b0ab 195.3px"></i><i style="--g:#fefefe,#f8f5f4 105px,#e9e0de 142px,#c9b3af 187px,#c8b1ad 195.3px"></i><i style="--g:#fefefe,#f8f5f4 105px,#e9e1df 142px,#cab5b0 187px,#c9b3ae 195.3px"></i><i style="--g:#fefefe,#f8f5f4 105px,#e9e0de 143px,#cbb6b2 187px,#cab4af 195.3px"></i><i style="--g:#fefefe,#f8f5f4 105px,#e9e0de 143px,#ccb7b3 187px,#cbb5b1 195.3px"></i><i style="--g:#fefefe,#f8f5f4 105px,#e9e0df 143px,#cdb8b4 187px,#ccb6b2 195.3px"></i><i style="--g:#fefefe,#f7f4f4 106px,#e9e0de 144px,#ceb9b5 187px,#ccb8b3 195.3px"></i><i style="--g:#fefefe,#f7f4f4 106px,#e8dfdd 145px,#cebab6 187px,#cdb9b4 195.3px"></i><i style="--g:#fefefe,#f7f4f4 106px,#e9dfdd 145px,#cfbbb7 187px,#cebab6 195.3px"></i><i style="--g:#fefefe,#f7f4f4 106px,#e8dfdd 146px,#d0bcb8 187px,#cfbbb7 195.3px"></i><i style="--g:#fefefe,#f7f4f4 106px,#e8dfdd 146px,#d0bdb9 187px,#cfbcb8 195.3px"></i><i style="--g:#fefefe,#f7f4f4 106px,#e8dfdd 146px,#d1beba 188px,#d0bdb9 195.3px"></i><i style="--g:#fefefe,#f7f4f4 106px,#e8dfdd 147px,#d2bfbb 188px,#d1beba 195.3px"></i><i style="--g:#fefefe,#f7f4f4 106px,#e8dfdd 147px,#d2c0bc 188px,#d1bfbb 195.3px"></i><i style="--g:#fefefe,#f7f4f4 106px,#e8dedc 148px,#d3c1bd 188px,#d2c0bc 195.3px"></i><i style="--g:#fefefe,#f7f4f4 106px,#e8dfdd 148px,#d3c2be 188px,#d3c0bd 195.3px"></i><i style="--g:#fefefe,#f7f4f4 106px,#e8dedc 149px,#d4c2bf 188px,#d3c1be 195.3px"></i><i style="--g:#fefefe,#f7f4f4 106px,#e8dedc 149px,#d4c3bf 189px,#d4c2be 195.3px"></i><i style="--g:#fefefe,#f7f4f4 106px,#e8dfdd 149px,#d5c4c0 189px,#d4c3bf 195.3px"></i><i style="--g:#fefefe,#f7f4f4 106px,#e8dedc 150px,#d6c5c1 189px,#d5c4c0 195.3px"></i><i style="--g:#fefefe,#f7f4f4 106px,#e7dedc 151px,#d6c5c2 189px,#d6c5c1 195.3px"></i><i style="--g:#fefefe,#f7f4f3 107px,#e7dddb 152px,#d7c6c3 190px,#d6c5c2 195.3px"></i><i style="--g:#fefefe,#f7f4f3 107px,#e7dddb 153px,#d7c7c3 190px,#d7c6c3 195.3px"></i><i style="--g:#fefefe,#f7f4f3 107px,#e7dddb 153px,#d8c8c4 190px,#d7c7c4 195.3px"></i><i style="--g:#fefefe,#f7f4f3 107px,#e7dddb 154px,#d8c8c5 191px,#d8c8c5 195.3px"></i><i style="--g:#fefefe,#f7f4f4 107px,#e6dcda 155px,#d9c9c6 191px,#d8c9c5 195.3px"></i><i style="--g:#fefefe,#f7f4f4 107px,#e7dddb 155px,#d9cac7 191px,#d9c9c6 195.3px"></i><i style="--g:#fefefe,#f7f4f4 107px,#e6dcda 156px,#dacac7 192px,#dacac7 195.3px"></i><i style="--g:#fefefe,#f7f4f4 107px,#e6dcda 157px,#dacbc8 192px,#dacbc8 195.3px"></i><i style="--g:#fefefe,#f7f4f3 108px,#e6dbd9 159px,#dbccc9 193px,#dbccc9 195.3px"></i><i style="--g:#fefefe,#f7f4f3 108px,#e6dbd9 160px,#dbcdca 194px,#dbcdca 195.3px"></i><i style="--g:#fefefe,#f7f4f4 108px,#e5dbd9 161px,#dccdca 195.3px"></i><i style="--g:#fefefe,#f7f4f4 108px,#e5dad8 163px,#dccecb 195.3px"></i><i style="--g:#fefefe,#f7f4f3 109px,#e4d8d6 167px,#ddcfcc 195.3px"></i><i style="--g:#fefefe,#f7f4f3 109px,#e3d7d5 170px,#ded0cd 195.3px"></i><i style="--g:#fefefe,#f7f4f4 109px,#ded1ce 193px,#ded1ce 195.3px"></i><i style="--g:#fefefe,#f7f4f4 109px,#dfd2cf 193px,#dfd2cf 195.3px"></i><i style="--g:#fefefe,#f7f4f4 110px,#dfd2d0 193px,#dfd2d0 195.3px"></i></div>
<canvas id="hm" width="392" height="393"></canvas>
<svg width="1000" height="966" viewBox="0 0 1000 966" style="font-family:'Liberation Sans',sans-serif">
<clipPath id="clipA"><rect x="89.6" y="13.8" width="392.4" height="392.8"/></clipPath>
<path d="M140.6,2.9 141.6,7 142.6,11.1 143.5,15.2 144.5,19.3 145.5,23.3 146.4,27.3 147.4,31.3 148.4,35.2 149.4,39.1 150.3,43 151.3,46.9 152.3,50.7 153.2,54.5 154.2,58.3 155.2,62.1 156.2,65.8 157.1,69.5 158.1,73.1 159.1,76.8 160,80.4 161,84 162,87.5 162.9,91.1 163.9,94.6 164.9,98 165.9,101.5 166.8,104.9 167.8,108.3 168.8,111.7 169.7,115 170.7,118.3 171.7,121.6 172.7,124.8 173.6,128 174.6,131.2 175.6,134.4 176.5,137.6 177.5,140.7 178.5,143.8 179.5,146.8 180.4,149.8 181.4,152.8 182.4,155.8 183.3,158.8 184.3,161.7 185.3,164.6 186.3,167.4 187.2,170.3 188.2,173.1 189.2,175.8 190.1,178.6 191.1,181.3 192.1,184 193.1,186.7 194,189.3 195,191.9 196,194.5 196.9,197.1 197.9,199.6 198.9,202.1 199.9,204.6 200.8,207 201.8,209.4 202.8,211.8 203.7,214.2 204.7,216.5 205.7,218.8 206.7,221.1 207.6,223.4 208.6,225.6 209.6,227.8 210.5,230 211.5,232.1 212.5,234.2 213.4,236.3 214.4,238.3 215.4,240.4 216.4,242.4 217.3,244.3 218.3,246.3 219.3,248.2 220.2,250.1 221.2,252 222.2,253.8 223.2,255.6 224.1,257.4 225.1,259.1 226.1,260.9 227,262.5 228,264.2 229,265.9 230,267.5 230.9,269.1 231.9,270.6 232.9,272.1 233.8,273.6 234.8,275.1 235.8,276.6 236.8,278 237.7,279.4 238.7,280.7 239.7,282.1 240.6,283.4 241.6,284.6 242.6,285.9 243.6,287.1 244.5,288.3 245.5,289.5 246.5,290.6 247.4,291.7 248.4,292.8 249.4,293.9 250.4,294.9 251.3,295.9 252.3,296.9 253.3,297.8 254.2,298.7 255.2,299.6 256.2,300.5 257.2,301.3 258.1,302.1 259.1,302.9 260.1,303.6 261,304.4 262,305.1 263,305.7 263.9,306.4 264.9,307 265.9,307.6 266.9,308.1 267.8,308.7 268.8,309.2 269.8,309.6 270.7,310.1 271.7,310.5 272.7,310.9 273.7,311.2 274.6,311.6 275.6,311.9 276.6,312.2 277.5,312.4 278.5,312.6 279.5,312.8 280.5,313 281.4,313.1 282.4,313.2 283.4,313.3 284.3,313.4 285.3,313.4 286.3,313.4 287.3,313.4 288.2,313.3 289.2,313.2 290.2,313.1 291.1,313 292.1,312.8 293.1,312.6 294.1,312.4 295,312.2 296,311.9 297,311.6 297.9,311.2 298.9,310.9 299.9,310.5 300.9,310.1 301.8,309.6 302.8,309.2 303.8,308.7 304.7,308.1 305.7,307.6 306.7,307 307.7,306.4 308.6,305.7 309.6,305.1 310.6,304.4 311.5,303.6 312.5,302.9 313.5,302.1 314.4,301.3 315.4,300.5 316.4,299.6 317.4,298.7 318.3,297.8 319.3,296.9 320.3,295.9 321.2,294.9 322.2,293.9 323.2,292.8 324.2,291.7 325.1,290.6 326.1,289.5 327.1,288.3 328,287.1 329,285.9 330,284.6 331,283.4 331.9,282.1 332.9,280.7 333.9,279.4 334.8,278 335.8,276.6 336.8,275.1 337.8,273.6 338.7,272.1 339.7,270.6 340.7,269.1 341.6,267.5 342.6,265.9 343.6,264.2 344.6,262.5 345.5,260.9 346.5,259.1 347.5,257.4 348.4,255.6 349.4,253.8 350.4,252 351.4,250.1 352.3,248.2 353.3,246.3 354.3,244.3 355.2,242.4 356.2,240.4 357.2,238.3 358.2,236.3 359.1,234.2 360.1,232.1 361.1,230 362,227.8 363,225.6 364,223.4 364.9,221.1 365.9,218.8 366.9,216.5 367.9,214.2 368.8,211.8 369.8,209.4 370.8,207 371.7,204.6 372.7,202.1 373.7,199.6 374.7,197.1 375.6,194.5 376.6,191.9 377.6,189.3 378.5,186.7 379.5,184 380.5,181.3 381.5,178.6 382.4,175.8 383.4,173.1 384.4,170.3 385.3,167.4 386.3,164.6 387.3,161.7 388.3,158.8 389.2,155.8 390.2,152.8 391.2,149.8 392.1,146.8 393.1,143.8 394.1,140.7 395.1,137.6 396,134.4 397,131.2 398,128 398.9,124.8 399.9,121.6 400.9,118.3 401.9,115 402.8,111.7 403.8,108.3 404.8,104.9 405.7,101.5 406.7,98 407.7,94.6 408.7,91.1 409.6,87.5 410.6,84 411.6,80.4 412.5,76.8 413.5,73.1 414.5,69.5 415.4,65.8 416.4,62.1 417.4,58.3 418.4,54.5 419.3,50.7 420.3,46.9 421.3,43 422.2,39.1 423.2,35.2 424.2,31.3 425.2,27.3 426.1,23.3 427.1,19.3 428.1,15.2 429,11.1 430,7 431,2.9" fill="none" stroke="#000" stroke-width="1.9" clip-path="url(#clipA)"/>
<line x1="89.6" y1="210.2" x2="482.0" y2="210.2" stroke="#000" stroke-width="1.6" stroke-dasharray="4.6 6.6"/>
<rect x="358.4" y="92.4" width="22.0" height="235.9" fill="none" stroke="#ff3333" stroke-width="2.9" stroke-dasharray="5.8 5.2"/>
<rect x="89.6" y="13.8" width="392.4" height="392.8" fill="none" stroke="#000" stroke-width="1.6"/>
<line x1="128.84" y1="406.6" x2="128.84" y2="394.6" stroke="#000" stroke-width="1.6"/>
<line x1="128.84" y1="13.8" x2="128.84" y2="25.8" stroke="#000" stroke-width="1.6"/>
<line x1="207.32" y1="406.6" x2="207.32" y2="394.6" stroke="#000" stroke-width="1.6"/>
<line x1="207.32" y1="13.8" x2="207.32" y2="25.8" stroke="#000" stroke-width="1.6"/>
<line x1="285.8" y1="406.6" x2="285.8" y2="394.6" stroke="#000" stroke-width="1.6"/>
<line x1="285.8" y1="13.8" x2="285.8" y2="25.8" stroke="#000" stroke-width="1.6"/>
<line x1="364.28" y1="406.6" x2="364.28" y2="394.6" stroke="#000" stroke-width="1.6"/>
<line x1="364.28" y1="13.8" x2="364.28" y2="25.8" stroke="#000" stroke-width="1.6"/>
<line x1="442.76" y1="406.6" x2="442.76" y2="394.6" stroke="#000" stroke-width="1.6"/>
<line x1="442.76" y1="13.8" x2="442.76" y2="25.8" stroke="#000" stroke-width="1.6"/>
<line x1="168.08" y1="406.6" x2="168.08" y2="399.6" stroke="#000" stroke-width="1.6"/>
<line x1="168.08" y1="13.8" x2="168.08" y2="20.8" stroke="#000" stroke-width="1.6"/>
<line x1="246.56" y1="406.6" x2="246.56" y2="399.6" stroke="#000" stroke-width="1.6"/>
<line x1="246.56" y1="13.8" x2="246.56" y2="20.8" stroke="#000" stroke-width="1.6"/>
<line x1="325.04" y1="406.6" x2="325.04" y2="399.6" stroke="#000" stroke-width="1.6"/>
<line x1="325.04" y1="13.8" x2="325.04" y2="20.8" stroke="#000" stroke-width="1.6"/>
<line x1="403.52" y1="406.6" x2="403.52" y2="399.6" stroke="#000" stroke-width="1.6"/>
<line x1="403.52" y1="13.8" x2="403.52" y2="20.8" stroke="#000" stroke-width="1.6"/>
<line x1="89.6" y1="308.4" x2="101.6" y2="308.4" stroke="#000" stroke-width="1.6"/>
<line x1="482" y1="308.4" x2="470" y2="308.4" stroke="#000" stroke-width="1.6"/>
<line x1="89.6" y1="210.2" x2="101.6" y2="210.2" stroke="#000" stroke-width="1.6"/>
<line x1="482" y1="210.2" x2="470" y2="210.2" stroke="#000" stroke-width="1.6"/>
<line x1="89.6" y1="112" x2="101.6" y2="112" stroke="#000" stroke-width="1.6"/>
<line x1="482" y1="112" x2="470" y2="112" stroke="#000" stroke-width="1.6"/>
<line x1="89.6" y1="357.5" x2="96.6" y2="357.5" stroke="#000" stroke-width="1.6"/>
<line x1="482" y1="357.5" x2="475" y2="357.5" stroke="#000" stroke-width="1.6"/>
<line x1="89.6" y1="259.3" x2="96.6" y2="259.3" stroke="#000" stroke-width="1.6"/>
<line x1="482" y1="259.3" x2="475" y2="259.3" stroke="#000" stroke-width="1.6"/>
<line x1="89.6" y1="161.1" x2="96.6" y2="161.1" stroke="#000" stroke-width="1.6"/>
<line x1="482" y1="161.1" x2="475" y2="161.1" stroke="#000" stroke-width="1.6"/>
<line x1="89.6" y1="62.9" x2="96.6" y2="62.9" stroke="#000" stroke-width="1.6"/>
<line x1="482" y1="62.9" x2="475" y2="62.9" stroke="#000" stroke-width="1.6"/>
<text transform="translate(83.4,22.9) scale(0.9375,1)" font-size="28.8" text-anchor="end">100</text>
<text transform="translate(83.4,121.1) scale(0.9375,1)" font-size="28.8" text-anchor="end">50</text>
<text transform="translate(83.4,219.8) scale(0.9375,1)" font-size="28.8" text-anchor="end">0</text>
<text transform="translate(83.4,318) scale(0.9375,1)" font-size="28.8" text-anchor="end">-50</text>
<text transform="translate(81.8,413.4) scale(0.9375,1)" font-size="28.8" text-anchor="end">-100</text>
<text transform="translate(128.84,439.4) scale(0.9375,1)" font-size="28.8" text-anchor="middle">-0.4</text>
<text transform="translate(207.32,439.4) scale(0.9375,1)" font-size="28.8" text-anchor="middle">-0.2</text>
<text transform="translate(285.8,439.4) scale(0.9375,1)" font-size="28.8" text-anchor="middle">0.0</text>
<text transform="translate(364.28,439.4) scale(0.9375,1)" font-size="28.8" text-anchor="middle">0.2</text>
<text transform="translate(442.76,439.4) scale(0.9375,1)" font-size="28.8" text-anchor="middle">0.4</text>
<text x="286.1" y="469" font-size="27.7" text-anchor="middle" >Momentum (1/Å)</text>
<text transform="translate(31,209.3) rotate(-90)" font-size="27.9" text-anchor="middle">E-E<tspan font-size="18.5" dy="7">F</tspan><tspan dy="-7">(meV)</tspan></text>
<text x="-0.2" y="22.6" font-size="28.5" text-anchor="start" >(a)</text>
<linearGradient id="cbg" x1="0" y1="0" x2="0" y2="1"><stop offset="0" stop-color="#333399"/><stop offset="0.078" stop-color="#0099ff"/><stop offset="0.14" stop-color="#00cc66"/><stop offset="0.40" stop-color="#ffff99"/><stop offset="0.59" stop-color="#8a5a50"/><stop offset="1" stop-color="#ffffff"/></linearGradient>
<rect x="493.2" y="331.8" width="13.1" height="56.2" fill="url(#cbg)" stroke="#000" stroke-width="1.6"/>
<text x="483.5" y="325.6" font-size="15" text-anchor="start" textLength="32" lengthAdjust="spacingAndGlyphs">High</text>
<text x="485.8" y="404.2" font-size="16" text-anchor="start" >Low</text>
<clipPath id="clipB"><rect x="592.0" y="12.6" width="394" height="875.2"/></clipPath>
<g clip-path="url(#clipB)"><path d="M592,162.6 592,160.2 595.3,160.1 598.5,160.1 601.8,160 605,159.9 608.3,159.9 611.5,159.8 614.8,159.7 618,159.6 621.3,159.6 624.6,159.5 627.8,159.4 631.1,159.3 634.3,159.2 637.6,159.1 640.8,159 644.1,158.8 647.3,158.7 650.6,158.6 653.9,158.5 657.1,158.3 660.4,158.2 663.6,158 666.9,157.9 670.1,157.7 673.4,157.5 676.6,157.3 679.9,157.1 683.2,156.9 686.4,156.7 689.7,156.5 692.9,156.2 696.2,155.9 699.4,155.7 702.7,155.4 705.9,155 709.2,154.7 712.5,154.3 715.7,153.9 719,153.5 722.2,153.1 725.5,152.6 728.7,152.1 732,151.5 735.2,150.9 738.5,150.3 741.8,149.6 745,148.8 748.3,148 751.5,147.1 754.8,146.1 758,145 761.3,143.8 764.5,142.5 767.8,141.1 771.1,139.5 774.3,137.8 777.6,135.9 780.8,133.7 784.1,131.3 787.3,128.7 790.6,125.7 793.9,122.4 797.1,118.7 800.4,114.6 803.6,110 806.9,104.8 810.1,99.1 813.4,92.8 816.6,85.9 819.9,78.4 823.2,70.5 826.4,62.3 829.7,54.1 832.9,46.3 836.2,39.4 839.4,33.8 842.7,30.2 845.9,28.7 849.2,29.7 852.5,32.9 855.7,38.1 859,44.8 862.2,52.5 865.5,60.6 868.7,68.8 872,76.8 875.2,84.4 878.5,91.4 881.8,97.9 885,103.7 888.3,109 891.5,113.7 894.8,117.9 898,121.7 901.3,125.1 904.5,128.1 907.8,130.8 911.1,133.2 914.3,135.4 917.6,137.4 920.8,139.2 924.1,140.8 927.3,142.2 930.6,143.6 933.8,144.8 937.1,145.9 940.4,146.9 943.6,147.8 946.9,148.6 950.1,149.4 953.4,150.1 956.6,150.8 959.9,151.4 963.1,152 966.4,152.5 969.7,153 972.9,153.4 976.2,153.9 979.4,154.3 982.7,154.6 985.9,155 985.9,162.6Z" fill="#ffbfbf"/><path d="M592,162.6 592,161.9 595.3,161.8 598.5,161.8 601.8,161.8 605,161.7 608.3,161.7 611.5,161.6 614.8,161.6 618,161.5 621.3,161.4 624.6,161.4 627.8,161.3 631.1,161.2 634.3,161.2 637.6,161.1 640.8,161 644.1,160.9 647.3,160.7 650.6,160.6 653.9,160.5 657.1,160.3 660.4,160.1 663.6,159.9 666.9,159.7 670.1,159.5 673.4,159.2 676.6,158.9 679.9,158.5 683.2,158.2 686.4,157.7 689.7,157.3 692.9,156.7 696.2,156.2 699.4,155.5 702.7,154.8 705.9,154.1 709.2,153.3 712.5,152.5 715.7,151.8 719,151.1 722.2,150.5 725.5,150.1 728.7,149.9 732,150 735.2,150.2 738.5,150.6 741.8,151.2 745,151.9 748.3,152.7 751.5,153.5 754.8,154.3 758,155 761.3,155.7 764.5,156.3 767.8,156.9 771.1,157.4 774.3,157.8 777.6,158.3 780.8,158.6 784.1,159 787.3,159.2 790.6,159.5 793.9,159.8 797.1,160 800.4,160.2 803.6,160.3 806.9,160.5 810.1,160.6 813.4,160.8 816.6,160.9 819.9,161 823.2,161.1 826.4,161.2 829.7,161.3 832.9,161.3 836.2,161.4 839.4,161.5 842.7,161.5 845.9,161.6 849.2,161.6 852.5,161.7 855.7,161.7 859,161.8 862.2,161.8 865.5,161.8 868.7,161.9 872,161.9 875.2,161.9 878.5,162 881.8,162 885,162 888.3,162 891.5,162.1 894.8,162.1 898,162.1 901.3,162.1 904.5,162.1 907.8,162.1 911.1,162.2 914.3,162.2 917.6,162.2 920.8,162.2 924.1,162.2 927.3,162.2 930.6,162.2 933.8,162.2 937.1,162.3 940.4,162.3 943.6,162.3 946.9,162.3 950.1,162.3 953.4,162.3 956.6,162.3 959.9,162.3 963.1,162.3 966.4,162.3 969.7,162.3 972.9,162.4 976.2,162.4 979.4,162.4 982.7,162.4 985.9,162.4 985.9,162.6Z" fill="#c0bfff"/><path d="M592,156.6 595.3,156.5 598.5,156.4 601.8,156.3 605,156.2 608.3,156 611.5,155.9 614.8,155.8 618,155.6 621.3,155.5 624.6,155.4 627.8,155.2 631.1,155 634.3,154.8 637.6,154.6 640.8,154.4 644.1,154.2 647.3,154 650.6,153.7 653.9,153.4 657.1,153.1 660.4,152.8 663.6,152.5 666.9,152.1 670.1,151.7 673.4,151.2 676.6,150.7 679.9,150.2 683.2,149.6 686.4,148.9 689.7,148.2 692.9,147.5 696.2,146.6 699.4,145.7 702.7,144.7 705.9,143.6 709.2,142.5 712.5,141.4 715.7,140.2 719,139.1 722.2,138.1 725.5,137.2 728.7,136.5 732,136 735.2,135.6 738.5,135.4 741.8,135.3 745,135.2 748.3,135.2 751.5,135.1 754.8,134.8 758,134.5 761.3,134 764.5,133.3 767.8,132.5 771.1,131.4 774.3,130.1 777.6,128.6 780.8,126.8 784.1,124.8 787.3,122.4 790.6,119.7 793.9,116.7 797.1,113.2 800.4,109.3 803.6,104.8 806.9,99.8 810.1,94.2 813.4,88.1 816.6,81.3 819.9,73.9 823.2,66.1 826.4,58 829.7,49.9 832.9,42.1 836.2,35.3 839.4,29.8 842.7,26.2 845.9,24.8 849.2,25.8 852.5,29.1 855.7,34.3 859,41.1 862.2,48.8 865.5,56.9 868.7,65.2 872,73.2 875.2,80.8 878.5,87.9 881.8,94.3 885,100.2 888.3,105.5 891.5,110.2 894.8,114.5 898,118.3 901.3,121.7 904.5,124.7 907.8,127.5 911.1,129.9 914.3,132.1 917.6,134.1 920.8,135.9 924.1,137.5 927.3,139 930.6,140.3 933.8,141.5 937.1,142.6 940.4,143.6 943.6,144.6 946.9,145.4 950.1,146.2 953.4,146.9 956.6,147.6 959.9,148.2 963.1,148.8 966.4,149.3 969.7,149.8 972.9,150.3 976.2,150.7 979.4,151.1 982.7,151.5 985.9,151.8" fill="none" stroke="#000" stroke-width="3" stroke-linejoin="round"/><path d="M592,234.1 592,231.6 595.3,231.5 598.5,231.5 601.8,231.4 605,231.3 608.3,231.2 611.5,231.2 614.8,231.1 618,231 621.3,230.9 624.6,230.8 627.8,230.7 631.1,230.6 634.3,230.5 637.6,230.4 640.8,230.3 644.1,230.1 647.3,230 650.6,229.9 653.9,229.7 657.1,229.6 660.4,229.4 663.6,229.2 666.9,229 670.1,228.9 673.4,228.7 676.6,228.4 679.9,228.2 683.2,228 686.4,227.7 689.7,227.5 692.9,227.2 696.2,226.9 699.4,226.6 702.7,226.2 705.9,225.9 709.2,225.5 712.5,225 715.7,224.6 719,224.1 722.2,223.6 725.5,223 728.7,222.4 732,221.8 735.2,221 738.5,220.3 741.8,219.4 745,218.5 748.3,217.5 751.5,216.4 754.8,215.2 758,213.9 761.3,212.4 764.5,210.8 767.8,209 771.1,207.1 774.3,204.9 777.6,202.5 780.8,199.7 784.1,196.7 787.3,193.3 790.6,189.5 793.9,185.3 797.1,180.5 800.4,175.3 803.6,169.4 806.9,163 810.1,156 813.4,148.5 816.6,140.7 819.9,132.6 823.2,124.8 826.4,117.5 829.7,111.3 832.9,106.7 836.2,104.1 839.4,103.8 842.7,105.7 845.9,109.8 849.2,115.6 852.5,122.7 855.7,130.4 859,138.4 862.2,146.3 865.5,154 868.7,161.1 872,167.7 875.2,173.7 878.5,179.1 881.8,184 885,188.4 888.3,192.3 891.5,195.8 894.8,198.9 898,201.7 901.3,204.2 904.5,206.5 907.8,208.5 911.1,210.3 914.3,212 917.6,213.5 920.8,214.8 924.1,216.1 927.3,217.2 930.6,218.2 933.8,219.2 937.1,220 940.4,220.8 943.6,221.6 946.9,222.2 950.1,222.9 953.4,223.4 956.6,224 959.9,224.5 963.1,224.9 966.4,225.3 969.7,225.7 972.9,226.1 976.2,226.5 979.4,226.8 982.7,227.1 985.9,227.4 985.9,234.1Z" fill="#ffbfbf"/><path d="M592,234.1 592,233.1 595.3,233.1 598.5,233.1 601.8,233 605,233 608.3,232.9 611.5,232.8 614.8,232.8 618,232.7 621.3,232.6 624.6,232.6 627.8,232.5 631.1,232.4 634.3,232.3 637.6,232.2 640.8,232.1 644.1,232 647.3,231.8 650.6,231.7 653.9,231.5 657.1,231.3 660.4,231.1 663.6,230.9 666.9,230.7 670.1,230.4 673.4,230.1 676.6,229.8 679.9,229.4 683.2,229 686.4,228.6 689.7,228.1 692.9,227.5 696.2,226.9 699.4,226.1 702.7,225.4 705.9,224.5 709.2,223.5 712.5,222.5 715.7,221.5 719,220.3 722.2,219.3 725.5,218.2 728.7,217.3 732,216.6 735.2,216.2 738.5,216.1 741.8,216.3 745,216.8 748.3,217.6 751.5,218.5 754.8,219.6 758,220.7 761.3,221.8 764.5,222.8 767.8,223.8 771.1,224.7 774.3,225.6 777.6,226.4 780.8,227 784.1,227.7 787.3,228.2 790.6,228.7 793.9,229.1 797.1,229.5 800.4,229.9 803.6,230.2 806.9,230.5 810.1,230.8 813.4,231 816.6,231.2 819.9,231.4 823.2,231.6 826.4,231.7 829.7,231.9 832.9,232 836.2,232.1 839.4,232.2 842.7,232.3 845.9,232.4 849.2,232.5 852.5,232.6 855.7,232.7 859,232.7 862.2,232.8 865.5,232.9 868.7,232.9 872,233 875.2,233 878.5,233.1 881.8,233.1 885,233.2 888.3,233.2 891.5,233.2 894.8,233.3 898,233.3 901.3,233.3 904.5,233.3 907.8,233.4 911.1,233.4 914.3,233.4 917.6,233.4 920.8,233.5 924.1,233.5 927.3,233.5 930.6,233.5 933.8,233.5 937.1,233.6 940.4,233.6 943.6,233.6 946.9,233.6 950.1,233.6 953.4,233.6 956.6,233.6 959.9,233.7 963.1,233.7 966.4,233.7 969.7,233.7 972.9,233.7 976.2,233.7 979.4,233.7 982.7,233.7 985.9,233.7 985.9,234.1Z" fill="#c0bfff"/><path d="M592,227.8 595.3,227.6 598.5,227.5 601.8,227.4 605,227.3 608.3,227.2 611.5,227 614.8,226.9 618,226.7 621.3,226.6 624.6,226.4 627.8,226.2 631.1,226 634.3,225.8 637.6,225.6 640.8,225.4 644.1,225.1 647.3,224.8 650.6,224.6 653.9,224.2 657.1,223.9 660.4,223.6 663.6,223.2 666.9,222.8 670.1,222.3 673.4,221.8 676.6,221.3 679.9,220.7 683.2,220 686.4,219.3 689.7,218.6 692.9,217.7 696.2,216.8 699.4,215.7 702.7,214.6 705.9,213.4 709.2,212 712.5,210.6 715.7,209.1 719,207.5 722.2,205.9 725.5,204.3 728.7,202.8 732,201.4 735.2,200.3 738.5,199.4 741.8,198.8 745,198.3 748.3,198.1 751.5,197.9 754.8,197.8 758,197.6 761.3,197.2 764.5,196.7 767.8,195.9 771.1,194.8 774.3,193.5 777.6,191.8 780.8,189.8 784.1,187.4 787.3,184.5 790.6,181.2 793.9,177.4 797.1,173.1 800.4,168.2 803.6,162.7 806.9,156.5 810.1,149.8 813.4,142.5 816.6,134.9 819.9,127 823.2,119.4 826.4,112.2 829.7,106.2 832.9,101.7 836.2,99.2 839.4,99 842.7,101.1 845.9,105.3 849.2,111.2 852.5,118.3 855.7,126.1 859,134.2 862.2,142.2 865.5,149.8 868.7,157 872,163.7 875.2,169.7 878.5,175.2 881.8,180.1 885,184.5 888.3,188.5 891.5,192 894.8,195.2 898,198 901.3,200.6 904.5,202.9 907.8,204.9 911.1,206.8 914.3,208.4 917.6,210 920.8,211.3 924.1,212.6 927.3,213.7 930.6,214.8 933.8,215.7 937.1,216.6 940.4,217.4 943.6,218.2 946.9,218.9 950.1,219.5 953.4,220.1 956.6,220.6 959.9,221.1 963.1,221.6 966.4,222 969.7,222.5 972.9,222.8 976.2,223.2 979.4,223.5 982.7,223.9 985.9,224.2" fill="none" stroke="#000" stroke-width="3" stroke-linejoin="round"/><path d="M592,305.6 592,303.1 595.3,303 598.5,302.9 601.8,302.8 605,302.8 608.3,302.7 611.5,302.6 614.8,302.5 618,302.4 621.3,302.3 624.6,302.2 627.8,302.1 631.1,302 634.3,301.9 637.6,301.8 640.8,301.7 644.1,301.5 647.3,301.4 650.6,301.2 653.9,301.1 657.1,300.9 660.4,300.8 663.6,300.6 666.9,300.4 670.1,300.2 673.4,300 676.6,299.7 679.9,299.5 683.2,299.2 686.4,299 689.7,298.7 692.9,298.4 696.2,298 699.4,297.7 702.7,297.3 705.9,296.9 709.2,296.5 712.5,296 715.7,295.5 719,295 722.2,294.4 725.5,293.8 728.7,293.1 732,292.3 735.2,291.5 738.5,290.6 741.8,289.7 745,288.6 748.3,287.5 751.5,286.2 754.8,284.8 758,283.2 761.3,281.5 764.5,279.6 767.8,277.5 771.1,275.2 774.3,272.5 777.6,269.6 780.8,266.3 784.1,262.7 787.3,258.6 790.6,254 793.9,248.9 797.1,243.3 800.4,237.1 803.6,230.4 806.9,223.2 810.1,215.7 813.4,208.1 816.6,200.7 819.9,193.9 823.2,188.2 826.4,184 829.7,181.9 832.9,181.9 836.2,184.1 839.4,188.2 842.7,193.9 845.9,200.7 849.2,208.1 852.5,215.8 855.7,223.3 859,230.5 862.2,237.2 865.5,243.3 868.7,249 872,254 875.2,258.6 878.5,262.7 881.8,266.4 885,269.6 888.3,272.6 891.5,275.2 894.8,277.5 898,279.6 901.3,281.5 904.5,283.2 907.8,284.8 911.1,286.2 914.3,287.5 917.6,288.6 920.8,289.7 924.1,290.6 927.3,291.5 930.6,292.3 933.8,293.1 937.1,293.8 940.4,294.4 943.6,295 946.9,295.5 950.1,296 953.4,296.5 956.6,296.9 959.9,297.3 963.1,297.7 966.4,298 969.7,298.4 972.9,298.7 976.2,299 979.4,299.2 982.7,299.5 985.9,299.7 985.9,305.6Z" fill="#ffbfbf"/><path d="M592,305.6 592,304.3 595.3,304.3 598.5,304.2 601.8,304.1 605,304.1 608.3,304 611.5,303.9 614.8,303.9 618,303.8 621.3,303.7 624.6,303.6 627.8,303.5 631.1,303.4 634.3,303.3 637.6,303.1 640.8,303 644.1,302.9 647.3,302.7 650.6,302.5 653.9,302.3 657.1,302.1 660.4,301.9 663.6,301.6 666.9,301.3 670.1,301 673.4,300.7 676.6,300.3 679.9,299.9 683.2,299.4 686.4,298.9 689.7,298.3 692.9,297.7 696.2,296.9 699.4,296.1 702.7,295.2 705.9,294.2 709.2,293.1 712.5,291.8 715.7,290.5 719,289 722.2,287.5 725.5,285.9 728.7,284.3 732,282.7 735.2,281.4 738.5,280.4 741.8,279.7 745,279.5 748.3,279.7 751.5,280.4 754.8,281.4 758,282.7 761.3,284.2 764.5,285.8 767.8,287.4 771.1,289 774.3,290.5 777.6,291.8 780.8,293.1 784.1,294.2 787.3,295.2 790.6,296.1 793.9,296.9 797.1,297.7 800.4,298.3 803.6,298.9 806.9,299.4 810.1,299.9 813.4,300.3 816.6,300.7 819.9,301 823.2,301.3 826.4,301.6 829.7,301.9 832.9,302.1 836.2,302.3 839.4,302.5 842.7,302.7 845.9,302.9 849.2,303 852.5,303.1 855.7,303.3 859,303.4 862.2,303.5 865.5,303.6 868.7,303.7 872,303.8 875.2,303.9 878.5,303.9 881.8,304 885,304.1 888.3,304.1 891.5,304.2 894.8,304.3 898,304.3 901.3,304.4 904.5,304.4 907.8,304.4 911.1,304.5 914.3,304.5 917.6,304.6 920.8,304.6 924.1,304.6 927.3,304.7 930.6,304.7 933.8,304.7 937.1,304.8 940.4,304.8 943.6,304.8 946.9,304.8 950.1,304.8 953.4,304.9 956.6,304.9 959.9,304.9 963.1,304.9 966.4,304.9 969.7,305 972.9,305 976.2,305 979.4,305 982.7,305 985.9,305 985.9,305.6Z" fill="#c0bfff"/><path d="M592,298.9 595.3,298.8 598.5,298.7 601.8,298.5 605,298.4 608.3,298.2 611.5,298.1 614.8,297.9 618,297.8 621.3,297.6 624.6,297.4 627.8,297.2 631.1,296.9 634.3,296.7 637.6,296.5 640.8,296.2 644.1,295.9 647.3,295.6 650.6,295.3 653.9,294.9 657.1,294.6 660.4,294.2 663.6,293.7 666.9,293.3 670.1,292.7 673.4,292.2 676.6,291.6 679.9,290.9 683.2,290.2 686.4,289.4 689.7,288.5 692.9,287.6 696.2,286.5 699.4,285.3 702.7,284.1 705.9,282.6 709.2,281.1 712.5,279.4 715.7,277.5 719,275.5 722.2,273.4 725.5,271.1 728.7,268.9 732,266.6 735.2,264.5 738.5,262.5 741.8,260.9 745,259.6 748.3,258.7 751.5,258.1 754.8,257.7 758,257.5 761.3,257.3 764.5,257 767.8,256.5 771.1,255.7 774.3,254.5 777.6,253 780.8,250.9 784.1,248.4 787.3,245.3 790.6,241.7 793.9,237.4 797.1,232.5 800.4,227 803.6,220.8 806.9,214.2 810.1,207.1 813.4,199.9 816.6,192.9 819.9,186.4 823.2,181 826.4,177.2 829.7,175.3 832.9,175.5 836.2,177.9 839.4,182.3 842.7,188.1 845.9,195.1 849.2,202.7 852.5,210.4 855.7,218.1 859,225.4 862.2,232.2 865.5,238.5 868.7,244.2 872,249.4 875.2,254 878.5,258.2 881.8,261.9 885,265.2 888.3,268.2 891.5,270.9 894.8,273.3 898,275.5 901.3,277.4 904.5,279.2 907.8,280.8 911.1,282.2 914.3,283.5 917.6,284.7 920.8,285.8 924.1,286.8 927.3,287.7 930.6,288.6 933.8,289.3 937.1,290 940.4,290.7 943.6,291.3 946.9,291.9 950.1,292.4 953.4,292.9 956.6,293.3 959.9,293.8 963.1,294.2 966.4,294.5 969.7,294.9 972.9,295.2 976.2,295.5 979.4,295.8 982.7,296.1 985.9,296.3" fill="none" stroke="#000" stroke-width="3" stroke-linejoin="round"/><path d="M592,377 592,374.7 595.3,374.6 598.5,374.5 601.8,374.4 605,374.4 608.3,374.3 611.5,374.2 614.8,374.1 618,374 621.3,373.9 624.6,373.8 627.8,373.7 631.1,373.6 634.3,373.5 637.6,373.4 640.8,373.3 644.1,373.1 647.3,373 650.6,372.9 653.9,372.7 657.1,372.5 660.4,372.4 663.6,372.2 666.9,372 670.1,371.8 673.4,371.6 676.6,371.4 679.9,371.1 683.2,370.8 686.4,370.6 689.7,370.3 692.9,370 696.2,369.6 699.4,369.3 702.7,368.9 705.9,368.5 709.2,368 712.5,367.5 715.7,367 719,366.5 722.2,365.8 725.5,365.2 728.7,364.5 732,363.7 735.2,362.8 738.5,361.9 741.8,360.9 745,359.7 748.3,358.5 751.5,357.1 754.8,355.6 758,353.9 761.3,352.1 764.5,350 767.8,347.7 771.1,345.1 774.3,342.2 777.6,339 780.8,335.4 784.1,331.3 787.3,326.8 790.6,321.9 793.9,316.4 797.1,310.4 800.4,303.9 803.6,297.2 806.9,290.2 810.1,283.4 813.4,277 816.6,271.4 819.9,267.2 823.2,264.7 826.4,264.1 829.7,265.5 832.9,268.8 836.2,273.7 839.4,279.6 842.7,286.2 845.9,293.2 849.2,300.1 852.5,306.7 855.7,313 859,318.7 862.2,324 865.5,328.8 868.7,333.1 872,336.9 875.2,340.4 878.5,343.5 881.8,346.2 885,348.7 888.3,350.9 891.5,352.9 894.8,354.7 898,356.3 901.3,357.7 904.5,359 907.8,360.2 911.1,361.3 914.3,362.3 917.6,363.2 920.8,364 924.1,364.8 927.3,365.5 930.6,366.1 933.8,366.7 937.1,367.2 940.4,367.7 943.6,368.2 946.9,368.6 950.1,369 953.4,369.4 956.6,369.8 959.9,370.1 963.1,370.4 966.4,370.7 969.7,371 972.9,371.2 976.2,371.4 979.4,371.7 982.7,371.9 985.9,372.1 985.9,377Z" fill="#ffbfbf"/><path d="M592,377 592,375.3 595.3,375.3 598.5,375.2 601.8,375.1 605,375 608.3,374.9 611.5,374.8 614.8,374.7 618,374.6 621.3,374.5 624.6,374.4 627.8,374.3 631.1,374.1 634.3,374 637.6,373.8 640.8,373.6 644.1,373.4 647.3,373.2 650.6,373 653.9,372.7 657.1,372.5 660.4,372.2 663.6,371.9 666.9,371.5 670.1,371.1 673.4,370.7 676.6,370.2 679.9,369.7 683.2,369.1 686.4,368.5 689.7,367.8 692.9,367 696.2,366.1 699.4,365.1 702.7,364 705.9,362.8 709.2,361.4 712.5,359.9 715.7,358.1 719,356.3 722.2,354.2 725.5,352 728.7,349.7 732,347.4 735.2,345 738.5,342.9 741.8,341 745,339.6 748.3,338.8 751.5,338.7 754.8,339.2 758,340.4 761.3,342.1 764.5,344.1 767.8,346.4 771.1,348.7 774.3,351.1 777.6,353.3 780.8,355.4 784.1,357.4 787.3,359.2 790.6,360.8 793.9,362.2 797.1,363.5 800.4,364.7 803.6,365.7 806.9,366.6 810.1,367.5 813.4,368.2 816.6,368.9 819.9,369.5 823.2,370 826.4,370.5 829.7,371 832.9,371.4 836.2,371.7 839.4,372.1 842.7,372.4 845.9,372.6 849.2,372.9 852.5,373.1 855.7,373.3 859,373.5 862.2,373.7 865.5,373.9 868.7,374.1 872,374.2 875.2,374.3 878.5,374.5 881.8,374.6 885,374.7 888.3,374.8 891.5,374.9 894.8,375 898,375.1 901.3,375.1 904.5,375.2 907.8,375.3 911.1,375.4 914.3,375.4 917.6,375.5 920.8,375.5 924.1,375.6 927.3,375.6 930.6,375.7 933.8,375.7 937.1,375.8 940.4,375.8 943.6,375.9 946.9,375.9 950.1,375.9 953.4,376 956.6,376 959.9,376 963.1,376.1 966.4,376.1 969.7,376.1 972.9,376.1 976.2,376.2 979.4,376.2 982.7,376.2 985.9,376.2 985.9,377Z" fill="#c0bfff"/><path d="M592,370 595.3,369.9 598.5,369.8 601.8,369.6 605,369.4 608.3,369.3 611.5,369.1 614.8,368.9 618,368.7 621.3,368.5 624.6,368.3 627.8,368.1 631.1,367.8 634.3,367.5 637.6,367.3 640.8,367 644.1,366.6 647.3,366.3 650.6,365.9 653.9,365.5 657.1,365.1 660.4,364.6 663.6,364.1 666.9,363.6 670.1,363 673.4,362.3 676.6,361.6 679.9,360.9 683.2,360 686.4,359.1 689.7,358.1 692.9,357 696.2,355.8 699.4,354.4 702.7,353 705.9,351.3 709.2,349.5 712.5,347.4 715.7,345.2 719,342.8 722.2,340.1 725.5,337.3 728.7,334.2 732,331.1 735.2,327.9 738.5,324.8 741.8,322 745,319.4 748.3,317.4 751.5,315.9 754.8,314.9 758,314.4 761.3,314.2 764.5,314.2 767.8,314.1 771.1,313.9 774.3,313.3 777.6,312.3 780.8,310.8 784.1,308.8 787.3,306.1 790.6,302.7 793.9,298.6 797.1,294 800.4,288.7 803.6,282.9 806.9,276.9 810.1,270.9 813.4,265.3 816.6,260.4 819.9,256.8 823.2,254.8 826.4,254.7 829.7,256.5 832.9,260.2 836.2,265.4 839.4,271.7 842.7,278.7 845.9,285.9 849.2,293 852.5,299.9 855.7,306.4 859,312.3 862.2,317.8 865.5,322.7 868.7,327.2 872,331.2 875.2,334.8 878.5,338 881.8,340.9 885,343.4 888.3,345.7 891.5,347.8 894.8,349.7 898,351.4 901.3,352.9 904.5,354.3 907.8,355.6 911.1,356.7 914.3,357.8 917.6,358.7 920.8,359.6 924.1,360.4 927.3,361.2 930.6,361.9 933.8,362.5 937.1,363.1 940.4,363.6 943.6,364.1 946.9,364.6 950.1,365 953.4,365.5 956.6,365.8 959.9,366.2 963.1,366.5 966.4,366.8 969.7,367.1 972.9,367.4 976.2,367.7 979.4,367.9 982.7,368.2 985.9,368.4" fill="none" stroke="#000" stroke-width="3" stroke-linejoin="round"/><path d="M592,448.5 592,446.4 595.3,446.4 598.5,446.3 601.8,446.2 605,446.2 608.3,446.1 611.5,446 614.8,445.9 618,445.9 621.3,445.8 624.6,445.7 627.8,445.6 631.1,445.5 634.3,445.4 637.6,445.3 640.8,445.2 644.1,445.1 647.3,444.9 650.6,444.8 653.9,444.7 657.1,444.5 660.4,444.4 663.6,444.2 666.9,444 670.1,443.8 673.4,443.6 676.6,443.4 679.9,443.2 683.2,443 686.4,442.7 689.7,442.4 692.9,442.1 696.2,441.8 699.4,441.5 702.7,441.1 705.9,440.8 709.2,440.3 712.5,439.9 715.7,439.4 719,438.9 722.2,438.3 725.5,437.7 728.7,437 732,436.3 735.2,435.5 738.5,434.6 741.8,433.6 745,432.5 748.3,431.3 751.5,430 754.8,428.6 758,427 761.3,425.2 764.5,423.2 767.8,420.9 771.1,418.4 774.3,415.6 777.6,412.5 780.8,409 784.1,405.1 787.3,400.8 790.6,396.1 793.9,390.9 797.1,385.4 800.4,379.6 803.6,373.6 806.9,367.8 810.1,362.4 813.4,357.8 816.6,354.3 819.9,352.3 823.2,352 826.4,353.4 829.7,356.4 832.9,360.7 836.2,365.8 839.4,371.6 842.7,377.5 845.9,383.4 849.2,389 852.5,394.3 855.7,399.2 859,403.7 862.2,407.7 865.5,411.3 868.7,414.6 872,417.5 875.2,420.1 878.5,422.4 881.8,424.5 885,426.4 888.3,428 891.5,429.5 894.8,430.9 898,432.1 901.3,433.2 904.5,434.3 907.8,435.2 911.1,436 914.3,436.8 917.6,437.5 920.8,438.1 924.1,438.7 927.3,439.2 930.6,439.7 933.8,440.2 937.1,440.6 940.4,441 943.6,441.4 946.9,441.7 950.1,442 953.4,442.3 956.6,442.6 959.9,442.9 963.1,443.1 966.4,443.3 969.7,443.6 972.9,443.8 976.2,444 979.4,444.1 982.7,444.3 985.9,444.5 985.9,448.5Z" fill="#ffbfbf"/><path d="M592,448.5 592,446.1 595.3,446 598.5,445.9 601.8,445.8 605,445.7 608.3,445.6 611.5,445.5 614.8,445.3 618,445.2 621.3,445 624.6,444.9 627.8,444.7 631.1,444.5 634.3,444.3 637.6,444.1 640.8,443.8 644.1,443.6 647.3,443.3 650.6,443 653.9,442.7 657.1,442.3 660.4,442 663.6,441.5 666.9,441.1 670.1,440.6 673.4,440 676.6,439.4 679.9,438.7 683.2,438 686.4,437.2 689.7,436.3 692.9,435.2 696.2,434.1 699.4,432.8 702.7,431.4 705.9,429.8 709.2,428.1 712.5,426.1 715.7,423.9 719,421.4 722.2,418.7 725.5,415.8 728.7,412.6 732,409.3 735.2,405.9 738.5,402.5 741.8,399.4 745,396.6 748.3,394.5 751.5,393.2 754.8,392.9 758,393.6 761.3,395.2 764.5,397.5 767.8,400.5 771.1,403.7 774.3,407.1 777.6,410.5 780.8,413.8 784.1,416.9 787.3,419.7 790.6,422.3 793.9,424.7 797.1,426.8 800.4,428.7 803.6,430.4 806.9,431.9 810.1,433.3 813.4,434.5 816.6,435.6 819.9,436.6 823.2,437.5 826.4,438.3 829.7,439 832.9,439.6 836.2,440.2 839.4,440.8 842.7,441.2 845.9,441.7 849.2,442.1 852.5,442.5 855.7,442.8 859,443.1 862.2,443.4 865.5,443.7 868.7,443.9 872,444.2 875.2,444.4 878.5,444.6 881.8,444.8 885,444.9 888.3,445.1 891.5,445.2 894.8,445.4 898,445.5 901.3,445.6 904.5,445.8 907.8,445.9 911.1,446 914.3,446.1 917.6,446.2 920.8,446.3 924.1,446.3 927.3,446.4 930.6,446.5 933.8,446.6 937.1,446.6 940.4,446.7 943.6,446.8 946.9,446.8 950.1,446.9 953.4,446.9 956.6,447 959.9,447 963.1,447.1 966.4,447.1 969.7,447.1 972.9,447.2 976.2,447.2 979.4,447.3 982.7,447.3 985.9,447.3 985.9,448.5Z" fill="#c0bfff"/><path d="M592,441.1 595.3,441 598.5,440.8 601.8,440.6 605,440.5 608.3,440.3 611.5,440.1 614.8,439.9 618,439.6 621.3,439.4 624.6,439.1 627.8,438.9 631.1,438.6 634.3,438.3 637.6,438 640.8,437.6 644.1,437.2 647.3,436.8 650.6,436.4 653.9,435.9 657.1,435.4 660.4,434.9 663.6,434.3 666.9,433.7 670.1,433 673.4,432.2 676.6,431.4 679.9,430.5 683.2,429.5 686.4,428.5 689.7,427.3 692.9,426 696.2,424.5 699.4,422.9 702.7,421.1 705.9,419.2 709.2,417 712.5,414.6 715.7,411.9 719,408.9 722.2,405.6 725.5,402.1 728.7,398.2 732,394.2 735.2,390 738.5,385.7 741.8,381.6 745,377.7 748.3,374.4 751.5,371.9 754.8,370.1 758,369.1 761.3,368.9 764.5,369.3 767.8,370 771.1,370.7 774.3,371.3 777.6,371.6 780.8,371.4 784.1,370.6 787.3,369.1 790.6,367 793.9,364.2 797.1,360.8 800.4,356.9 803.6,352.6 806.9,348.3 810.1,344.3 813.4,340.9 816.6,338.5 819.9,337.5 823.2,338.1 826.4,340.3 829.7,344 832.9,348.9 836.2,354.6 839.4,360.9 842.7,367.3 845.9,373.6 849.2,379.7 852.5,385.4 855.7,390.6 859,395.4 862.2,399.7 865.5,403.6 868.7,407.1 872,410.2 875.2,413 878.5,415.6 881.8,417.8 885,419.9 888.3,421.7 891.5,423.4 894.8,424.9 898,426.2 901.3,427.5 904.5,428.6 907.8,429.6 911.1,430.6 914.3,431.4 917.6,432.2 920.8,432.9 924.1,433.6 927.3,434.2 930.6,434.8 933.8,435.3 937.1,435.8 940.4,436.3 943.6,436.7 946.9,437.1 950.1,437.5 953.4,437.8 956.6,438.2 959.9,438.5 963.1,438.8 966.4,439 969.7,439.3 972.9,439.5 976.2,439.8 979.4,440 982.7,440.2 985.9,440.4" fill="none" stroke="#000" stroke-width="3" stroke-linejoin="round"/><path d="M592,520 592,518.3 595.3,518.2 598.5,518.2 601.8,518.1 605,518.1 608.3,518 611.5,518 614.8,517.9 618,517.8 621.3,517.8 624.6,517.7 627.8,517.6 631.1,517.5 634.3,517.5 637.6,517.4 640.8,517.3 644.1,517.2 647.3,517.1 650.6,517 653.9,516.8 657.1,516.7 660.4,516.6 663.6,516.5 666.9,516.3 670.1,516.2 673.4,516 676.6,515.8 679.9,515.6 683.2,515.4 686.4,515.2 689.7,515 692.9,514.8 696.2,514.5 699.4,514.2 702.7,513.9 705.9,513.6 709.2,513.3 712.5,512.9 715.7,512.5 719,512.1 722.2,511.6 725.5,511.1 728.7,510.5 732,509.9 735.2,509.2 738.5,508.5 741.8,507.7 745,506.8 748.3,505.8 751.5,504.7 754.8,503.5 758,502.1 761.3,500.6 764.5,498.9 767.8,497 771.1,494.9 774.3,492.6 777.6,490 780.8,487 784.1,483.8 787.3,480.2 790.6,476.2 793.9,471.9 797.1,467.4 800.4,462.7 803.6,457.9 806.9,453.3 810.1,449.1 813.4,445.7 816.6,443.4 819.9,442.3 823.2,442.6 826.4,444.2 829.7,447 832.9,450.8 836.2,455.2 839.4,459.9 842.7,464.6 845.9,469.3 849.2,473.8 852.5,477.9 855.7,481.7 859,485.2 862.2,488.3 865.5,491.1 868.7,493.6 872,495.8 875.2,497.8 878.5,499.6 881.8,501.3 885,502.7 888.3,504 891.5,505.2 894.8,506.2 898,507.2 901.3,508 904.5,508.8 907.8,509.5 911.1,510.2 914.3,510.8 917.6,511.3 920.8,511.8 924.1,512.3 927.3,512.7 930.6,513.1 933.8,513.4 937.1,513.8 940.4,514.1 943.6,514.4 946.9,514.6 950.1,514.9 953.4,515.1 956.6,515.3 959.9,515.5 963.1,515.7 966.4,515.9 969.7,516.1 972.9,516.2 976.2,516.4 979.4,516.5 982.7,516.7 985.9,516.8 985.9,520Z" fill="#ffbfbf"/><path d="M592,520 592,516.8 595.3,516.7 598.5,516.6 601.8,516.4 605,516.3 608.3,516.1 611.5,516 614.8,515.8 618,515.6 621.3,515.4 624.6,515.2 627.8,515 631.1,514.7 634.3,514.4 637.6,514.2 640.8,513.8 644.1,513.5 647.3,513.2 650.6,512.8 653.9,512.3 657.1,511.9 660.4,511.4 663.6,510.8 666.9,510.2 670.1,509.6 673.4,508.9 676.6,508.1 679.9,507.2 683.2,506.3 686.4,505.2 689.7,504 692.9,502.7 696.2,501.2 699.4,499.6 702.7,497.8 705.9,495.7 709.2,493.5 712.5,490.9 715.7,488.1 719,484.9 722.2,481.4 725.5,477.6 728.7,473.5 732,469.1 735.2,464.5 738.5,459.9 741.8,455.5 745,451.6 748.3,448.4 751.5,446.2 754.8,445.3 758,445.7 761.3,447.4 764.5,450.2 767.8,453.8 771.1,458.1 774.3,462.6 777.6,467.2 780.8,471.7 784.1,475.9 787.3,479.9 790.6,483.5 793.9,486.8 797.1,489.8 800.4,492.4 803.6,494.8 806.9,497 810.1,498.9 813.4,500.6 816.6,502.1 819.9,503.5 823.2,504.7 826.4,505.8 829.7,506.8 832.9,507.7 836.2,508.6 839.4,509.3 842.7,510 845.9,510.6 849.2,511.2 852.5,511.7 855.7,512.2 859,512.6 862.2,513 865.5,513.4 868.7,513.7 872,514 875.2,514.3 878.5,514.6 881.8,514.9 885,515.1 888.3,515.3 891.5,515.5 894.8,515.7 898,515.9 901.3,516.1 904.5,516.2 907.8,516.4 911.1,516.5 914.3,516.7 917.6,516.8 920.8,516.9 924.1,517 927.3,517.1 930.6,517.2 933.8,517.3 937.1,517.4 940.4,517.5 943.6,517.6 946.9,517.7 950.1,517.7 953.4,517.8 956.6,517.9 959.9,518 963.1,518 966.4,518.1 969.7,518.1 972.9,518.2 976.2,518.2 979.4,518.3 982.7,518.3 985.9,518.4 985.9,520Z" fill="#c0bfff"/><path d="M592,512.2 595.3,512.1 598.5,511.9 601.8,511.7 605,511.5 608.3,511.3 611.5,511 614.8,510.8 618,510.5 621.3,510.3 624.6,510 627.8,509.7 631.1,509.3 634.3,509 637.6,508.6 640.8,508.2 644.1,507.8 647.3,507.3 650.6,506.8 653.9,506.3 657.1,505.7 660.4,505.1 663.6,504.4 666.9,503.7 670.1,502.9 673.4,502 676.6,501 679.9,500 683.2,498.8 686.4,497.5 689.7,496.1 692.9,494.6 696.2,492.9 699.4,490.9 702.7,488.8 705.9,486.5 709.2,483.8 712.5,480.9 715.7,477.7 719,474.1 722.2,470.1 725.5,465.8 728.7,461.1 732,456.1 735.2,450.8 738.5,445.5 741.8,440.3 745,435.5 748.3,431.3 751.5,428 754.8,425.9 758,424.9 761.3,425.1 764.5,426.2 767.8,428 771.1,430.1 774.3,432.3 777.6,434.3 780.8,435.8 784.1,436.8 787.3,437.2 790.6,436.8 793.9,435.9 797.1,434.3 800.4,432.2 803.6,429.8 806.9,427.3 810.1,425.1 813.4,423.4 816.6,422.6 819.9,422.9 823.2,424.4 826.4,427.1 829.7,431 832.9,435.6 836.2,440.8 839.4,446.3 842.7,451.7 845.9,457 849.2,462 852.5,466.7 855.7,471 859,474.9 862.2,478.4 865.5,481.6 868.7,484.4 872,487 875.2,489.3 878.5,491.3 881.8,493.2 885,494.9 888.3,496.4 891.5,497.8 894.8,499 898,500.2 901.3,501.2 904.5,502.1 907.8,503 911.1,503.8 914.3,504.5 917.6,505.2 920.8,505.8 924.1,506.4 927.3,506.9 930.6,507.4 933.8,507.9 937.1,508.3 940.4,508.7 943.6,509.1 946.9,509.4 950.1,509.7 953.4,510 956.6,510.3 959.9,510.6 963.1,510.8 966.4,511.1 969.7,511.3 972.9,511.5 976.2,511.7 979.4,511.9 982.7,512.1 985.9,512.3" fill="none" stroke="#ff3333" stroke-width="3" stroke-linejoin="round"/><path d="M592,591.5 592,587.4 595.3,587.3 598.5,587.1 601.8,586.9 605,586.7 608.3,586.5 611.5,586.3 614.8,586.1 618,585.8 621.3,585.6 624.6,585.3 627.8,585 631.1,584.7 634.3,584.3 637.6,583.9 640.8,583.5 644.1,583.1 647.3,582.6 650.6,582.1 653.9,581.6 657.1,581 660.4,580.3 663.6,579.6 666.9,578.8 670.1,578 673.4,577.1 676.6,576 679.9,574.9 683.2,573.6 686.4,572.2 689.7,570.7 692.9,569 696.2,567 699.4,564.9 702.7,562.5 705.9,559.8 709.2,556.8 712.5,553.5 715.7,549.7 719,545.6 722.2,541 725.5,536.1 728.7,530.7 732,525 735.2,519.2 738.5,513.4 741.8,508 745,503.3 748.3,499.6 751.5,497.3 754.8,496.7 758,497.7 761.3,500.3 764.5,504.2 767.8,509.2 771.1,514.7 774.3,520.5 777.6,526.3 780.8,531.9 784.1,537.2 787.3,542.1 790.6,546.5 793.9,550.6 797.1,554.2 800.4,557.5 803.6,560.4 806.9,563 810.1,565.4 813.4,567.5 816.6,569.4 819.9,571 823.2,572.5 826.4,573.9 829.7,575.1 832.9,576.3 836.2,577.3 839.4,578.2 842.7,579 845.9,579.8 849.2,580.5 852.5,581.1 855.7,581.7 859,582.3 862.2,582.7 865.5,583.2 868.7,583.6 872,584 875.2,584.4 878.5,584.7 881.8,585.1 885,585.4 888.3,585.6 891.5,585.9 894.8,586.1 898,586.4 901.3,586.6 904.5,586.8 907.8,587 911.1,587.1 914.3,587.3 917.6,587.5 920.8,587.6 924.1,587.8 927.3,587.9 930.6,588 933.8,588.1 937.1,588.2 940.4,588.4 943.6,588.5 946.9,588.6 950.1,588.6 953.4,588.7 956.6,588.8 959.9,588.9 963.1,589 966.4,589.1 969.7,589.1 972.9,589.2 976.2,589.3 979.4,589.3 982.7,589.4 985.9,589.4 985.9,591.5Z" fill="#c0bfff"/><path d="M592,591.5 592,590.2 595.3,590.2 598.5,590.2 601.8,590.1 605,590.1 608.3,590 611.5,590 614.8,589.9 618,589.9 621.3,589.8 624.6,589.8 627.8,589.7 631.1,589.7 634.3,589.6 637.6,589.6 640.8,589.5 644.1,589.4 647.3,589.3 650.6,589.3 653.9,589.2 657.1,589.1 660.4,589 663.6,588.9 666.9,588.8 670.1,588.7 673.4,588.6 676.6,588.4 679.9,588.3 683.2,588.2 686.4,588 689.7,587.9 692.9,587.7 696.2,587.5 699.4,587.3 702.7,587.1 705.9,586.8 709.2,586.6 712.5,586.3 715.7,586 719,585.7 722.2,585.4 725.5,585 728.7,584.6 732,584.2 735.2,583.7 738.5,583.2 741.8,582.6 745,581.9 748.3,581.2 751.5,580.4 754.8,579.6 758,578.6 761.3,577.5 764.5,576.3 767.8,575 771.1,573.5 774.3,571.8 777.6,569.9 780.8,567.8 784.1,565.5 787.3,562.9 790.6,560.1 793.9,557 797.1,553.7 800.4,550.2 803.6,546.7 806.9,543.2 810.1,540.1 813.4,537.3 816.6,535.3 819.9,534.2 823.2,534.1 826.4,535 829.7,536.9 832.9,539.4 836.2,542.5 839.4,545.9 842.7,549.5 845.9,553 849.2,556.3 852.5,559.5 855.7,562.3 859,565 862.2,567.4 865.5,569.5 868.7,571.4 872,573.1 875.2,574.7 878.5,576 881.8,577.3 885,578.4 888.3,579.4 891.5,580.3 894.8,581.1 898,581.8 901.3,582.4 904.5,583 907.8,583.6 911.1,584.1 914.3,584.5 917.6,584.9 920.8,585.3 924.1,585.7 927.3,586 930.6,586.3 933.8,586.5 937.1,586.8 940.4,587 943.6,587.2 946.9,587.5 950.1,587.6 953.4,587.8 956.6,588 959.9,588.1 963.1,588.3 966.4,588.4 969.7,588.5 972.9,588.7 976.2,588.8 979.4,588.9 982.7,589 985.9,589.1 985.9,591.5Z" fill="#ffbfbf"/><path d="M592,583.3 595.3,583.1 598.5,582.9 601.8,582.7 605,582.4 608.3,582.2 611.5,581.9 614.8,581.6 618,581.3 621.3,581 624.6,580.7 627.8,580.3 631.1,580 634.3,579.6 637.6,579.1 640.8,578.7 644.1,578.1 647.3,577.6 650.6,577 653.9,576.4 657.1,575.7 660.4,575 663.6,574.1 666.9,573.3 670.1,572.3 673.4,571.2 676.6,570.1 679.9,568.8 683.2,567.4 686.4,565.9 689.7,564.2 692.9,562.3 696.2,560.2 699.4,557.8 702.7,555.2 705.9,552.3 709.2,549 712.5,545.4 715.7,541.4 719,537 722.2,532 725.5,526.7 728.7,520.9 732,514.8 735.2,508.5 738.5,502.2 741.8,496.2 745,490.8 748.3,486.5 751.5,483.4 754.8,481.9 758,481.9 761.3,483.4 764.5,486.2 767.8,489.8 771.1,493.8 774.3,497.9 777.6,501.8 780.8,505.4 784.1,508.3 787.3,510.6 790.6,512.3 793.9,513.2 797.1,513.6 800.4,513.4 803.6,512.8 806.9,511.9 810.1,511.1 813.4,510.4 816.6,510.3 819.9,510.9 823.2,512.3 826.4,514.6 829.7,517.6 832.9,521.3 836.2,525.4 839.4,529.8 842.7,534.1 845.9,538.4 849.2,542.4 852.5,546.2 855.7,549.7 859,552.9 862.2,555.7 865.5,558.3 868.7,560.7 872,562.8 875.2,564.7 878.5,566.4 881.8,567.9 885,569.3 888.3,570.6 891.5,571.8 894.8,572.8 898,573.8 901.3,574.6 904.5,575.4 907.8,576.2 911.1,576.8 914.3,577.4 917.6,578 920.8,578.5 924.1,579 927.3,579.5 930.6,579.9 933.8,580.3 937.1,580.7 940.4,581 943.6,581.3 946.9,581.6 950.1,581.9 953.4,582.2 956.6,582.4 959.9,582.7 963.1,582.9 966.4,583.1 969.7,583.3 972.9,583.5 976.2,583.7 979.4,583.8 982.7,584 985.9,584.1" fill="none" stroke="#000" stroke-width="3" stroke-linejoin="round"/><path d="M592,663 592,658.1 595.3,657.9 598.5,657.7 601.8,657.5 605,657.3 608.3,657 611.5,656.7 614.8,656.5 618,656.2 621.3,655.8 624.6,655.5 627.8,655.1 631.1,654.7 634.3,654.3 637.6,653.8 640.8,653.3 644.1,652.8 647.3,652.2 650.6,651.6 653.9,650.9 657.1,650.2 660.4,649.4 663.6,648.5 666.9,647.5 670.1,646.4 673.4,645.2 676.6,643.9 679.9,642.5 683.2,640.9 686.4,639.1 689.7,637.2 692.9,635 696.2,632.5 699.4,629.8 702.7,626.8 705.9,623.3 709.2,619.5 712.5,615.3 715.7,610.6 719,605.3 722.2,599.6 725.5,593.5 728.7,587 732,580.3 735.2,573.6 738.5,567.2 741.8,561.6 745,557.2 748.3,554.3 751.5,553.3 754.8,554.2 758,557 761.3,561.4 764.5,566.9 767.8,573.3 771.1,579.9 774.3,586.7 777.6,593.2 780.8,599.4 784.1,605.1 787.3,610.3 790.6,615.1 793.9,619.3 797.1,623.2 800.4,626.6 803.6,629.7 806.9,632.4 810.1,634.9 813.4,637.1 816.6,639.1 819.9,640.8 823.2,642.4 826.4,643.9 829.7,645.2 832.9,646.4 836.2,647.4 839.4,648.4 842.7,649.3 845.9,650.1 849.2,650.9 852.5,651.6 855.7,652.2 859,652.8 862.2,653.3 865.5,653.8 868.7,654.3 872,654.7 875.2,655.1 878.5,655.5 881.8,655.8 885,656.1 888.3,656.5 891.5,656.7 894.8,657 898,657.2 901.3,657.5 904.5,657.7 907.8,657.9 911.1,658.1 914.3,658.3 917.6,658.5 920.8,658.6 924.1,658.8 927.3,658.9 930.6,659.1 933.8,659.2 937.1,659.3 940.4,659.4 943.6,659.6 946.9,659.7 950.1,659.8 953.4,659.9 956.6,660 959.9,660.1 963.1,660.1 966.4,660.2 969.7,660.3 972.9,660.4 976.2,660.5 979.4,660.5 982.7,660.6 985.9,660.7 985.9,663Z" fill="#c0bfff"/><path d="M592,663 592,662.1 595.3,662 598.5,662 601.8,662 605,662 608.3,661.9 611.5,661.9 614.8,661.9 618,661.8 621.3,661.8 624.6,661.8 627.8,661.7 631.1,661.7 634.3,661.6 637.6,661.6 640.8,661.5 644.1,661.5 647.3,661.4 650.6,661.4 653.9,661.3 657.1,661.3 660.4,661.2 663.6,661.1 666.9,661.1 670.1,661 673.4,660.9 676.6,660.8 679.9,660.7 683.2,660.6 686.4,660.5 689.7,660.4 692.9,660.3 696.2,660.2 699.4,660 702.7,659.9 705.9,659.7 709.2,659.6 712.5,659.4 715.7,659.2 719,659 722.2,658.7 725.5,658.5 728.7,658.2 732,657.9 735.2,657.6 738.5,657.2 741.8,656.8 745,656.4 748.3,655.9 751.5,655.4 754.8,654.8 758,654.2 761.3,653.5 764.5,652.7 767.8,651.8 771.1,650.8 774.3,649.7 777.6,648.4 780.8,647 784.1,645.5 787.3,643.8 790.6,641.9 793.9,639.8 797.1,637.5 800.4,635.1 803.6,632.5 806.9,629.9 810.1,627.4 813.4,625.2 816.6,623.2 819.9,621.8 823.2,621.1 826.4,621.1 829.7,621.9 832.9,623.3 836.2,625.3 839.4,627.6 842.7,630.1 845.9,632.7 849.2,635.2 852.5,637.6 855.7,639.9 859,642 862.2,643.9 865.5,645.6 868.7,647.1 872,648.5 875.2,649.7 878.5,650.8 881.8,651.8 885,652.7 888.3,653.5 891.5,654.2 894.8,654.8 898,655.4 901.3,655.9 904.5,656.4 907.8,656.9 911.1,657.2 914.3,657.6 917.6,657.9 920.8,658.2 924.1,658.5 927.3,658.7 930.6,659 933.8,659.2 937.1,659.4 940.4,659.6 943.6,659.7 946.9,659.9 950.1,660 953.4,660.2 956.6,660.3 959.9,660.4 963.1,660.5 966.4,660.6 969.7,660.7 972.9,660.8 976.2,660.9 979.4,661 982.7,661.1 985.9,661.1 985.9,663Z" fill="#ffbfbf"/><path d="M592,654.3 595.3,654.1 598.5,653.9 601.8,653.6 605,653.4 608.3,653.1 611.5,652.8 614.8,652.5 618,652.1 621.3,651.8 624.6,651.4 627.8,651 631.1,650.6 634.3,650.1 637.6,649.6 640.8,649 644.1,648.5 647.3,647.8 650.6,647.1 653.9,646.4 657.1,645.6 660.4,644.7 663.6,643.7 666.9,642.7 670.1,641.6 673.4,640.3 676.6,638.9 679.9,637.4 683.2,635.7 686.4,633.8 689.7,631.7 692.9,629.4 696.2,626.9 699.4,624 702.7,620.8 705.9,617.2 709.2,613.2 712.5,608.8 715.7,603.9 719,598.4 722.2,592.5 725.5,586.1 728.7,579.3 732,572.3 735.2,565.3 738.5,558.6 741.8,552.6 745,547.7 748.3,544.4 751.5,542.8 754.8,543.2 758,545.3 761.3,549 764.5,553.7 767.8,559.2 771.1,564.9 774.3,570.5 777.6,575.8 780.8,580.5 784.1,584.7 787.3,588.2 790.6,591.1 793.9,593.3 797.1,594.8 800.4,595.8 803.6,596.3 806.9,596.5 810.1,596.5 813.4,596.4 816.6,596.4 819.9,596.8 823.2,597.7 826.4,599.2 829.7,601.2 832.9,603.8 836.2,606.8 839.4,610.1 842.7,613.5 845.9,616.9 849.2,620.2 852.5,623.3 855.7,626.2 859,628.9 862.2,631.3 865.5,633.5 868.7,635.5 872,637.3 875.2,639 878.5,640.5 881.8,641.8 885,643 888.3,644.1 891.5,645.1 894.8,646 898,646.8 901.3,647.6 904.5,648.3 907.8,648.9 911.1,649.5 914.3,650 917.6,650.5 920.8,651 924.1,651.4 927.3,651.8 930.6,652.2 933.8,652.5 937.1,652.9 940.4,653.2 943.6,653.4 946.9,653.7 950.1,654 953.4,654.2 956.6,654.4 959.9,654.6 963.1,654.8 966.4,655 969.7,655.2 972.9,655.3 976.2,655.5 979.4,655.7 982.7,655.8 985.9,655.9" fill="none" stroke="#000" stroke-width="3" stroke-linejoin="round"/><path d="M592,734.4 592,728.9 595.3,728.6 598.5,728.4 601.8,728.1 605,727.8 608.3,727.6 611.5,727.2 614.8,726.9 618,726.5 621.3,726.2 624.6,725.8 627.8,725.3 631.1,724.8 634.3,724.3 637.6,723.8 640.8,723.2 644.1,722.5 647.3,721.8 650.6,721 653.9,720.2 657.1,719.3 660.4,718.3 663.6,717.2 666.9,716 670.1,714.7 673.4,713.2 676.6,711.6 679.9,709.8 683.2,707.8 686.4,705.6 689.7,703.1 692.9,700.4 696.2,697.3 699.4,693.9 702.7,690 705.9,685.7 709.2,680.9 712.5,675.6 715.7,669.8 719,663.4 722.2,656.5 725.5,649.3 728.7,641.9 732,634.7 735.2,627.9 738.5,622 741.8,617.6 745,615 748.3,614.4 751.5,616 754.8,619.5 758,624.7 761.3,631 764.5,638.1 767.8,645.5 771.1,652.8 774.3,659.9 777.6,666.5 780.8,672.6 784.1,678.2 787.3,683.3 790.6,687.8 793.9,691.9 797.1,695.6 800.4,698.8 803.6,701.7 806.9,704.4 810.1,706.7 813.4,708.8 816.6,710.7 819.9,712.4 823.2,713.9 826.4,715.3 829.7,716.6 832.9,717.7 836.2,718.8 839.4,719.7 842.7,720.6 845.9,721.4 849.2,722.2 852.5,722.8 855.7,723.5 859,724 862.2,724.6 865.5,725.1 868.7,725.5 872,726 875.2,726.4 878.5,726.7 881.8,727.1 885,727.4 888.3,727.7 891.5,728 894.8,728.3 898,728.5 901.3,728.7 904.5,729 907.8,729.2 911.1,729.4 914.3,729.6 917.6,729.7 920.8,729.9 924.1,730.1 927.3,730.2 930.6,730.4 933.8,730.5 937.1,730.6 940.4,730.8 943.6,730.9 946.9,731 950.1,731.1 953.4,731.2 956.6,731.3 959.9,731.4 963.1,731.5 966.4,731.6 969.7,731.6 972.9,731.7 976.2,731.8 979.4,731.9 982.7,731.9 985.9,732 985.9,734.4Z" fill="#c0bfff"/><path d="M592,734.4 592,733.8 595.3,733.8 598.5,733.8 601.8,733.8 605,733.7 608.3,733.7 611.5,733.7 614.8,733.7 618,733.7 621.3,733.6 624.6,733.6 627.8,733.6 631.1,733.5 634.3,733.5 637.6,733.5 640.8,733.5 644.1,733.4 647.3,733.4 650.6,733.3 653.9,733.3 657.1,733.3 660.4,733.2 663.6,733.2 666.9,733.1 670.1,733.1 673.4,733 676.6,733 679.9,732.9 683.2,732.8 686.4,732.8 689.7,732.7 692.9,732.6 696.2,732.5 699.4,732.4 702.7,732.3 705.9,732.2 709.2,732.1 712.5,732 715.7,731.9 719,731.7 722.2,731.6 725.5,731.4 728.7,731.2 732,731 735.2,730.8 738.5,730.6 741.8,730.3 745,730.1 748.3,729.7 751.5,729.4 754.8,729 758,728.6 761.3,728.2 764.5,727.7 767.8,727.1 771.1,726.5 774.3,725.8 777.6,725 780.8,724.1 784.1,723.1 787.3,722 790.6,720.8 793.9,719.5 797.1,718 800.4,716.3 803.6,714.6 806.9,712.8 810.1,710.9 813.4,709 816.6,707.3 819.9,705.8 823.2,704.7 826.4,704.1 829.7,703.9 832.9,704.3 836.2,705.2 839.4,706.6 842.7,708.2 845.9,710 849.2,711.9 852.5,713.7 855.7,715.5 859,717.2 862.2,718.8 865.5,720.2 868.7,721.5 872,722.6 875.2,723.6 878.5,724.6 881.8,725.4 885,726.1 888.3,726.8 891.5,727.4 894.8,727.9 898,728.4 901.3,728.8 904.5,729.2 907.8,729.6 911.1,729.9 914.3,730.2 917.6,730.5 920.8,730.7 924.1,730.9 927.3,731.1 930.6,731.3 933.8,731.5 937.1,731.7 940.4,731.8 943.6,731.9 946.9,732.1 950.1,732.2 953.4,732.3 956.6,732.4 959.9,732.5 963.1,732.6 966.4,732.7 969.7,732.7 972.9,732.8 976.2,732.9 979.4,732.9 982.7,733 985.9,733 985.9,734.4Z" fill="#ffbfbf"/><path d="M592,725.3 595.3,725.1 598.5,724.8 601.8,724.5 605,724.2 608.3,723.9 611.5,723.6 614.8,723.2 618,722.9 621.3,722.5 624.6,722 627.8,721.5 631.1,721 634.3,720.5 637.6,719.9 640.8,719.3 644.1,718.6 647.3,717.9 650.6,717.1 653.9,716.2 657.1,715.2 660.4,714.2 663.6,713 666.9,711.8 670.1,710.4 673.4,708.9 676.6,707.2 679.9,705.4 683.2,703.3 686.4,701 689.7,698.5 692.9,695.7 696.2,692.5 699.4,689 702.7,685 705.9,680.6 709.2,675.7 712.5,670.3 715.7,664.3 719,657.8 722.2,650.8 725.5,643.4 728.7,635.8 732,628.4 735.2,621.4 738.5,615.3 741.8,610.6 745,607.7 748.3,606.8 751.5,608 754.8,611.2 758,616 761.3,621.9 764.5,628.4 767.8,635.2 771.1,641.9 774.3,648.3 777.6,654.1 780.8,659.4 784.1,664 787.3,668 790.6,671.3 793.9,674 797.1,676.2 800.4,677.8 803.6,679 806.9,679.8 810.1,680.2 813.4,680.5 816.6,680.7 819.9,680.9 823.2,681.3 826.4,682 829.7,683.2 832.9,684.7 836.2,686.7 839.4,689 842.7,691.5 845.9,694.1 849.2,696.7 852.5,699.2 855.7,701.6 859,703.9 862.2,706 865.5,707.9 868.7,709.6 872,711.2 875.2,712.7 878.5,714 881.8,715.1 885,716.2 888.3,717.2 891.5,718 894.8,718.8 898,719.6 901.3,720.2 904.5,720.9 907.8,721.4 911.1,721.9 914.3,722.4 917.6,722.9 920.8,723.3 924.1,723.7 927.3,724 930.6,724.3 933.8,724.7 937.1,724.9 940.4,725.2 943.6,725.5 946.9,725.7 950.1,725.9 953.4,726.1 956.6,726.3 959.9,726.5 963.1,726.7 966.4,726.9 969.7,727 972.9,727.2 976.2,727.3 979.4,727.5 982.7,727.6 985.9,727.7" fill="none" stroke="#000" stroke-width="3" stroke-linejoin="round"/><path d="M592,805.9 592,799.7 595.3,799.4 598.5,799.1 601.8,798.8 605,798.5 608.3,798.1 611.5,797.8 614.8,797.4 618,797 621.3,796.5 624.6,796 627.8,795.5 631.1,794.9 634.3,794.3 637.6,793.7 640.8,792.9 644.1,792.2 647.3,791.3 650.6,790.4 653.9,789.4 657.1,788.3 660.4,787.1 663.6,785.7 666.9,784.3 670.1,782.6 673.4,780.8 676.6,778.8 679.9,776.6 683.2,774.2 686.4,771.4 689.7,768.3 692.9,764.9 696.2,761 699.4,756.7 702.7,751.9 705.9,746.5 709.2,740.6 712.5,734.2 715.7,727.2 719,719.7 722.2,712 725.5,704.2 728.7,696.7 732,690 735.2,684.5 738.5,680.8 741.8,679.1 745,679.7 748.3,682.5 751.5,687.2 754.8,693.4 758,700.5 761.3,708.2 764.5,716 767.8,723.6 771.1,730.9 774.3,737.6 777.6,743.8 780.8,749.4 784.1,754.4 787.3,759 790.6,763 793.9,766.7 797.1,769.9 800.4,772.9 803.6,775.5 806.9,777.8 810.1,779.9 813.4,781.8 816.6,783.5 819.9,785 823.2,786.4 826.4,787.7 829.7,788.9 832.9,789.9 836.2,790.9 839.4,791.8 842.7,792.6 845.9,793.3 849.2,794 852.5,794.6 855.7,795.2 859,795.8 862.2,796.3 865.5,796.7 868.7,797.2 872,797.6 875.2,798 878.5,798.3 881.8,798.6 885,799 888.3,799.3 891.5,799.5 894.8,799.8 898,800 901.3,800.3 904.5,800.5 907.8,800.7 911.1,800.9 914.3,801 917.6,801.2 920.8,801.4 924.1,801.5 927.3,801.7 930.6,801.8 933.8,802 937.1,802.1 940.4,802.2 943.6,802.3 946.9,802.4 950.1,802.5 953.4,802.6 956.6,802.7 959.9,802.8 963.1,802.9 966.4,803 969.7,803.1 972.9,803.2 976.2,803.2 979.4,803.3 982.7,803.4 985.9,803.4 985.9,805.9Z" fill="#c0bfff"/><path d="M592,805.9 592,805.5 595.3,805.5 598.5,805.4 601.8,805.4 605,805.4 608.3,805.4 611.5,805.4 614.8,805.4 618,805.4 621.3,805.3 624.6,805.3 627.8,805.3 631.1,805.3 634.3,805.3 637.6,805.2 640.8,805.2 644.1,805.2 647.3,805.2 650.6,805.2 653.9,805.1 657.1,805.1 660.4,805.1 663.6,805 666.9,805 670.1,805 673.4,804.9 676.6,804.9 679.9,804.8 683.2,804.8 686.4,804.8 689.7,804.7 692.9,804.7 696.2,804.6 699.4,804.5 702.7,804.5 705.9,804.4 709.2,804.3 712.5,804.2 715.7,804.2 719,804.1 722.2,804 725.5,803.9 728.7,803.7 732,803.6 735.2,803.5 738.5,803.3 741.8,803.2 745,803 748.3,802.8 751.5,802.6 754.8,802.3 758,802.1 761.3,801.8 764.5,801.5 767.8,801.1 771.1,800.7 774.3,800.3 777.6,799.8 780.8,799.2 784.1,798.6 787.3,797.9 790.6,797.1 793.9,796.3 797.1,795.3 800.4,794.3 803.6,793.1 806.9,791.9 810.1,790.6 813.4,789.2 816.6,787.8 819.9,786.5 823.2,785.3 826.4,784.3 829.7,783.6 832.9,783.3 836.2,783.4 839.4,783.9 842.7,784.7 845.9,785.8 849.2,787.1 852.5,788.5 855.7,789.9 859,791.2 862.2,792.5 865.5,793.7 868.7,794.8 872,795.8 875.2,796.7 878.5,797.5 881.8,798.3 885,798.9 888.3,799.5 891.5,800 894.8,800.5 898,800.9 901.3,801.3 904.5,801.6 907.8,801.9 911.1,802.2 914.3,802.4 917.6,802.7 920.8,802.9 924.1,803.1 927.3,803.2 930.6,803.4 933.8,803.5 937.1,803.7 940.4,803.8 943.6,803.9 946.9,804 950.1,804.1 953.4,804.2 956.6,804.3 959.9,804.4 963.1,804.4 966.4,804.5 969.7,804.6 972.9,804.6 976.2,804.7 979.4,804.7 982.7,804.8 985.9,804.8 985.9,805.9Z" fill="#ffbfbf"/><path d="M592,796.3 595.3,796 598.5,795.7 601.8,795.4 605,795.1 608.3,794.7 611.5,794.3 614.8,793.9 618,793.5 621.3,793 624.6,792.5 627.8,792 631.1,791.4 634.3,790.8 637.6,790.1 640.8,789.4 644.1,788.6 647.3,787.7 650.6,786.7 653.9,785.7 657.1,784.6 660.4,783.3 663.6,782 666.9,780.4 670.1,778.8 673.4,777 676.6,774.9 679.9,772.7 683.2,770.1 686.4,767.3 689.7,764.2 692.9,760.7 696.2,756.8 699.4,752.4 702.7,747.5 705.9,742.1 709.2,736.1 712.5,729.6 715.7,722.5 719,715 722.2,707.1 725.5,699.2 728.7,691.6 732,684.8 735.2,679.2 738.5,675.3 741.8,673.5 745,673.9 748.3,676.4 751.5,680.9 754.8,686.9 758,693.8 761.3,701.2 764.5,708.6 767.8,715.9 771.1,722.7 774.3,729 777.6,734.7 780.8,739.8 784.1,744.2 787.3,748.1 790.6,751.4 793.9,754.2 797.1,756.5 800.4,758.3 803.6,759.8 806.9,760.9 810.1,761.6 813.4,762.2 816.6,762.5 819.9,762.7 823.2,762.9 826.4,763.2 829.7,763.7 832.9,764.4 836.2,765.5 839.4,766.8 842.7,768.5 845.9,770.3 849.2,772.3 852.5,774.3 855.7,776.3 859,778.2 862.2,780 865.5,781.6 868.7,783.2 872,784.6 875.2,785.9 878.5,787 881.8,788.1 885,789.1 888.3,789.9 891.5,790.7 894.8,791.4 898,792.1 901.3,792.7 904.5,793.3 907.8,793.8 911.1,794.2 914.3,794.7 917.6,795.1 920.8,795.4 924.1,795.8 927.3,796.1 930.6,796.4 933.8,796.7 937.1,796.9 940.4,797.2 943.6,797.4 946.9,797.6 950.1,797.8 953.4,798 956.6,798.2 959.9,798.4 963.1,798.5 966.4,798.7 969.7,798.8 972.9,799 976.2,799.1 979.4,799.2 982.7,799.3 985.9,799.4" fill="none" stroke="#000" stroke-width="3" stroke-linejoin="round"/><path d="M592,877.4 592,870.5 595.3,870.2 598.5,869.8 601.8,869.5 605,869.1 608.3,868.7 611.5,868.3 614.8,867.8 618,867.3 621.3,866.8 624.6,866.3 627.8,865.6 631.1,865 634.3,864.3 637.6,863.5 640.8,862.6 644.1,861.7 647.3,860.7 650.6,859.6 653.9,858.4 657.1,857 660.4,855.6 663.6,853.9 666.9,852.1 670.1,850.1 673.4,847.9 676.6,845.5 679.9,842.7 683.2,839.6 686.4,836.2 689.7,832.4 692.9,828.1 696.2,823.3 699.4,818 702.7,812.1 705.9,805.6 709.2,798.5 712.5,791 715.7,783 719,775 722.2,767.1 725.5,759.9 728.7,753.7 732,749.2 735.2,746.8 738.5,746.6 741.8,748.7 745,753 748.3,758.9 751.5,766 754.8,773.8 758,781.9 761.3,789.8 764.5,797.4 767.8,804.6 771.1,811.2 774.3,817.1 777.6,822.6 780.8,827.4 784.1,831.8 787.3,835.7 790.6,839.2 793.9,842.3 797.1,845.1 800.4,847.6 803.6,849.8 806.9,851.9 810.1,853.7 813.4,855.3 816.6,856.8 819.9,858.2 823.2,859.4 826.4,860.5 829.7,861.6 832.9,862.5 836.2,863.4 839.4,864.1 842.7,864.9 845.9,865.5 849.2,866.2 852.5,866.7 855.7,867.3 859,867.8 862.2,868.2 865.5,868.7 868.7,869.1 872,869.4 875.2,869.8 878.5,870.1 881.8,870.4 885,870.7 888.3,871 891.5,871.2 894.8,871.5 898,871.7 901.3,871.9 904.5,872.1 907.8,872.3 911.1,872.5 914.3,872.7 917.6,872.8 920.8,873 924.1,873.1 927.3,873.3 930.6,873.4 933.8,873.5 937.1,873.7 940.4,873.8 943.6,873.9 946.9,874 950.1,874.1 953.4,874.2 956.6,874.3 959.9,874.4 963.1,874.4 966.4,874.5 969.7,874.6 972.9,874.7 976.2,874.8 979.4,874.8 982.7,874.9 985.9,875 985.9,877.4Z" fill="#c0bfff"/><path d="M592,877.4 592,877.1 595.3,877.1 598.5,877.1 601.8,877 605,877 608.3,877 611.5,877 614.8,877 618,877 621.3,877 624.6,877 627.8,877 631.1,876.9 634.3,876.9 637.6,876.9 640.8,876.9 644.1,876.9 647.3,876.9 650.6,876.8 653.9,876.8 657.1,876.8 660.4,876.8 663.6,876.8 666.9,876.7 670.1,876.7 673.4,876.7 676.6,876.7 679.9,876.6 683.2,876.6 686.4,876.6 689.7,876.5 692.9,876.5 696.2,876.5 699.4,876.4 702.7,876.4 705.9,876.3 709.2,876.3 712.5,876.2 715.7,876.2 719,876.1 722.2,876 725.5,876 728.7,875.9 732,875.8 735.2,875.7 738.5,875.6 741.8,875.5 745,875.4 748.3,875.3 751.5,875.1 754.8,875 758,874.8 761.3,874.6 764.5,874.4 767.8,874.2 771.1,873.9 774.3,873.6 777.6,873.3 780.8,873 784.1,872.6 787.3,872.2 790.6,871.7 793.9,871.1 797.1,870.5 800.4,869.9 803.6,869.1 806.9,868.3 810.1,867.4 813.4,866.4 816.6,865.4 819.9,864.3 823.2,863.3 826.4,862.3 829.7,861.4 832.9,860.8 836.2,860.3 839.4,860.2 842.7,860.4 845.9,860.8 849.2,861.5 852.5,862.4 855.7,863.4 859,864.5 862.2,865.5 865.5,866.6 868.7,867.5 872,868.4 875.2,869.2 878.5,870 881.8,870.6 885,871.2 888.3,871.7 891.5,872.2 894.8,872.7 898,873 901.3,873.4 904.5,873.7 907.8,874 911.1,874.2 914.3,874.4 917.6,874.6 920.8,874.8 924.1,875 927.3,875.1 930.6,875.3 933.8,875.4 937.1,875.5 940.4,875.6 943.6,875.7 946.9,875.8 950.1,875.9 953.4,876 956.6,876 959.9,876.1 963.1,876.2 966.4,876.2 969.7,876.3 972.9,876.3 976.2,876.4 979.4,876.4 982.7,876.5 985.9,876.5 985.9,877.4Z" fill="#ffbfbf"/><path d="M592,867.2 595.3,866.9 598.5,866.6 601.8,866.2 605,865.8 608.3,865.4 611.5,865 614.8,864.5 618,864 621.3,863.5 624.6,862.9 627.8,862.3 631.1,861.6 634.3,860.9 637.6,860.1 640.8,859.2 644.1,858.3 647.3,857.3 650.6,856.1 653.9,854.9 657.1,853.5 660.4,852 663.6,850.4 666.9,848.6 670.1,846.6 673.4,844.3 676.6,841.8 679.9,839.1 683.2,836 686.4,832.5 689.7,828.6 692.9,824.3 696.2,819.5 699.4,814.1 702.7,808.1 705.9,801.6 709.2,794.5 712.5,786.9 715.7,778.9 719,770.8 722.2,762.8 725.5,755.5 728.7,749.3 732,744.7 735.2,742.2 738.5,741.9 741.8,743.9 745,748 748.3,753.8 751.5,760.8 754.8,768.5 758,776.4 761.3,784.1 764.5,791.5 767.8,798.5 771.1,804.8 774.3,810.5 777.6,815.6 780.8,820.1 784.1,824.1 787.3,827.5 790.6,830.5 793.9,833.1 797.1,835.3 800.4,837.1 803.6,838.6 806.9,839.8 810.1,840.8 813.4,841.4 816.6,841.9 819.9,842.2 823.2,842.4 826.4,842.5 829.7,842.7 832.9,842.9 836.2,843.4 839.4,844 842.7,844.9 845.9,846.1 849.2,847.4 852.5,848.9 855.7,850.4 859,852 862.2,853.5 865.5,854.9 868.7,856.3 872,857.5 875.2,858.7 878.5,859.8 881.8,860.7 885,861.6 888.3,862.4 891.5,863.2 894.8,863.8 898,864.4 901.3,865 904.5,865.5 907.8,866 911.1,866.4 914.3,866.8 917.6,867.2 920.8,867.5 924.1,867.8 927.3,868.1 930.6,868.4 933.8,868.6 937.1,868.9 940.4,869.1 943.6,869.3 946.9,869.5 950.1,869.7 953.4,869.9 956.6,870 959.9,870.2 963.1,870.3 966.4,870.5 969.7,870.6 972.9,870.7 976.2,870.8 979.4,870.9 982.7,871.1 985.9,871.2" fill="none" stroke="#000" stroke-width="3" stroke-linejoin="round"/></g>
<line x1="788.15" y1="12.6" x2="788.15" y2="887.8" stroke="#000" stroke-width="1.6" stroke-dasharray="4.4 6.4"/>
<rect x="592.0" y="12.6" width="392.3" height="875.2" fill="none" stroke="#000" stroke-width="1.6"/>
<line x1="690.08" y1="887.8" x2="690.08" y2="875.8" stroke="#000" stroke-width="1.6"/>
<line x1="690.08" y1="12.6" x2="690.08" y2="24.6" stroke="#000" stroke-width="1.6"/>
<line x1="788.15" y1="887.8" x2="788.15" y2="875.8" stroke="#000" stroke-width="1.6"/>
<line x1="788.15" y1="12.6" x2="788.15" y2="24.6" stroke="#000" stroke-width="1.6"/>
<line x1="886.22" y1="887.8" x2="886.22" y2="875.8" stroke="#000" stroke-width="1.6"/>
<line x1="886.22" y1="12.6" x2="886.22" y2="24.6" stroke="#000" stroke-width="1.6"/>
<line x1="641.04" y1="887.8" x2="641.04" y2="880.8" stroke="#000" stroke-width="1.6"/>
<line x1="641.04" y1="12.6" x2="641.04" y2="19.6" stroke="#000" stroke-width="1.6"/>
<line x1="739.11" y1="887.8" x2="739.11" y2="880.8" stroke="#000" stroke-width="1.6"/>
<line x1="739.11" y1="12.6" x2="739.11" y2="19.6" stroke="#000" stroke-width="1.6"/>
<line x1="837.19" y1="887.8" x2="837.19" y2="880.8" stroke="#000" stroke-width="1.6"/>
<line x1="837.19" y1="12.6" x2="837.19" y2="19.6" stroke="#000" stroke-width="1.6"/>
<line x1="935.26" y1="887.8" x2="935.26" y2="880.8" stroke="#000" stroke-width="1.6"/>
<line x1="935.26" y1="12.6" x2="935.26" y2="19.6" stroke="#000" stroke-width="1.6"/>
<text transform="translate(592,920) scale(0.9375,1)" font-size="28.8" text-anchor="middle">-60</text>
<text transform="translate(690.08,920) scale(0.9375,1)" font-size="28.8" text-anchor="middle">-30</text>
<text transform="translate(788.15,920) scale(0.9375,1)" font-size="28.8" text-anchor="middle">0</text>
<text transform="translate(886.22,920) scale(0.9375,1)" font-size="28.8" text-anchor="middle">30</text>
<text transform="translate(984.3,920) scale(0.9375,1)" font-size="28.8" text-anchor="middle">60</text>
<text x="720.2" y="953.5" font-size="27.7">E-E<tspan font-size="18.5" dy="7">F</tspan><tspan dy="-7" letter-spacing="0.8">(meV)</tspan></text>
<text transform="translate(561.3,449.3) rotate(-90)" font-size="27.7" text-anchor="middle">Intensity (arb.units.)</text>
<text x="534.7" y="22.6" font-size="28.5" text-anchor="start" >(b)</text>
<clipPath id="clipC"><rect x="89.6" y="493.2" width="392.4" height="392.6"/></clipPath>
<rect x="89.6" y="493.2" width="392.4" height="392.6" fill="none" stroke="#000" stroke-width="1.6"/>
<line x1="161.32" y1="885.8" x2="161.32" y2="873.8" stroke="#000" stroke-width="1.6"/>
<line x1="161.32" y1="493.2" x2="161.32" y2="505.2" stroke="#000" stroke-width="1.6"/>
<line x1="259.57" y1="885.8" x2="259.57" y2="873.8" stroke="#000" stroke-width="1.6"/>
<line x1="259.57" y1="493.2" x2="259.57" y2="505.2" stroke="#000" stroke-width="1.6"/>
<line x1="357.82" y1="885.8" x2="357.82" y2="873.8" stroke="#000" stroke-width="1.6"/>
<line x1="357.82" y1="493.2" x2="357.82" y2="505.2" stroke="#000" stroke-width="1.6"/>
<line x1="456.06" y1="885.8" x2="456.06" y2="873.8" stroke="#000" stroke-width="1.6"/>
<line x1="456.06" y1="493.2" x2="456.06" y2="505.2" stroke="#000" stroke-width="1.6"/>
<line x1="89.6" y1="814.42" x2="101.6" y2="814.42" stroke="#000" stroke-width="1.6"/>
<line x1="482" y1="814.42" x2="470" y2="814.42" stroke="#000" stroke-width="1.6"/>
<line x1="89.6" y1="743.04" x2="101.6" y2="743.04" stroke="#000" stroke-width="1.6"/>
<line x1="482" y1="743.04" x2="470" y2="743.04" stroke="#000" stroke-width="1.6"/>
<line x1="89.6" y1="671.65" x2="101.6" y2="671.65" stroke="#000" stroke-width="1.6"/>
<line x1="482" y1="671.65" x2="470" y2="671.65" stroke="#000" stroke-width="1.6"/>
<line x1="89.6" y1="600.27" x2="101.6" y2="600.27" stroke="#000" stroke-width="1.6"/>
<line x1="482" y1="600.27" x2="470" y2="600.27" stroke="#000" stroke-width="1.6"/>
<line x1="89.6" y1="528.89" x2="101.6" y2="528.89" stroke="#000" stroke-width="1.6"/>
<line x1="482" y1="528.89" x2="470" y2="528.89" stroke="#000" stroke-width="1.6"/>
<g>
<path d="M89.6,879.8 91.6,879.7 93.5,879.7 95.5,879.6 97.5,879.5 99.5,879.4 101.4,879.3 103.4,879.2 105.4,879.1 107.3,879 109.3,878.9 111.3,878.8 113.3,878.7 115.2,878.6 117.2,878.5 119.2,878.3 121.1,878.2 123.1,878.1 125.1,877.9 127.1,877.8 129,877.6 131,877.5 133,877.3 135,877.2 136.9,877 138.9,876.8 140.9,876.7 142.8,876.5 144.8,876.3 146.8,876.1 148.8,875.9 150.7,875.7 152.7,875.4 154.7,875.2 156.6,875 158.6,874.7 160.6,874.5 162.6,874.2 164.5,873.9 166.5,873.6 168.5,873.3 170.4,873 172.4,872.6 174.4,872.3 176.4,871.9 178.3,871.5 180.3,871.1 182.3,870.7 184.2,870.3 186.2,869.8 188.2,869.3 190.2,868.8 192.1,868.2 194.1,867.7 196.1,867.1 198.1,866.4 200,865.8 202,865.1 204,864.3 205.9,863.5 207.9,862.7 209.9,861.8 211.9,860.9 213.8,859.9 215.8,858.9 217.8,857.7 219.7,856.5 221.7,855.3 223.7,853.9 225.7,852.5 227.6,850.9 229.6,849.3 231.6,847.5 233.5,845.7 235.5,843.6 237.5,841.5 239.5,839.1 241.4,836.7 243.4,834 245.4,831.1 247.3,828 249.3,824.7 251.3,821.1 253.3,817.3 255.2,813.1 257.2,808.7 259.2,804 261.2,798.9 263.1,793.5 265.1,787.7 267.1,781.5 269,775 271,768.1 273,760.8 275,753.2 276.9,745.3 278.9,737.1 280.9,728.7 282.8,720.1 284.8,711.3 286.8,702.5 288.8,693.7 290.7,684.9 292.7,676.2 294.7,667.8 296.6,659.5 298.6,651.6 300.6,644 302.6,636.7 304.5,629.8 306.5,623.2 308.5,617.1 310.4,611.3 312.4,605.9 314.4,600.8 316.4,596.1 318.3,591.8 320.3,587.7 322.3,583.9 324.3,580.5 326.2,577.2 328.2,574.3 330.2,571.5 332.1,568.9 334.1,566.6 336.1,564.4 338.1,562.3 340,560.4 342,558.7 344,557 345.9,555.5 347.9,554.1 349.9,552.8 351.9,551.6 353.8,550.4 355.8,549.3 357.8,548.3 359.7,547.4 361.7,546.5 363.7,545.7 365.7,544.9 367.6,544.2 369.6,543.5 371.6,542.9 373.5,542.3 375.5,541.7 377.5,541.2 379.5,540.7 381.4,540.2 383.4,539.7 385.4,539.3 387.4,538.9 389.3,538.5 391.3,538.2 393.3,537.8 395.2,537.5 397.2,537.2 399.2,536.9 401.2,536.6 403.1,536.3 405.1,536.1 407.1,535.8 409,535.6 411,535.4 413,535.1 415,534.9 416.9,534.7 418.9,534.6 420.9,534.4 422.8,534.2 424.8,534.1 426.8,533.9 428.8,533.7 430.7,533.6 432.7,533.5 434.7,533.3 436.6,533.2 438.6,533.1 440.6,533 442.6,532.8 444.5,532.7 446.5,532.6 448.5,532.5 450.5,532.4 452.4,532.3 454.4,532.2 456.4,532.2 458.3,532.1 460.3,532 462.3,531.9 464.3,531.8 466.2,531.8 468.2,531.7 470.2,531.6 472.1,531.6 474.1,531.5 476.1,531.4 478.1,531.4 480,531.3 482,531.3" fill="none" stroke="#ff0000" stroke-width="4.5"/>
<path d="M89.6,534.9 91.6,534.9 93.5,535 95.5,535.1 97.5,535.2 99.5,535.3 101.4,535.4 103.4,535.5 105.4,535.6 107.3,535.7 109.3,535.8 111.3,535.9 113.3,536 115.2,536.1 117.2,536.2 119.2,536.4 121.1,536.5 123.1,536.6 125.1,536.8 127.1,536.9 129,537 131,537.2 133,537.3 135,537.5 136.9,537.7 138.9,537.8 140.9,538 142.8,538.2 144.8,538.4 146.8,538.6 148.8,538.8 150.7,539 152.7,539.2 154.7,539.5 156.6,539.7 158.6,540 160.6,540.2 162.6,540.5 164.5,540.8 166.5,541.1 168.5,541.4 170.4,541.7 172.4,542.1 174.4,542.4 176.4,542.8 178.3,543.2 180.3,543.6 182.3,544 184.2,544.4 186.2,544.9 188.2,545.4 190.2,545.9 192.1,546.5 194.1,547 196.1,547.6 198.1,548.3 200,548.9 202,549.6 204,550.4 205.9,551.1 207.9,552 209.9,552.9 211.9,553.8 213.8,554.8 215.8,555.8 217.8,557 219.7,558.1 221.7,559.4 223.7,560.8 225.7,562.2 227.6,563.7 229.6,565.4 231.6,567.2 233.5,569 235.5,571.1 237.5,573.2 239.5,575.5 241.4,578 243.4,580.7 245.4,583.6 247.3,586.7 249.3,590 251.3,593.6 253.3,597.4 255.2,601.5 257.2,606 259.2,610.7 261.2,615.8 263.1,621.2 265.1,627 267.1,633.2 269,639.7 271,646.6 273,653.9 275,661.5 276.9,669.4 278.9,677.6 280.9,686 282.8,694.6 284.8,703.4 286.8,712.2 288.8,721 290.7,729.8 292.7,738.4 294.7,746.9 296.6,755.1 298.6,763.1 300.6,770.7 302.6,778 304.5,784.9 306.5,791.5 308.5,797.6 310.4,803.4 312.4,808.8 314.4,813.9 316.4,818.6 318.3,822.9 320.3,827 322.3,830.7 324.3,834.2 326.2,837.5 328.2,840.4 330.2,843.2 332.1,845.8 334.1,848.1 336.1,850.3 338.1,852.4 340,854.3 342,856 344,857.7 345.9,859.2 347.9,860.6 349.9,861.9 351.9,863.1 353.8,864.3 355.8,865.3 357.8,866.3 359.7,867.3 361.7,868.2 363.7,869 365.7,869.8 367.6,870.5 369.6,871.2 371.6,871.8 373.5,872.4 375.5,873 377.5,873.5 379.5,874 381.4,874.5 383.4,875 385.4,875.4 387.4,875.8 389.3,876.2 391.3,876.5 393.3,876.9 395.2,877.2 397.2,877.5 399.2,877.8 401.2,878.1 403.1,878.4 405.1,878.6 407.1,878.9 409,879.1 411,879.3 413,879.5 415,879.7 416.9,879.9 418.9,880.1 420.9,880.3 422.8,880.5 424.8,880.6 426.8,880.8 428.8,880.9 430.7,881.1 432.7,881.2 434.7,881.4 436.6,881.5 438.6,881.6 440.6,881.7 442.6,881.8 444.5,882 446.5,882.1 448.5,882.2 450.5,882.3 452.4,882.4 454.4,882.4 456.4,882.5 458.3,882.6 460.3,882.7 462.3,882.8 464.3,882.8 466.2,882.9 468.2,883 470.2,883.1 472.1,883.1 474.1,883.2 476.1,883.3 478.1,883.3 480,883.4 482,883.4" fill="none" stroke="#0040ff" stroke-width="4.5"/>
<line x1="89.6" y1="528.89" x2="483.0" y2="528.89" stroke="#000" stroke-width="3.6"/>
</g>
<text transform="translate(81.4,895.2) scale(0.9375,1)" font-size="28.8" text-anchor="end">0.0</text>
<text transform="translate(81.4,823.82) scale(0.9375,1)" font-size="28.8" text-anchor="end">0.2</text>
<text transform="translate(81.4,752.44) scale(0.9375,1)" font-size="28.8" text-anchor="end">0.4</text>
<text transform="translate(81.4,681.05) scale(0.9375,1)" font-size="28.8" text-anchor="end">0.6</text>
<text transform="translate(81.4,609.67) scale(0.9375,1)" font-size="28.8" text-anchor="end">0.8</text>
<text transform="translate(81.4,538.29) scale(0.9375,1)" font-size="28.8" text-anchor="end">1.0</text>
<text transform="translate(161.32,918.4) scale(0.9375,1)" font-size="28.8" text-anchor="middle">0.15</text>
<text transform="translate(259.57,918.4) scale(0.9375,1)" font-size="28.8" text-anchor="middle">0.20</text>
<text transform="translate(357.82,918.4) scale(0.9375,1)" font-size="28.8" text-anchor="middle">0.25</text>
<text transform="translate(456.06,918.4) scale(0.9375,1)" font-size="28.8" text-anchor="middle">0.30</text>
<text x="285.2" y="948.8" font-size="27.7" text-anchor="middle" >Momentum (1/Å)</text>
<text transform="translate(24.6,688.5) rotate(-90)" font-size="27.7" text-anchor="middle">Coherence factor</text>
<text x="-0.3" y="503.3" font-size="28.5" text-anchor="start" >(c)</text>
<line x1="110.4" y1="763" x2="141.9" y2="763" stroke="#ff0000" stroke-width="4.5"/>
<line x1="110.4" y1="790.7" x2="141.9" y2="790.7" stroke="#0040ff" stroke-width="4.5"/>
<line x1="110.4" y1="819" x2="141.9" y2="819" stroke="#000" stroke-width="4.5"/>
<text x="149" y="768.2" font-size="16">|u<tspan font-size="11" dy="4">k</tspan><tspan dy="-4">|</tspan><tspan font-size="12" dy="-12">2</tspan></text>
<text x="149" y="795.9" font-size="16">|v<tspan font-size="11" dy="4">k</tspan><tspan dy="-4">|</tspan><tspan font-size="12" dy="-12">2</tspan></text>
<text x="149" y="824.2" font-size="16">|u<tspan font-size="11" dy="4">k</tspan><tspan dy="-4">|</tspan><tspan font-size="12" dy="-12">2</tspan><tspan dy="12" dx="0.8">+</tspan>|v<tspan font-size="11" dy="4">k</tspan><tspan dy="-4">|</tspan><tspan font-size="12" dy="-12">2</tspan></text>
</svg>
<script>
(function(){
var c=document.getElementById('hm'),ctx=c.getContext('2d');
var W=392,H=393;var img=ctx.createImageData(W,H),d=img.data;
var AX0=89.6,AX1=482.0,AY0=13.8,AY1=406.6,L0=90,T0=14;
var a=1155.0,kF=0.2133,D=10.0;
var GW=[-100, -70, -52, -25, 0, 20, 46, 70, 100],GV=[19, 15, 13.7, 13, 12.5, 13.5, 17.5, 19.5, 22],HW=[-100, -60, -52, -42, -34, -20, 25, 46, 70, 95],HV=[0.78, 0.76, 0.75, 0.83, 0.99, 1.1, 1.08, 0.85, 0.62, 0.5],sc=1.0;
function interp(xs,ys,x){if(x<=xs[0])return ys[0];var n=xs.length;if(x>=xs[n-1])return ys[n-1];
for(var i=1;i<n;i++){if(x<=xs[i]){var t=(x-xs[i-1])/(xs[i]-xs[i-1]);t=t*t*(3-2*t);return ys[i-1]+t*(ys[i]-ys[i-1]);}}}
var st=[[0,51,51,153],[0.078,0,153,255],[0.14,0,204,102],[0.40,255,255,153],[0.59,138,90,80],[1.0,255,255,255]];
function cm(p){if(p<=0)return st[0].slice(1);if(p>=1)return st[st.length-1].slice(1);
for(var i=1;i<st.length;i++){if(p<=st[i][0]){var t=(p-st[i-1][0])/(st[i][0]-st[i-1][0]);
return [st[i-1][1]+t*(st[i][1]-st[i-1][1]),st[i-1][2]+t*(st[i][2]-st[i-1][2]),st[i-1][3]+t*(st[i][3]-st[i-1][3])];}}}
for(var py=0;py<H;py++){var w=100-(py+0.5+T0-AY0)/(AY1-AY0)*200;
 var g=interp(GW,GV,w),g2=g*g,h=interp(HW,HV,w)*sc;
 for(var px=0;px<W;px++){var k=-0.5+(px+0.5+L0-AX0)/(AX1-AX0);
  var xi=a*(k*k-kF*kF),E=Math.sqrt(xi*xi+D*D),u2=0.5*(1+xi/E),v2=1-u2;
  var I=(u2*g2/((w-E)*(w-E)+g2)+v2*g2/((w+E)*(w+E)+g2))*h;
  var col=cm(1-I);var o=(py*W+px)*4;d[o]=col[0];d[o+1]=col[1];d[o+2]=col[2];d[o+3]=255;}}
ctx.putImageData(img,0,0);})();
</script>
</body></html>
